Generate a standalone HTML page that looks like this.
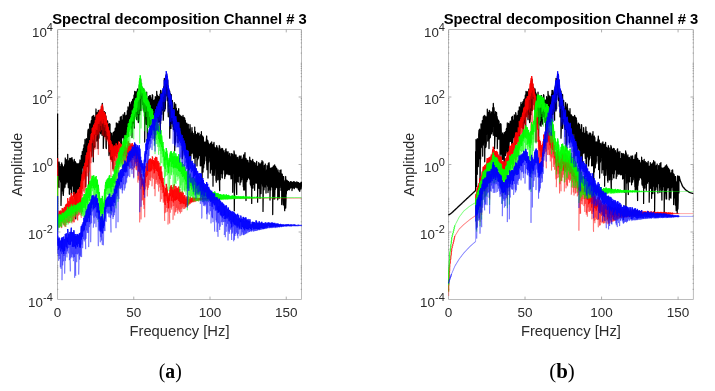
<!DOCTYPE html>
<html><head><meta charset="utf-8"><title>Spectral decomposition</title>
<style>
html,body{margin:0;padding:0;background:#fff;}
body{width:715px;height:391px;overflow:hidden;}
svg{display:block;will-change:transform;}
svg text{font-family:"Liberation Sans",sans-serif;}
svg text.cap{font-family:"Liberation Serif",serif;}
</style></head>
<body>
<svg width="715" height="391" viewBox="0 0 715 391">
<rect width="715" height="391" fill="#fff"/>
<g>
<clipPath id="cp0"><rect x="56.90" y="29.10" width="245.20" height="270.80"/></clipPath>
<path d="M57.50,29.50H301.50V299.50H57.50Z" fill="none" stroke="#bcbcbc" stroke-width="1.00"/>
<path d="M133.75,299.50v-2.90M133.75,29.50v2.90M210.00,299.50v-2.90M210.00,29.50v2.90M286.25,299.50v-2.90M286.25,29.50v2.90M57.00,289.34h1.30M302.00,289.34h-1.30M57.00,283.40h1.30M302.00,283.40h-1.30M57.00,279.18h1.30M302.00,279.18h-1.30M57.00,275.91h1.30M302.00,275.91h-1.30M57.00,273.24h1.30M302.00,273.24h-1.30M57.00,270.98h1.30M302.00,270.98h-1.30M57.00,269.02h1.30M302.00,269.02h-1.30M57.00,267.29h1.30M302.00,267.29h-1.30M57.00,265.75h1.30M302.00,265.75h-1.30M57.00,255.59h1.30M302.00,255.59h-1.30M57.00,249.65h1.30M302.00,249.65h-1.30M57.00,245.43h1.30M302.00,245.43h-1.30M57.00,242.16h1.30M302.00,242.16h-1.30M57.00,239.49h1.30M302.00,239.49h-1.30M57.00,237.23h1.30M302.00,237.23h-1.30M57.00,235.27h1.30M302.00,235.27h-1.30M57.00,233.54h1.30M302.00,233.54h-1.30M57.50,232.00h2.90M301.50,232.00h-2.90M57.00,221.84h1.30M302.00,221.84h-1.30M57.00,215.90h1.30M302.00,215.90h-1.30M57.00,211.68h1.30M302.00,211.68h-1.30M57.00,208.41h1.30M302.00,208.41h-1.30M57.00,205.74h1.30M302.00,205.74h-1.30M57.00,203.48h1.30M302.00,203.48h-1.30M57.00,201.52h1.30M302.00,201.52h-1.30M57.00,199.79h1.30M302.00,199.79h-1.30M57.00,198.25h1.30M302.00,198.25h-1.30M57.00,188.09h1.30M302.00,188.09h-1.30M57.00,182.15h1.30M302.00,182.15h-1.30M57.00,177.93h1.30M302.00,177.93h-1.30M57.00,174.66h1.30M302.00,174.66h-1.30M57.00,171.99h1.30M302.00,171.99h-1.30M57.00,169.73h1.30M302.00,169.73h-1.30M57.00,167.77h1.30M302.00,167.77h-1.30M57.00,166.04h1.30M302.00,166.04h-1.30M57.50,164.50h2.90M301.50,164.50h-2.90M57.00,154.34h1.30M302.00,154.34h-1.30M57.00,148.40h1.30M302.00,148.40h-1.30M57.00,144.18h1.30M302.00,144.18h-1.30M57.00,140.91h1.30M302.00,140.91h-1.30M57.00,138.24h1.30M302.00,138.24h-1.30M57.00,135.98h1.30M302.00,135.98h-1.30M57.00,134.02h1.30M302.00,134.02h-1.30M57.00,132.29h1.30M302.00,132.29h-1.30M57.00,130.75h1.30M302.00,130.75h-1.30M57.00,120.59h1.30M302.00,120.59h-1.30M57.00,114.65h1.30M302.00,114.65h-1.30M57.00,110.43h1.30M302.00,110.43h-1.30M57.00,107.16h1.30M302.00,107.16h-1.30M57.00,104.49h1.30M302.00,104.49h-1.30M57.00,102.23h1.30M302.00,102.23h-1.30M57.00,100.27h1.30M302.00,100.27h-1.30M57.00,98.54h1.30M302.00,98.54h-1.30M57.50,97.00h2.90M301.50,97.00h-2.90M57.00,86.84h1.30M302.00,86.84h-1.30M57.00,80.90h1.30M302.00,80.90h-1.30M57.00,76.68h1.30M302.00,76.68h-1.30M57.00,73.41h1.30M302.00,73.41h-1.30M57.00,70.74h1.30M302.00,70.74h-1.30M57.00,68.48h1.30M302.00,68.48h-1.30M57.00,66.52h1.30M302.00,66.52h-1.30M57.00,64.79h1.30M302.00,64.79h-1.30M57.00,63.25h1.30M302.00,63.25h-1.30M57.00,53.09h1.30M302.00,53.09h-1.30M57.00,47.15h1.30M302.00,47.15h-1.30M57.00,42.93h1.30M302.00,42.93h-1.30M57.00,39.66h1.30M302.00,39.66h-1.30M57.00,36.99h1.30M302.00,36.99h-1.30M57.00,34.73h1.30M302.00,34.73h-1.30M57.00,32.77h1.30M302.00,32.77h-1.30M57.00,31.04h1.30M302.00,31.04h-1.30" fill="none" stroke="#8c8c8c" stroke-width="0.7"/>
<g clip-path="url(#cp0)" fill="none" stroke-linejoin="round" stroke-linecap="butt">
<path d="M57.6,113.6 57.6,166.7 58.0,165.5 58.0,186.5 58.3,180.0 58.3,162.5 58.7,168.3 58.7,176.1 59.0,187.5 59.0,161.8 59.3,163.6 59.3,180.3 59.7,175.7 59.7,166.4 60.0,170.6 60.0,176.3 60.3,175.9 60.3,172.1 60.6,166.9 60.6,181.9 61.0,164.7 61.0,205.4 61.3,194.0 61.3,178.2 61.7,184.7 61.7,162.9 62.0,167.7 62.0,181.8 62.3,190.9 62.3,164.7 62.7,170.7 62.7,181.5 63.0,194.0 63.0,168.0 63.3,166.9 63.3,195.4 63.6,190.1 63.6,169.6 64.0,169.8 64.0,188.2 64.3,179.3 64.3,167.6 64.7,164.7 64.7,182.6 65.0,187.2 65.0,167.0 65.3,158.0 65.3,176.5 65.7,182.3 65.7,169.0 66.0,162.6 66.0,183.9 66.3,180.2 66.3,159.5 66.7,164.5 66.7,177.8 67.0,174.8 67.0,163.8 67.3,167.4 67.3,182.2 67.7,175.2 67.7,154.3 68.0,166.1 68.0,180.5 68.3,187.6 68.3,160.6 68.7,165.9 68.7,179.0 69.0,176.6 69.0,161.3 69.3,168.9 69.3,194.1 69.7,194.3 69.7,158.4 70.0,160.0 70.0,186.3 70.3,180.0 70.3,158.3 70.7,166.6 70.7,189.0 71.0,172.2 71.0,164.0 71.3,158.5 71.3,180.5 71.7,194.1 71.7,157.9 72.0,157.6 72.0,181.2 72.3,173.9 72.3,164.3 72.7,160.1 72.7,182.4 73.0,186.1 73.0,165.9 73.3,163.0 73.3,181.9 73.7,196.3 73.7,161.8 74.0,167.6 74.0,189.2 74.3,177.6 74.3,159.4 74.7,173.7 74.7,198.1 75.0,183.7 75.0,175.7 75.3,187.1 75.3,161.6 75.7,162.7 75.7,218.8 76.0,188.7 76.0,169.3 76.3,163.4 76.3,175.9 76.7,166.0 76.7,201.6 77.0,176.3 77.0,164.7 77.3,164.5 77.3,189.2 77.7,188.5 77.7,163.7 78.0,164.8 78.0,189.2 78.3,188.5 78.3,174.1 78.7,165.0 78.7,183.8 79.0,185.9 79.0,163.4 79.3,167.1 79.3,185.2 79.7,192.3 79.7,164.0 80.0,160.0 80.0,191.4 80.3,183.5 80.3,169.9 80.7,171.7 80.7,163.2 81.0,163.0 81.0,186.9 81.3,175.3 81.3,155.6 81.7,155.8 81.7,169.8 82.0,177.9 82.0,158.4 82.3,151.5 82.3,166.9 82.7,167.9 82.7,153.8 83.0,157.6 83.0,167.5 83.3,166.2 83.3,149.1 83.7,148.3 83.7,162.1 84.0,172.9 84.0,144.9 84.3,158.3 84.3,176.7 84.7,163.6 84.7,150.6 85.0,139.5 85.0,175.3 85.3,170.1 85.3,146.5 85.7,147.2 85.7,186.7 86.0,174.3 86.0,149.0 86.3,152.3 86.3,138.5 86.7,139.8 86.7,155.0 87.0,154.3 87.0,140.6 87.3,142.1 87.3,166.6 87.7,149.5 87.7,134.9 88.0,130.2 88.0,158.5 88.3,146.7 88.3,129.2 88.7,131.6 88.7,185.2 89.0,160.7 89.0,132.5 89.3,132.9 89.3,159.1 89.7,145.0 89.7,123.9 90.0,129.8 90.0,147.7 90.3,147.0 90.3,127.9 90.7,123.8 90.7,141.6 91.0,139.2 91.0,124.4 91.3,120.7 91.3,132.8 91.7,121.1 91.7,156.2 92.0,145.1 92.0,116.8 92.3,121.5 92.3,134.9 92.7,139.2 92.7,116.2 93.0,120.3 93.0,129.3 93.3,120.5 93.3,161.8 93.7,128.6 93.7,115.4 94.0,123.7 94.0,147.8 94.3,133.7 94.3,118.2 94.7,118.4 94.7,134.2 95.0,147.0 95.0,117.0 95.3,119.6 95.3,126.1 95.7,130.2 95.7,119.3 96.0,109.0 96.0,134.0 96.3,129.1 96.3,116.4 96.7,120.6 96.7,141.1 97.0,133.0 97.0,121.7 97.3,112.3 97.3,137.0 97.7,137.5 97.7,116.2 98.0,116.8 98.0,148.6 98.3,131.6 98.3,110.3 98.7,125.6 98.7,138.5 99.0,137.4 99.0,115.7 99.3,115.7 99.3,123.3 99.7,119.0 99.7,131.9 100.0,122.9 100.0,111.5 100.3,112.5 100.3,129.4 100.7,133.8 100.7,113.8 101.0,112.5 101.0,130.1 101.4,131.6 101.4,107.6 101.7,110.3 101.7,116.6 102.0,117.8 102.0,135.3 102.3,126.4 102.3,103.4 102.7,107.5 102.7,126.2 103.0,121.2 103.0,111.4 103.3,115.3 103.3,148.4 103.7,136.3 103.7,114.0 104.0,119.5 104.0,131.4 104.4,131.1 104.4,111.6 104.7,129.4 104.7,133.5 105.0,136.4 105.0,112.7 105.3,112.7 105.3,126.7 105.7,132.0 105.7,118.7 106.0,116.4 106.0,147.3 106.3,148.6 106.3,119.1 106.7,122.8 106.7,130.4 107.0,139.1 107.0,120.3 107.3,128.3 107.3,137.7 107.6,133.0 107.6,121.0 108.0,127.0 108.0,139.1 108.3,132.3 108.3,126.7 108.7,124.6 108.7,145.3 109.0,155.6 109.0,129.6 109.3,123.6 109.3,151.3 109.7,144.6 109.7,130.0 110.0,124.2 110.0,148.2 110.3,154.2 110.3,132.1 110.6,137.0 110.6,158.9 111.0,156.8 111.0,139.9 111.3,133.4 111.3,152.4 111.7,159.6 111.7,133.0 112.0,141.4 112.0,150.1 112.3,150.5 112.3,135.8 112.7,138.3 112.7,159.3 113.0,168.7 113.0,140.0 113.3,132.3 113.3,152.7 113.7,154.9 113.7,133.8 114.0,135.3 114.0,153.4 114.3,148.1 114.3,131.5 114.7,141.2 114.7,155.7 115.0,139.9 115.0,131.2 115.3,128.1 115.3,148.3 115.7,146.1 115.7,132.8 116.0,133.2 116.0,153.1 116.3,142.9 116.3,122.9 116.7,133.8 116.7,147.7 117.0,152.1 117.0,132.9 117.3,123.4 117.3,145.1 117.7,142.5 117.7,126.1 118.0,126.8 118.0,147.0 118.3,141.7 118.3,126.3 118.7,123.5 118.7,133.6 119.0,138.5 119.0,121.2 119.3,131.0 119.3,141.4 119.7,136.3 119.7,121.7 120.0,121.4 120.0,131.6 120.3,132.4 120.3,117.1 120.7,129.7 120.7,143.8 121.0,140.4 121.0,117.8 121.3,116.4 121.3,144.1 121.7,137.4 121.7,127.3 122.0,121.6 122.0,133.5 122.3,133.6 122.3,120.2 122.7,124.3 122.7,137.7 123.0,128.8 123.0,114.8 123.3,118.1 123.3,130.5 123.7,135.1 123.7,115.5 124.0,120.3 124.0,145.7 124.3,148.0 124.3,114.2 124.7,112.6 124.7,129.0 125.0,117.0 125.0,142.7 125.3,129.3 125.3,116.3 125.7,116.8 125.7,123.9 126.0,126.4 126.0,115.6 126.3,115.3 126.3,134.7 126.7,137.2 126.7,115.3 127.0,120.3 127.0,133.3 127.3,118.1 127.3,110.8 127.7,118.8 127.7,136.3 128.0,124.3 128.0,106.9 128.3,110.6 128.3,136.2 128.7,118.5 128.7,108.7 129.0,112.7 129.0,120.3 129.3,124.9 129.3,108.5 129.7,102.4 129.7,123.7 130.0,117.8 130.0,108.4 130.3,106.7 130.3,122.2 130.7,115.1 130.7,106.5 131.0,104.4 131.0,127.2 131.3,128.0 131.3,103.6 131.7,101.7 131.7,110.9 132.0,107.4 132.0,137.4 132.3,121.2 132.3,101.8 132.7,99.4 132.7,123.2 133.0,116.4 133.0,101.2 133.3,98.9 133.3,117.5 133.7,108.8 133.7,103.2 134.0,95.2 134.0,123.9 134.3,128.1 134.3,107.4 134.7,116.5 134.7,91.3 135.0,96.6 135.0,116.5 135.3,109.5 135.3,93.0 135.7,92.9 135.7,109.4 136.0,102.4 136.0,91.7 136.3,97.5 136.3,110.1 136.7,119.7 136.7,96.2 137.0,96.4 137.0,114.5 137.3,100.6 137.3,90.4 137.7,88.9 137.7,102.0 138.0,94.3 138.0,111.1 138.3,122.6 138.3,96.5 138.7,91.4 138.7,122.0 139.0,118.5 139.0,96.3 139.3,105.3 139.3,86.0 139.7,83.1 139.7,114.7 140.0,97.1 140.0,83.8 140.3,82.1 140.3,99.7 140.7,93.6 140.7,79.4 141.0,95.0 141.0,110.6 141.3,94.0 141.3,84.4 141.7,88.1 141.7,96.8 142.0,98.1 142.0,89.5 142.3,87.5 142.3,96.5 142.7,91.2 142.7,104.7 143.0,103.4 143.0,89.0 143.3,95.0 143.3,110.2 143.7,106.6 143.7,88.9 144.0,92.7 144.0,107.6 144.3,112.1 144.3,96.4 144.7,93.2 144.7,142.0 145.0,101.2 145.0,94.4 145.3,96.3 145.3,118.6 145.7,112.9 145.7,97.7 146.0,98.5 146.0,113.2 146.3,124.3 146.3,97.9 146.7,92.1 146.7,105.7 147.0,99.9 147.0,115.8 147.3,105.0 147.3,141.0 147.7,113.3 147.7,101.2 148.0,98.5 148.0,110.1 148.4,112.1 148.4,97.7 148.7,96.5 148.7,109.1 149.0,99.2 149.0,125.2 149.3,112.6 149.3,97.8 149.7,95.7 149.7,126.3 150.0,119.0 150.0,98.9 150.3,95.7 150.3,118.6 150.7,119.4 150.7,97.4 151.0,100.7 151.0,124.1 151.4,113.1 151.4,100.9 151.7,99.3 151.7,110.8 152.0,116.8 152.0,101.6 152.3,107.9 152.3,94.7 152.7,95.5 152.7,112.9 153.0,112.4 153.0,106.2 153.3,100.3 153.3,114.9 153.7,122.3 153.7,104.9 154.0,100.5 154.0,111.3 154.4,108.1 154.4,140.4 154.7,111.2 154.7,99.7 155.0,102.3 155.0,138.0 155.3,126.2 155.3,96.6 155.7,98.3 155.7,118.7 156.0,107.4 156.0,101.9 156.3,100.0 156.3,110.8 156.7,108.2 156.7,91.3 157.0,97.9 157.0,122.9 157.3,105.1 157.3,96.9 157.6,95.4 157.6,102.2 158.0,98.1 158.0,122.6 158.3,121.4 158.3,96.5 158.7,96.5 158.7,117.4 159.0,112.6 159.0,99.0 159.3,101.9 159.3,121.7 159.7,116.0 159.7,107.0 160.0,94.1 160.0,124.3 160.3,140.4 160.3,101.8 160.6,90.4 160.6,123.6 161.0,102.5 161.0,90.7 161.3,98.4 161.3,109.1 161.7,114.2 161.7,95.0 162.0,96.3 162.0,102.1 162.3,103.1 162.3,93.2 162.7,93.7 162.7,103.3 163.0,110.8 163.0,89.9 163.3,96.2 163.3,120.2 163.7,107.4 163.7,87.4 164.0,86.2 164.0,104.3 164.3,96.0 164.3,78.4 164.7,81.5 164.7,111.0 165.0,105.8 165.0,85.0 165.3,84.6 165.3,108.8 165.7,86.6 165.7,79.8 166.0,75.0 166.0,93.8 166.3,87.1 166.3,75.7 166.7,74.7 166.7,93.8 167.0,96.2 167.0,81.8 167.3,80.9 167.3,100.7 167.7,88.8 167.7,80.2 168.0,89.3 168.0,106.3 168.3,116.8 168.3,92.9 168.7,89.9 168.7,106.0 169.0,105.1 169.0,90.5 169.3,94.1 169.3,106.3 169.7,91.0 169.7,138.2 170.0,118.7 170.0,100.4 170.3,105.2 170.3,93.5 170.7,98.2 170.7,116.4 171.0,128.4 171.0,98.6 171.3,94.7 171.3,119.3 171.7,123.3 171.7,109.6 172.0,102.2 172.0,119.7 172.3,111.5 172.3,100.4 172.7,106.9 172.7,121.3 173.0,126.6 173.0,108.3 173.3,108.5 173.3,129.3 173.7,120.0 173.7,109.4 174.0,118.2 174.0,126.7 174.3,129.6 174.3,102.5 174.7,121.3 174.7,150.8 175.0,131.6 175.0,110.0 175.3,121.8 175.3,143.1 175.7,121.0 175.7,104.0 176.0,115.8 176.0,129.4 176.3,125.5 176.3,108.1 176.7,114.1 176.7,118.6 177.0,123.2 177.0,113.1 177.3,111.0 177.3,135.7 177.7,127.4 177.7,112.8 178.0,115.5 178.0,142.8 178.3,122.1 178.3,114.3 178.7,108.7 178.7,130.2 179.0,132.0 179.0,120.2 179.3,114.6 179.3,136.7 179.7,129.9 179.7,114.8 180.0,118.1 180.0,126.2 180.3,130.2 180.3,121.6 180.7,118.9 180.7,115.9 181.0,122.9 181.0,139.2 181.3,131.7 181.3,123.2 181.7,128.9 181.7,116.7 182.0,125.2 182.0,133.3 182.3,118.8 182.3,158.7 182.7,147.7 182.7,128.4 183.0,115.3 183.0,142.3 183.3,128.0 183.3,118.3 183.7,122.7 183.7,132.9 184.0,143.8 184.0,117.4 184.3,117.7 184.3,152.9 184.7,143.0 184.7,118.1 185.0,122.2 185.0,150.7 185.3,142.4 185.3,120.4 185.7,129.7 185.7,138.2 186.0,125.4 186.0,155.8 186.3,147.9 186.3,128.3 186.7,132.1 186.7,123.0 187.0,123.9 187.0,146.4 187.3,150.0 187.3,131.2 187.7,128.0 187.7,143.2 188.0,148.3 188.0,127.5 188.3,124.3 188.3,174.2 188.7,142.7 188.7,129.0 189.0,129.3 189.0,150.0 189.3,155.6 189.3,131.9 189.7,134.4 189.7,142.4 190.0,157.0 190.0,124.6 190.3,129.0 190.3,143.7 190.7,133.1 190.7,162.3 191.0,153.5 191.0,135.2 191.3,134.1 191.3,153.5 191.7,147.9 191.7,132.8 192.0,127.6 192.0,153.1 192.3,147.0 192.3,131.3 192.7,136.7 192.7,150.2 193.0,149.3 193.0,133.4 193.3,133.4 193.3,152.9 193.7,158.4 193.7,135.1 194.0,136.1 194.0,155.6 194.3,153.7 194.3,136.7 194.7,141.6 194.7,127.0 195.0,147.5 195.0,172.7 195.3,142.0 195.3,131.3 195.7,136.1 195.7,142.9 196.0,141.8 196.0,157.0 196.3,155.9 196.3,134.7 196.7,136.6 196.7,139.9 197.0,136.2 197.0,165.9 197.3,154.9 197.3,134.7 197.7,133.0 197.7,159.6 198.0,154.0 198.0,137.4 198.4,135.0 198.4,158.1 198.7,154.0 198.7,136.9 199.0,133.2 199.0,146.7 199.3,155.3 199.3,137.6 199.7,136.2 199.7,150.5 200.0,155.8 200.0,138.5 200.3,142.2 200.3,165.8 200.7,159.3 200.7,134.5 201.0,134.7 201.0,165.6 201.4,152.5 201.4,131.7 201.7,155.0 201.7,163.9 202.0,145.4 202.0,187.3 202.3,160.3 202.3,141.0 202.7,136.0 202.7,161.2 203.0,150.7 203.0,172.0 203.3,151.1 203.3,137.2 203.7,145.2 203.7,167.8 204.0,156.3 204.0,142.4 204.3,145.4 204.3,163.8 204.6,161.5 204.6,152.5 205.0,156.0 205.0,141.8 205.3,146.6 205.3,152.7 205.7,155.3 205.7,145.9 206.0,144.3 206.0,150.8 206.3,160.6 206.3,140.3 206.7,136.0 206.7,163.4 207.0,169.6 207.0,142.4 207.3,146.0 207.3,154.9 207.6,159.0 207.6,140.2 208.0,141.7 208.0,178.0 208.3,160.0 208.3,147.1 208.7,143.3 208.7,162.2 209.0,160.7 209.0,147.7 209.3,144.9 209.3,152.3 209.7,153.7 209.7,144.7 210.0,146.1 210.0,156.9 210.3,148.7 210.3,173.0 210.6,162.9 210.6,143.2 211.0,151.2 211.0,159.1 211.3,159.6 211.3,151.9 211.7,141.9 211.7,169.7 212.0,161.5 212.0,152.1 212.3,144.6 212.3,175.2 212.7,155.9 212.7,145.9 213.0,150.6 213.0,186.2 213.3,157.4 213.3,144.0 213.7,146.0 213.7,157.5 214.0,158.4 214.0,142.4 214.3,152.4 214.3,175.3 214.7,157.8 214.7,147.2 215.0,147.4 215.0,162.9 215.3,167.4 215.3,149.6 215.7,153.9 215.7,168.5 216.0,180.6 216.0,148.1 216.3,150.9 216.3,182.2 216.7,158.9 216.7,145.5 217.0,148.1 217.0,163.5 217.3,163.8 217.3,150.9 217.7,148.2 217.7,179.9 218.0,179.7 218.0,150.8 218.3,153.3 218.3,165.5 218.7,165.0 218.7,176.0 219.0,164.7 219.0,150.7 219.3,145.5 219.3,178.7 219.7,190.7 219.7,146.7 220.0,149.6 220.0,166.9 220.3,179.7 220.3,148.8 220.7,151.0 220.7,168.0 221.0,167.0 221.0,160.9 221.3,149.2 221.3,173.6 221.7,164.7 221.7,153.7 222.0,148.3 222.0,177.4 222.3,178.0 222.3,152.4 222.7,148.9 222.7,173.9 223.0,162.2 223.0,159.0 223.3,157.4 223.3,167.2 223.7,163.7 223.7,153.6 224.0,150.7 224.0,169.9 224.3,165.4 224.3,154.6 224.7,152.9 224.7,178.5 225.0,172.6 225.0,155.8 225.3,158.8 225.3,176.2 225.7,169.5 225.7,149.5 226.0,148.8 226.0,173.7 226.3,171.1 226.3,157.2 226.7,161.1 226.7,151.9 227.0,153.5 227.0,174.2 227.3,168.0 227.3,156.7 227.7,153.9 227.7,163.5 228.0,169.8 228.0,151.5 228.3,155.0 228.3,174.2 228.7,168.4 228.7,158.8 229.0,160.8 229.0,174.8 229.3,171.7 229.3,158.5 229.7,153.4 229.7,166.9 230.0,159.8 230.0,174.6 230.3,167.8 230.3,161.6 230.7,156.7 230.7,171.4 231.0,178.9 231.0,163.3 231.3,153.6 231.3,178.7 231.7,173.4 231.7,160.4 232.0,153.9 232.0,178.4 232.3,167.8 232.3,156.6 232.7,154.5 232.7,192.3 233.0,175.8 233.0,156.8 233.3,159.5 233.3,173.2 233.7,166.8 233.7,159.4 234.0,164.7 234.0,150.9 234.3,152.9 234.3,210.8 234.7,170.9 234.7,154.1 235.0,167.9 235.0,183.1 235.3,173.5 235.3,156.0 235.7,157.0 235.7,168.1 236.0,179.3 236.0,154.9 236.3,157.7 236.3,181.3 236.7,194.5 236.7,157.7 237.0,160.2 237.0,169.6 237.3,165.5 237.3,181.3 237.7,169.3 237.7,157.3 238.0,168.5 238.0,174.6 238.3,182.1 238.3,160.5 238.7,159.6 238.7,176.5 239.0,169.3 239.0,162.2 239.3,156.1 239.3,175.1 239.7,172.1 239.7,156.2 240.0,164.3 240.0,184.8 240.3,167.7 240.3,158.0 240.7,158.6 240.7,169.7 241.0,182.0 241.0,155.9 241.3,164.7 241.3,172.8 241.7,167.6 241.7,179.7 242.0,170.0 242.0,161.6 242.3,159.3 242.3,172.6 242.7,174.3 242.7,163.6 243.0,157.9 243.0,176.5 243.3,186.8 243.3,159.7 243.7,154.9 243.7,189.9 244.0,180.7 244.0,162.8 244.3,163.8 244.3,190.2 244.7,188.4 244.7,154.8 245.0,152.7 245.0,187.6 245.3,183.6 245.3,159.9 245.7,160.3 245.7,188.9 246.0,200.5 246.0,158.4 246.3,163.8 246.3,178.6 246.7,181.7 246.7,165.0 247.0,160.1 247.0,173.7 247.3,168.1 247.3,179.9 247.7,178.1 247.7,164.4 248.0,160.5 248.0,173.8 248.4,173.8 248.4,162.5 248.7,166.0 248.7,177.7 249.0,177.9 249.0,164.2 249.3,163.4 249.3,174.3 249.7,179.3 249.7,157.2 250.0,162.7 250.0,169.3 250.3,174.4 250.3,183.9 250.7,185.2 250.7,168.0 251.0,160.5 251.0,183.5 251.4,187.5 251.4,170.5 251.7,167.9 251.7,203.4 252.0,169.9 252.0,162.7 252.3,161.2 252.3,171.2 252.7,159.3 252.7,186.3 253.0,188.1 253.0,166.9 253.3,161.7 253.3,178.8 253.7,184.3 253.7,165.6 254.0,166.0 254.0,178.5 254.3,176.9 254.3,163.5 254.6,162.7 254.6,190.3 255.0,177.0 255.0,168.4 255.3,165.6 255.3,176.4 255.7,176.1 255.7,169.9 256.0,163.2 256.0,183.1 256.3,180.9 256.3,166.7 256.7,161.3 256.7,172.4 257.0,166.7 257.0,178.3 257.3,183.5 257.3,168.4 257.6,169.4 257.6,202.2 258.0,170.4 258.0,166.2 258.3,167.7 258.3,186.4 258.7,186.5 258.7,162.5 259.0,164.4 259.0,188.3 259.3,181.9 259.3,168.2 259.7,167.7 259.7,181.3 260.0,198.3 260.0,163.9 260.3,165.4 260.3,183.7 260.7,182.7 260.7,164.8 261.0,170.3 261.0,193.5 261.3,181.1 261.3,162.8 261.7,169.9 261.7,178.7 262.0,183.5 262.0,160.6 262.3,168.3 262.3,178.8 262.7,186.2 262.7,164.3 263.0,161.9 263.0,211.4 263.3,189.3 263.3,169.3 263.7,168.7 263.7,177.1 264.0,170.0 264.0,189.8 264.3,176.8 264.3,165.6 264.7,165.6 264.7,184.6 265.0,186.9 265.0,169.9 265.3,164.0 265.3,176.4 265.7,178.1 265.7,172.0 266.0,171.0 266.0,193.0 266.3,179.9 266.3,174.3 266.7,169.7 266.7,182.5 267.0,183.7 267.0,165.5 267.3,172.7 267.3,183.2 267.7,186.5 267.7,173.0 268.0,166.9 268.0,192.5 268.3,171.8 268.3,163.6 268.7,167.9 268.7,190.1 269.0,174.3 269.0,162.6 269.3,166.3 269.3,180.8 269.7,186.8 269.7,172.0 270.0,171.2 270.0,200.1 270.3,182.5 270.3,168.4 270.7,172.0 270.7,190.0 271.0,182.5 271.0,168.1 271.3,169.8 271.3,186.6 271.7,184.5 271.7,167.9 272.0,168.3 272.0,179.8 272.3,187.2 272.3,171.8 272.7,167.3 272.7,214.6 273.0,182.1 273.0,169.7 273.3,166.1 273.3,198.9 273.7,185.5 273.7,165.9 274.0,181.9 274.0,192.9 274.3,176.5 274.3,170.5 274.7,164.9 274.7,199.0 275.0,185.5 275.0,166.0 275.3,169.1 275.3,189.6 275.7,175.9 275.7,166.9 276.0,173.5 276.0,184.7 276.3,186.6 276.3,169.2 276.7,168.4 276.7,187.7 277.0,186.7 277.0,171.7 277.3,175.5 277.3,187.0 277.7,177.7 277.7,199.8 278.0,197.3 278.0,169.8 278.3,174.5 278.3,192.7 278.7,183.5 278.7,175.1 279.0,173.0 279.0,189.4 279.3,198.2 279.3,175.3 279.7,179.5 279.7,187.6 280.0,174.5 280.0,170.3 280.3,180.2 280.3,185.2 280.7,182.0 280.7,171.5 281.0,169.9 281.0,190.4 281.3,183.6 281.3,174.8 281.7,175.1 281.7,204.6 282.0,195.3 282.0,173.9 282.3,174.6 282.3,197.9 282.7,194.0 282.7,177.5 283.0,181.6 283.0,191.8 283.3,205.0 283.3,176.7 283.7,176.7 283.7,196.8 284.0,191.0 284.0,180.2 284.3,181.7 284.3,201.0 284.7,210.7 284.7,182.2 285.0,183.1 285.0,207.0 285.3,198.4 285.3,190.1 285.7,176.5 285.7,208.0 286.0,200.1 286.0,179.7 286.3,181.9 286.3,194.3 286.7,187.2 286.7,184.2 287.0,187.7 287.0,180.3 287.3,181.0 287.3,190.4 287.7,186.0 287.7,181.1 288.0,181.6 288.0,188.7 288.3,189.6 288.3,183.2 288.7,181.7 288.7,187.6 289.0,186.5 289.0,184.1 289.3,184.3 289.3,189.8 289.7,186.1 289.7,182.8 290.0,183.3 290.0,188.5 290.3,187.2 290.3,182.6 290.7,181.6 290.7,186.1 291.0,183.8 291.0,182.1 291.3,181.9 291.3,187.4 291.7,186.1 291.7,182.2 292.0,183.8 292.0,190.5 292.3,187.4 292.3,182.4 292.7,184.2 292.7,187.8 293.0,188.0 293.0,184.6 293.3,186.7 293.3,182.1 293.7,181.7 293.7,187.0 294.0,184.0 294.0,181.8 294.3,183.8 294.3,188.7 294.7,185.7 294.7,181.8 295.0,183.5 295.0,187.3 295.4,186.2 295.4,182.5 295.7,184.2 295.7,186.4 296.0,187.2 296.0,183.3 296.3,184.3 296.3,187.1 296.7,185.7 296.7,181.8 297.0,184.1 297.0,187.9 297.3,187.7 297.3,182.5 297.7,182.3 297.7,187.7 298.0,187.8 298.0,184.0 298.4,182.6 298.4,189.6 298.7,185.4 298.7,183.9 299.0,183.1 299.0,188.4 299.3,190.7 299.3,184.1 299.7,184.2 299.7,191.3 300.0,189.3 300.0,183.9 300.3,183.4 300.3,188.6 300.7,185.5 300.7,182.9 301.0,183.2 301.0,188.9 301.4,186.1 301.4,181.8" stroke="#000" stroke-width="1.25"/>
<path d="M57.7,158.0 57.7,223.1 58.2,223.2 58.2,214.3 58.7,214.1 58.7,221.8 59.2,220.5 59.2,210.8 59.7,211.7 59.7,221.1 60.2,220.3 60.2,211.4 60.7,210.5 60.7,218.8 61.2,219.9 61.2,211.3 61.7,212.5 61.7,220.3 62.2,218.1 62.2,208.1 62.7,210.2 62.7,217.7 63.2,218.5 63.2,208.6 63.7,209.9 63.7,219.6 64.2,219.2 64.2,207.5 64.7,207.0 64.7,215.4 65.2,214.1 65.2,206.5 65.7,204.6 65.7,215.4 66.2,214.8 66.2,205.9 66.7,203.8 66.7,217.4 67.2,211.5 67.2,203.8 67.7,208.0 67.7,198.1 68.2,202.6 68.2,213.7 68.7,209.8 68.7,201.2 69.2,202.0 69.2,209.4 69.8,209.9 69.8,197.5 70.3,197.1 70.3,211.7 70.8,208.3 70.8,197.7 71.3,193.0 71.3,209.0 71.8,207.3 71.8,196.0 72.3,197.5 72.3,212.1 72.8,207.5 72.8,195.6 73.3,201.3 73.3,211.5 73.8,208.9 73.8,192.0 74.3,197.2 74.3,206.6 74.8,207.8 74.8,196.0 75.3,194.3 75.3,204.6 75.8,206.3 75.8,194.3 76.3,193.3 76.3,206.0 76.8,205.9 76.8,192.9 77.3,192.7 77.3,205.8 77.8,202.1 77.8,189.9 78.3,193.0 78.3,201.8 78.8,205.2 78.8,190.6 79.3,188.8 79.3,204.4 79.8,199.6 79.8,187.0 80.3,188.4 80.3,203.8 80.8,194.5 80.8,183.5 81.3,180.8 81.3,193.8 81.7,186.5 81.7,178.6 82.2,174.2 82.2,188.9 82.7,188.0 82.7,175.4 83.2,171.4 83.2,180.7 83.7,179.7 83.7,167.1 84.2,166.2 84.2,179.3 84.7,174.6 84.7,163.4 85.2,162.7 85.2,169.5 85.7,171.3 85.7,160.4 86.2,155.0 86.2,166.4 86.7,164.4 86.7,152.7 87.2,152.3 87.2,165.2 87.7,159.8 87.7,149.7 88.2,145.5 88.2,158.6 88.7,157.7 88.7,143.5 89.2,145.1 89.2,160.0 89.7,150.5 89.7,140.2 90.2,141.5 90.2,151.5 90.7,147.2 90.7,137.3 91.2,133.9 91.2,143.3 91.7,141.0 91.7,133.0 92.2,137.0 92.2,128.1 92.7,127.6 92.7,134.9 93.2,139.5 93.2,127.9 93.7,124.8 93.7,133.7 94.3,134.4 94.3,124.7 94.8,122.9 94.8,134.2 95.3,129.1 95.3,120.1 95.8,120.3 95.8,128.9 96.3,125.9 96.3,115.2 96.8,117.7 96.8,130.0 97.3,125.0 97.3,114.2 97.8,114.5 97.8,123.7 98.3,122.7 98.3,112.5 98.8,115.3 98.8,124.0 99.3,120.6 99.3,111.6 99.8,110.0 99.8,121.4 100.3,119.0 100.3,109.3 100.8,110.8 100.8,120.4 101.3,119.0 101.3,105.8 101.8,109.1 101.8,117.7 102.3,123.3 102.3,104.3 102.8,107.6 102.8,115.5 103.3,119.1 103.3,111.9 103.8,112.3 103.8,119.0 104.3,123.0 104.3,111.9 104.8,113.4 104.8,125.0 105.3,123.9 105.3,114.0 105.8,115.2 105.8,122.8 106.2,124.7 106.2,118.1 106.7,122.6 106.7,129.1 107.2,132.1 107.2,122.9 107.7,125.4 107.7,136.1 108.2,134.5 108.2,126.9 108.7,130.9 108.7,141.3 109.2,142.0 109.2,130.5 109.7,133.5 109.7,144.1 110.2,140.0 110.2,149.2 110.7,150.0 110.7,141.1 111.2,143.9 111.2,156.7 111.7,154.0 111.7,143.9 112.2,144.7 112.2,154.3 112.7,156.2 112.7,147.3 113.2,146.5 113.2,158.7 113.7,156.4 113.7,148.8 114.2,145.4 114.2,154.8 114.7,160.7 114.7,147.6 115.2,146.3 115.2,156.3 115.7,155.3 115.7,146.2 116.2,143.4 116.2,154.6 116.7,157.5 116.7,146.6 117.2,144.8 117.2,151.8 117.7,154.1 117.7,145.8 118.2,146.7 118.2,155.7 118.8,153.2 118.8,141.5 119.3,148.8 119.3,156.0 119.8,153.2 119.8,143.7 120.3,143.2 120.3,152.1 120.8,155.3 120.8,144.8 121.3,144.2 121.3,156.6 121.8,155.5 121.8,147.9 122.3,146.2 122.3,154.6 122.8,153.8 122.8,144.0 123.3,144.2 123.3,153.2 123.8,156.4 123.8,146.1 124.3,144.8 124.3,153.5 124.8,151.7 124.8,142.5 125.3,144.4 125.3,154.3 125.8,156.5 125.8,147.9 126.3,148.2 126.3,153.7 126.8,158.1 126.8,148.6 127.3,144.9 127.3,152.9 127.8,153.7 127.8,144.4 128.3,141.3 128.3,155.0 128.8,151.3 128.8,143.7 129.3,143.4 129.3,152.7 129.8,153.2 129.8,143.2 130.3,145.6 130.3,152.9 130.7,152.8 130.7,144.7 131.2,144.7 131.2,154.3 131.7,152.4 131.7,144.8 132.2,143.0 132.2,154.2 132.7,155.3 132.7,144.8 133.2,145.1 133.2,151.3 133.7,155.2 133.7,146.9 134.2,144.8 134.2,154.8 134.7,156.4 134.7,143.3 135.2,146.5 135.2,153.0 135.7,155.8 135.7,147.1 136.2,151.2 136.2,162.8 136.7,161.6 136.7,152.1 137.2,150.6 137.2,161.0 137.7,161.9 137.7,152.8 138.2,155.8 138.2,164.7 138.7,167.4 138.7,157.5 139.2,154.3 139.2,168.9 139.7,173.4 139.7,159.2 140.2,165.2 140.2,171.4 140.7,168.8 140.7,178.6 141.2,180.2 141.2,173.9 141.7,174.4 141.7,182.9 142.2,185.0 142.2,178.7 142.7,179.0 142.7,184.8 143.3,183.6 143.3,192.2 143.8,194.8 143.8,181.4 144.3,178.9 144.3,191.5 144.8,182.7 144.8,173.7 145.3,172.5 145.3,182.7 145.8,177.9 145.8,166.1 146.3,166.0 146.3,177.0 146.8,170.5 146.8,163.2 147.3,166.7 147.3,175.5 147.8,173.8 147.8,162.7 148.3,160.7 148.3,171.4 148.8,168.3 148.8,160.0 149.3,159.3 149.3,168.0 149.8,171.8 149.8,159.0 150.3,158.5 150.3,167.3 150.8,171.2 150.8,159.4 151.3,159.5 151.3,169.9 151.8,168.6 151.8,160.4 152.3,164.0 152.3,156.5 152.8,157.9 152.8,168.0 153.3,169.6 153.3,160.0 153.8,161.6 153.8,166.3 154.3,160.9 154.3,173.1 154.8,169.5 154.8,158.3 155.2,158.1 155.2,167.7 155.7,168.9 155.7,156.8 156.2,161.6 156.2,170.9 156.7,168.8 156.7,157.2 157.2,161.8 157.2,169.2 157.7,171.7 157.7,161.3 158.2,161.2 158.2,173.3 158.7,175.8 158.7,164.1 159.2,162.8 159.2,175.4 159.7,179.0 159.7,169.1 160.2,166.5 160.2,179.7 160.7,180.4 160.7,167.1 161.2,166.5 161.2,180.4 161.7,183.1 161.7,171.6 162.2,176.5 162.2,184.6 162.7,187.0 162.7,179.0 163.2,178.1 163.2,189.6 163.7,192.5 163.7,184.9 164.2,186.5 164.2,196.4 164.7,192.7 164.7,201.1 165.2,205.0 165.2,191.3 165.7,187.9 165.7,196.1 166.2,193.9 166.2,183.9 166.7,186.5 166.7,196.7 167.2,201.2 167.2,189.6 167.8,193.7 167.8,203.0 168.3,197.6 168.3,208.4 168.8,200.8 168.8,195.6 169.3,193.1 169.3,200.7 169.8,200.9 169.8,189.9 170.3,186.9 170.3,196.2 170.8,193.8 170.8,186.2 171.3,185.2 171.3,195.8 171.8,200.9 171.8,187.1 172.3,187.4 172.3,193.9 172.8,197.6 172.8,190.2 173.3,190.7 173.3,202.5 173.8,197.7 173.8,185.3 174.3,184.3 174.3,198.8 174.8,200.6 174.8,189.3 175.3,190.9 175.3,200.5 175.8,196.8 175.8,186.1 176.3,187.8 176.3,200.0 176.8,195.2 176.8,189.9 177.3,187.8 177.3,196.9 177.8,199.3 177.8,188.9 178.3,191.1 178.3,199.4 178.8,200.9 178.8,186.6 179.3,191.5 179.3,199.6 179.7,201.9 179.7,189.0 180.2,193.9 180.2,204.1 180.7,200.2 180.7,192.0 181.2,193.9 181.2,202.1 181.7,203.5 181.7,193.3 182.2,191.4 182.2,202.8 182.7,203.2 182.7,196.5 183.2,192.7 183.2,201.7 183.7,203.9 183.7,196.8 184.2,196.6 184.2,204.2 184.7,203.4 184.7,195.1 185.2,197.3 185.2,203.0 185.7,206.5 185.7,198.9 186.2,198.8 186.2,205.1 186.7,204.4 186.7,196.7 187.2,197.6 187.2,204.7 187.7,203.6 187.7,198.0 188.2,196.4 188.2,203.8 188.7,204.1 188.7,199.8 189.2,199.2 189.2,202.9 189.7,203.1 189.7,199.2 190.2,196.9 190.2,202.3 190.7,201.4 190.7,198.6 191.2,197.8 191.2,201.9 191.8,201.9 191.8,198.8 192.3,198.1 192.3,201.5 192.8,201.3 192.8,197.5 193.3,198.1 193.3,201.2 193.8,200.8 193.8,197.7 194.3,197.8 194.3,200.7 194.8,200.3 194.8,198.2 195.3,197.9 195.3,199.7 195.8,200.6 195.8,198.3 196.3,198.2 196.3,200.6 196.8,200.1 196.8,198.3 197.3,198.6 197.3,200.2 197.8,200.3 197.8,198.0 198.3,198.3 198.3,199.9 198.8,199.6 198.8,198.2 199.3,198.2 199.3,199.3 199.8,199.5 199.8,198.5 200.3,198.0 200.3,199.5 200.8,199.5 200.8,197.7 201.3,198.2 201.3,199.5 M202.3,199.4 202.3,198.2 202.8,197.8 202.8,199.1 203.3,198.7 203.3,198.1 203.8,198.2 203.8,199.0 M204.7,198.9 204.7,198.1 205.2,198.2 205.2,199.0 205.7,198.9 205.7,198.2 M206.7,198.2 206.7,199.0" stroke="#ff0000" stroke-width="0.80"/>
<path d="M57.7,158.0 57.7,230.1 58.0,229.2 58.0,212.7 58.3,214.3 58.3,225.8 58.7,227.2 58.7,214.1 59.0,210.8 59.0,221.9 59.3,227.3 59.3,212.9 59.7,211.7 59.7,227.1 60.0,225.5 60.0,212.3 60.3,211.4 60.3,226.2 60.7,222.0 60.7,212.0 61.0,210.5 61.0,224.7 61.3,227.7 61.3,211.3 61.7,212.9 61.7,228.1 62.0,223.7 62.0,209.4 62.3,208.1 62.3,222.7 62.7,221.5 62.7,210.2 63.0,208.6 63.0,221.9 63.3,224.4 63.3,210.3 63.7,209.9 63.7,224.9 64.0,225.0 64.0,210.0 64.3,207.5 64.3,225.8 64.7,224.2 64.7,207.6 65.0,207.0 65.0,227.1 65.3,222.5 65.3,206.5 65.7,206.6 65.7,226.1 66.0,226.8 66.0,204.6 66.3,206.3 66.3,221.3 66.7,222.7 66.7,204.8 67.0,203.8 67.0,218.2 67.3,222.5 67.3,203.8 67.7,198.1 67.7,222.6 68.0,220.5 68.0,202.6 68.3,202.6 68.3,220.8 68.7,223.6 68.7,201.2 69.0,201.5 69.0,222.3 69.3,216.2 69.3,202.0 69.7,199.3 69.7,223.0 70.0,218.0 70.0,197.5 70.3,197.1 70.3,218.1 70.7,214.8 70.7,197.7 71.0,199.4 71.0,217.0 71.3,221.8 71.3,193.0 71.7,196.0 71.7,221.1 72.0,223.4 72.0,198.9 72.3,197.5 72.3,218.2 72.7,221.6 72.7,195.6 73.0,199.3 73.0,221.2 73.3,221.3 73.3,201.9 73.7,198.7 73.7,222.4 74.0,216.5 74.0,192.0 74.3,197.2 74.3,222.3 74.7,220.6 74.7,196.9 75.0,196.0 75.0,218.2 75.3,213.3 75.3,194.3 75.7,194.3 75.7,217.4 76.0,209.7 76.0,195.6 76.3,193.3 76.3,214.8 76.7,209.9 76.7,192.9 77.0,195.2 77.0,216.0 77.3,219.9 77.3,192.7 77.7,193.9 77.7,220.6 78.0,208.0 78.0,189.9 78.3,193.1 78.3,215.7 78.7,213.0 78.7,191.0 79.0,188.8 79.0,214.5 79.3,213.5 79.3,189.2 79.7,187.0 79.7,211.4 80.0,215.1 80.0,187.4 80.3,191.0 80.3,211.7 80.7,207.1 80.7,186.2 81.0,183.5 81.0,216.4 81.3,217.8 81.3,180.8 81.7,178.6 81.7,214.3 82.0,193.1 82.0,179.9 82.3,174.2 82.3,196.2 82.7,192.6 82.7,176.9 83.0,172.4 83.0,191.5 83.3,184.9 83.3,171.4 83.7,171.0 83.7,191.2 84.0,191.2 84.0,166.2 84.3,168.3 84.3,193.3 84.7,179.6 84.7,167.7 85.0,162.7 85.0,187.6 85.3,185.3 85.3,163.3 85.7,160.4 85.7,190.3 86.0,184.3 86.0,163.9 86.3,155.0 86.3,176.2 86.7,175.1 86.7,156.3 87.0,152.7 87.0,167.5 87.3,176.4 87.3,152.3 87.7,152.6 87.7,167.8 88.0,173.1 88.0,148.8 88.3,145.5 88.3,174.6 88.7,184.5 88.7,143.5 89.0,147.0 89.0,171.6 89.3,165.3 89.3,145.1 89.7,140.2 89.7,163.3 90.0,160.5 90.0,141.8 90.3,141.5 90.3,160.8 90.7,178.9 90.7,137.3 91.0,137.4 91.0,163.2 91.3,149.0 91.3,133.9 91.7,133.0 91.7,157.6 92.0,148.5 92.0,129.1 92.3,128.1 92.3,140.7 92.7,143.1 92.7,127.6 93.0,127.9 93.0,140.7 93.3,128.5 93.3,157.6 93.7,151.9 93.7,124.8 94.0,127.0 94.0,145.6 94.3,138.6 94.3,124.7 94.7,124.5 94.7,149.7 95.0,143.5 95.0,122.2 95.3,120.1 95.3,133.2 95.7,138.7 95.7,120.6 96.0,115.2 96.0,149.2 96.3,131.0 96.3,118.1 96.7,121.9 96.7,136.3 97.0,130.3 97.0,114.2 97.3,115.6 97.3,134.7 97.7,132.9 97.7,117.1 98.0,114.5 98.0,139.4 98.3,154.9 98.3,112.5 98.7,115.3 98.7,131.3 99.0,134.3 99.0,115.1 99.3,111.6 99.3,131.7 99.7,126.4 99.7,116.3 100.0,109.3 100.0,125.4 100.3,131.7 100.3,111.5 100.7,110.8 100.7,126.0 101.0,125.7 101.0,109.5 101.3,105.8 101.3,123.8 101.7,130.2 101.7,109.1 102.0,111.1 102.0,125.9 102.3,134.9 102.3,104.3 102.7,107.6 102.7,123.7 103.0,124.2 103.0,108.4 103.3,111.9 103.3,136.0 103.7,127.9 103.7,112.3 104.0,113.9 104.0,124.7 104.3,127.3 104.3,111.9 104.7,114.1 104.7,127.9 105.0,138.3 105.0,113.4 105.3,114.0 105.3,130.9 105.7,128.5 105.7,115.2 106.0,117.0 106.0,139.0 106.3,140.5 106.3,118.1 106.7,122.6 106.7,134.1 107.0,135.6 107.0,122.6 107.3,127.4 107.3,139.9 107.7,141.5 107.7,125.4 108.0,126.9 108.0,139.8 108.3,144.6 108.3,130.0 108.7,130.9 108.7,148.4 109.0,152.4 109.0,130.5 109.3,132.1 109.3,150.5 109.7,152.2 109.7,134.1 110.0,133.5 110.0,153.5 110.3,159.9 110.3,140.0 110.7,142.2 110.7,163.6 111.0,177.0 111.0,141.1 111.3,143.9 111.3,159.3 111.7,162.1 111.7,143.9 112.0,145.0 112.0,161.2 112.3,159.8 112.3,144.7 112.7,147.3 112.7,164.3 113.0,171.5 113.0,147.6 113.3,146.5 113.3,170.5 113.7,164.2 113.7,148.8 114.0,150.1 114.0,162.3 114.3,171.7 114.3,145.4 114.7,147.6 114.7,170.1 115.0,164.4 115.0,148.0 115.3,146.3 115.3,164.9 115.7,162.7 115.7,146.2 116.0,147.2 116.0,190.0 116.3,157.2 116.3,143.4 116.7,146.6 116.7,160.7 117.0,164.1 117.0,146.3 117.3,144.8 117.3,161.5 117.7,159.0 117.7,145.8 118.0,147.6 118.0,189.6 118.3,161.0 118.3,146.7 118.7,141.5 118.7,165.7 119.0,169.1 119.0,144.2 119.3,149.7 119.3,159.3 119.7,158.4 119.7,143.7 120.0,144.0 120.0,155.5 120.3,161.3 120.3,143.2 120.7,148.2 120.7,162.2 121.0,163.6 121.0,144.8 121.3,144.2 121.3,163.4 121.7,163.0 121.7,147.9 122.0,148.2 122.0,158.3 122.3,146.2 122.3,170.7 122.7,168.2 122.7,144.0 123.0,144.8 123.0,156.2 123.3,161.4 123.3,144.2 123.7,146.1 123.7,164.4 124.0,166.9 124.0,144.8 124.3,145.7 124.3,171.9 124.7,158.0 124.7,142.5 125.0,147.4 125.0,171.0 125.3,170.0 125.3,144.4 125.7,148.9 125.7,168.1 126.0,158.3 126.0,147.9 126.3,148.2 126.3,161.6 126.7,168.5 126.7,148.6 127.0,147.2 127.0,164.8 127.3,162.3 127.3,144.9 127.7,148.1 127.7,164.2 128.0,156.6 128.0,141.3 128.3,147.3 128.3,165.1 128.7,153.7 128.7,145.0 129.0,143.7 129.0,156.5 129.3,158.0 129.3,143.4 129.7,143.2 129.7,168.9 130.0,154.8 130.0,143.4 130.3,146.3 130.3,161.7 130.7,160.1 130.7,146.9 131.0,144.7 131.0,162.4 131.3,162.5 131.3,144.7 131.7,144.8 131.7,161.7 132.0,169.9 132.0,148.6 132.3,143.0 132.3,165.9 132.7,163.9 132.7,144.8 133.0,146.4 133.0,157.0 133.3,158.2 133.3,145.1 133.7,146.9 133.7,177.2 134.0,164.1 134.0,144.8 134.3,147.8 134.3,167.8 134.7,160.9 134.7,143.3 135.0,148.1 135.0,161.3 135.3,163.9 135.3,146.5 135.7,147.5 135.7,162.5 136.0,169.7 136.0,147.1 136.3,151.2 136.3,165.5 136.7,170.3 136.7,152.1 137.0,153.8 137.0,167.4 137.3,165.2 137.3,150.6 137.7,152.8 137.7,181.7 138.0,182.7 138.0,154.0 138.3,155.8 138.3,178.2 138.7,179.6 138.7,157.5 139.0,156.9 139.0,180.3 139.3,180.9 139.3,154.3 139.7,161.1 139.7,222.4 140.0,175.9 140.0,159.2 140.3,165.2 140.3,184.0 140.7,189.3 140.7,168.8 141.0,172.1 141.0,219.4 141.3,187.3 141.3,173.9 141.7,174.4 141.7,187.2 142.0,178.5 142.0,200.6 142.3,191.7 142.3,178.7 142.7,179.0 142.7,199.7 143.0,199.9 143.0,180.4 143.3,183.6 143.3,198.8 143.7,204.9 143.7,181.4 144.0,181.8 144.0,208.9 144.3,196.9 144.3,178.9 144.7,173.7 144.7,217.3 145.0,189.3 145.0,176.3 145.3,172.5 145.3,189.4 145.7,187.3 145.7,166.1 146.0,167.7 146.0,180.2 146.3,186.5 146.3,166.0 146.7,163.2 146.7,173.3 147.0,166.7 147.0,185.3 147.3,196.4 147.3,170.3 147.7,162.7 147.7,189.9 148.0,178.1 148.0,163.9 148.3,160.7 148.3,187.8 148.7,176.8 148.7,160.0 149.0,160.7 149.0,185.1 149.3,171.0 149.3,159.3 149.7,159.0 149.7,180.0 150.0,174.7 150.0,160.9 150.3,158.5 150.3,174.2 150.7,181.1 150.7,159.4 151.0,159.9 151.0,177.6 151.3,177.2 151.3,159.5 151.7,160.4 151.7,171.2 152.0,161.9 152.0,186.3 152.3,178.6 152.3,156.5 152.7,157.9 152.7,177.8 153.0,176.6 153.0,160.7 153.3,160.0 153.3,179.1 153.7,177.0 153.7,162.3 154.0,160.9 154.0,173.6 154.3,162.7 154.3,189.1 154.7,171.6 154.7,158.3 155.0,158.4 155.0,196.2 155.3,179.9 155.3,158.1 155.7,156.8 155.7,174.8 156.0,184.0 156.0,162.7 156.3,161.6 156.3,179.9 156.7,175.1 156.7,157.2 157.0,161.9 157.0,182.5 157.3,173.1 157.3,161.8 157.7,161.3 157.7,184.7 158.0,180.1 158.0,162.8 158.3,161.2 158.3,184.5 158.7,191.5 158.7,164.1 159.0,162.8 159.0,177.8 159.3,183.8 159.3,168.4 159.7,172.1 159.7,187.4 160.0,187.1 160.0,166.5 160.3,167.0 160.3,201.8 160.7,189.1 160.7,167.1 161.0,166.5 161.0,190.1 161.3,184.8 161.3,172.1 161.7,171.6 161.7,199.2 162.0,192.0 162.0,177.7 162.3,176.5 162.3,193.1 162.7,190.1 162.7,179.0 163.0,178.1 163.0,198.7 163.3,202.7 163.3,182.1 163.7,184.9 163.7,196.3 164.0,201.5 164.0,186.5 164.3,187.8 164.3,207.8 164.7,220.9 164.7,192.7 165.0,194.5 165.0,213.2 165.3,210.9 165.3,191.3 165.7,187.9 165.7,207.7 166.0,212.3 166.0,186.6 166.3,183.9 166.3,196.7 166.7,186.5 166.7,207.9 167.0,203.9 167.0,187.2 167.3,189.6 167.3,211.8 167.7,209.0 167.7,193.7 168.0,195.8 168.0,224.5 168.3,216.2 168.3,197.6 168.7,195.6 168.7,207.9 169.0,207.3 169.0,193.1 169.3,194.4 169.3,208.9 169.7,223.5 169.7,189.9 170.0,191.2 170.0,208.1 170.3,212.7 170.3,186.9 170.7,186.2 170.7,203.0 171.0,207.9 171.0,185.2 171.3,185.5 171.3,205.0 171.7,209.6 171.7,187.1 172.0,188.3 172.0,206.6 172.3,198.3 172.3,187.4 172.7,191.1 172.7,201.4 173.0,190.2 173.0,219.8 173.3,212.8 173.3,190.7 173.7,185.3 173.7,206.0 174.0,203.1 174.0,187.6 174.3,184.3 174.3,210.9 174.7,215.5 174.7,191.3 175.0,189.3 175.0,203.2 175.3,212.4 175.3,190.9 175.7,186.1 175.7,205.8 176.0,211.8 176.0,193.0 176.3,187.8 176.3,203.3 176.7,207.9 176.7,189.9 177.0,190.5 177.0,210.3 177.3,208.6 177.3,187.8 177.7,188.9 177.7,213.6 178.0,208.5 178.0,191.1 178.3,191.1 178.3,209.6 178.7,204.5 178.7,186.6 179.0,196.4 179.0,210.7 179.3,209.8 179.3,191.5 179.7,189.0 179.7,212.0 180.0,204.5 180.0,193.9 180.3,195.3 180.3,213.5 180.7,210.4 180.7,192.0 181.0,193.9 181.0,209.2 181.3,207.8 181.3,197.1 181.7,193.3 181.7,212.1 182.0,209.4 182.0,191.4 182.3,194.4 182.3,207.0 182.7,207.6 182.7,196.5 183.0,192.7 183.0,206.5 183.3,209.1 183.3,195.4 183.7,196.8 183.7,206.7 184.0,206.4 184.0,196.6 184.3,197.8 184.3,208.9 184.7,204.7 184.7,195.1 185.0,197.4 185.0,208.5 185.3,207.9 185.3,197.3 185.7,198.9 185.7,207.4 186.0,207.4 186.0,199.4 186.3,198.8 186.3,207.0 186.7,205.4 186.7,196.7 187.0,197.6 187.0,206.7 187.3,206.0 187.3,199.8 187.7,198.0 187.7,206.2 188.0,205.0 188.0,199.0 188.3,196.4 188.3,205.2 188.7,205.3 188.7,199.8 189.0,199.3 189.0,204.6 189.3,204.4 189.3,199.2 189.7,199.2 189.7,203.9 190.0,204.1 190.0,199.3 190.3,196.9 190.3,203.8 190.7,203.6 190.7,199.2 191.0,198.1 191.0,202.7 191.3,203.0 191.3,197.8 191.7,198.8 191.7,202.3 192.0,202.4 192.0,198.3 192.3,198.1 192.3,202.3 192.7,201.8 192.7,197.5 193.0,198.5 193.0,202.2 193.3,202.1 193.3,198.1 193.7,198.0 193.7,202.1 194.0,201.3 194.0,197.7 194.3,198.4 194.3,201.7 194.7,202.0 194.7,198.2 195.0,198.6 195.0,201.7 195.3,201.7 195.3,197.9 195.7,198.3 195.7,201.4 196.0,201.2 196.0,198.7 196.3,198.2 196.3,200.9 196.7,200.8 196.7,198.3 197.0,198.4 197.0,201.0 197.3,200.8 197.3,198.6 197.7,198.0 197.7,200.4 198.0,200.8 198.0,198.6 198.3,198.3 198.3,200.6 198.7,200.6 198.7,198.5 199.0,198.2 199.0,200.6 199.3,200.2 199.3,198.3 199.7,198.5 199.7,200.4 200.0,200.3 200.0,198.5 200.3,198.0 200.3,200.0 200.7,200.1 200.7,197.7 201.0,198.3 201.0,200.3 201.3,200.1 201.3,198.2 201.7,198.6 201.7,199.4 202.0,199.6 202.0,198.3 202.3,198.2 202.3,199.5 202.7,199.3 202.7,198.0 203.0,197.8 203.0,199.2 203.3,199.5 203.3,198.2 203.7,198.2 203.7,199.4 204.0,199.5 204.0,198.3 204.3,198.3 204.3,199.5 204.7,199.4 204.7,198.4 205.0,198.1 205.0,199.1 205.3,199.4 205.3,198.2 205.7,198.4 205.7,199.5 206.0,199.2 206.0,198.2 206.3,198.3 206.3,199.3 206.7,199.5 206.7,198.2 207.0,198.4 207.0,199.2 207.3,199.3 207.3,198.3 207.7,198.2 207.7,199.2 208.0,199.3 208.0,198.3 208.3,198.3 208.3,199.2 208.7,199.2 208.7,198.3 209.0,198.4 209.0,199.2 209.3,199.2 209.3,198.5 209.7,198.2 209.7,199.0 210.0,199.2 210.0,198.4 210.3,198.5 210.3,199.0 210.7,199.2 210.7,198.4 211.0,198.5 211.0,199.0 211.3,199.0 211.3,198.4 211.7,198.4 211.7,199.2 212.0,199.0 212.0,198.3 212.3,198.3 212.3,199.0 212.7,198.9 212.7,198.3 213.0,198.4 213.0,198.9 213.3,198.9 213.3,198.4 213.7,198.3 213.7,198.9 214.0,199.0 214.0,198.3 214.3,198.4 214.3,199.0 214.7,198.8 214.7,198.2 215.0,198.3 215.0,198.9 215.3,198.9 215.3,198.3 215.7,198.4 215.7,198.9 216.0,198.9 216.0,198.3 216.3,198.3 216.3,198.8 216.7,198.8 216.7,198.3 217.0,198.3 217.0,198.8 217.3,198.7 217.3,198.3 217.7,198.3 217.7,198.8 218.0,198.7 218.0,198.2 218.3,198.3 218.3,198.8 218.7,198.6 218.7,198.4 219.0,198.3 219.0,198.8 219.3,198.8 219.3,198.3 219.7,198.3 219.7,198.7 220.0,198.7 220.0,198.3 220.3,198.3 220.3,198.7 220.7,198.7 220.7,198.3 221.0,198.3 221.0,198.7 221.3,198.7 221.3,198.4 221.7,198.3 221.7,198.7 222.0,198.7 222.0,198.3 222.3,198.4 222.3,198.7 222.7,198.7 222.7,198.3 223.0,198.3 223.0,198.6 223.3,198.7 223.3,198.3 223.7,198.2 223.7,198.6 224.0,198.6 224.0,198.2 224.3,198.3 224.3,198.6 224.7,198.6 224.7,198.2 225.0,198.2 225.0,198.5 225.3,198.6 225.3,198.3 225.7,198.2 225.7,198.6 226.0,198.5 226.0,198.2 226.3,198.2 226.3,198.5 226.7,198.6 226.7,198.2 227.0,198.2 227.0,198.5 227.3,198.6 227.3,198.2 227.7,198.2 227.7,198.6 228.0,198.5 228.0,198.2 228.3,198.2 228.3,198.6 228.7,198.5 228.7,198.2 229.0,198.2 229.0,198.5 229.3,198.5 229.3,198.3 229.7,198.3 229.7,198.5 230.0,198.5 230.0,198.3 230.3,198.3 230.3,198.5 230.7,198.5 230.7,198.3 231.0,198.3 231.0,198.6 231.3,198.5 231.3,198.3 231.7,198.3 231.7,198.5 232.0,198.5 232.0,198.2 232.3,198.3 232.3,198.5 232.7,198.5 232.7,198.3 233.0,198.3 233.0,198.5 233.3,198.5 233.3,198.3 233.7,198.3 233.7,198.5 234.0,198.5 234.0,198.3 234.3,198.3 234.3,198.5 234.7,198.5 234.7,198.3 235.0,198.2 235.0,198.5 235.3,198.5 235.3,198.3 235.7,198.3 235.7,198.5 236.0,198.5 236.0,198.3 236.3,198.3 236.3,198.4 236.7,198.5 236.7,198.3 237.0,198.3 237.0,198.5 237.3,198.5 237.3,198.3 237.7,198.3 237.7,198.5 238.0,198.4 238.3,198.3 238.3,198.5 238.7,198.5 238.7,198.3 239.0,198.3 239.0,198.5 239.3,198.5 239.3,198.3 239.7,198.3 239.7,198.5 240.0,198.4 240.3,198.3 240.3,198.5 240.7,198.5 240.7,198.3 241.0,198.3 241.0,198.5 241.3,198.5 241.3,198.3 241.7,198.4 242.0,198.4 242.0,198.3 242.3,198.3 242.3,198.5 242.7,198.5 242.7,198.3 243.0,198.3 243.0,198.5 243.3,198.4 243.3,198.3 243.7,198.3 243.7,198.5 244.0,198.5 244.0,198.3 244.3,198.4 244.7,198.3 244.7,198.5 245.0,198.5 245.0,198.3 245.3,198.3 245.7,198.4 246.0,198.5 246.0,198.3 246.3,198.4 246.7,198.4 247.0,198.4 247.3,198.4 247.7,198.4 248.0,198.3 248.0,198.5 248.3,198.4 248.7,198.4 249.0,198.4 249.3,198.4 249.7,198.4 250.0,198.4 250.0,198.3 250.3,198.4 250.7,198.4 251.0,198.4 251.3,198.4 251.7,198.4 252.0,198.4 252.3,198.4 252.7,198.4 253.0,198.4 253.3,198.4 253.7,198.4 254.0,198.4 254.3,198.4 254.7,198.4 255.0,198.4 255.3,198.4 255.7,198.4 256.0,198.4 256.3,198.4 256.7,198.3 257.0,198.4 257.3,198.3 257.7,198.4 258.0,198.4 258.3,198.4 258.7,198.4 259.0,198.4 259.3,198.3 259.7,198.4 260.0,198.3 260.3,198.4 260.7,198.3 261.0,198.3 261.3,198.3 261.7,198.4 262.0,198.3 262.3,198.4 262.7,198.4 263.0,198.4 263.3,198.3 263.7,198.3 264.0,198.3 264.3,198.4 264.7,198.4 265.0,198.4 265.3,198.3 265.7,198.3 266.0,198.3 266.3,198.3 266.7,198.4 267.0,198.3 267.3,198.3 267.7,198.3 268.0,198.3 268.3,198.3 268.7,198.3 269.0,198.3 269.3,198.3 269.7,198.3 270.0,198.3 270.3,198.3 270.7,198.3 271.0,198.3 271.3,198.3 271.7,198.3 272.0,198.3 272.3,198.3 272.7,198.3 273.0,198.3 273.3,198.3 273.7,198.3 274.0,198.3 274.3,198.3 274.7,198.3 275.0,198.3 275.3,198.3 275.7,198.3 276.0,198.3 276.3,198.3 276.7,198.3 277.0,198.3 277.3,198.3 277.7,198.3 278.0,198.3 278.3,198.3 278.7,198.3 279.0,198.3 279.3,198.3 279.7,198.3 280.0,198.3 280.3,198.3 280.7,198.3 281.0,198.3 281.3,198.3 281.7,198.3 282.0,198.3 282.3,198.3 282.7,198.3 283.0,198.3 283.3,198.3 283.7,198.3 284.0,198.3 284.3,198.3 284.7,198.3 285.0,198.3 285.3,198.3 285.7,198.3 286.0,198.3 286.3,198.3 286.7,198.3 287.0,198.3 287.3,198.3 287.7,198.3 288.0,198.3 288.3,198.3 288.7,198.3 289.0,198.3 289.3,198.3 289.7,198.3 290.0,198.3 290.3,198.3 290.7,198.3 291.0,198.3 291.3,198.3 291.7,198.3 292.0,198.3 292.3,198.3 292.7,198.3 293.0,198.3 293.3,198.3 293.7,198.3 294.0,198.3 294.3,198.3 294.7,198.3 295.0,198.3 295.3,198.3 295.7,198.3 296.0,198.3 296.3,198.3 296.7,198.3 297.0,198.3 297.3,198.3 297.7,198.3 298.0,198.3 298.3,198.3 298.7,198.3 299.0,198.3 299.3,198.3 299.7,198.3 300.0,198.3 300.3,198.3 300.7,198.3 301.0,198.3 301.3,198.3" stroke="#ff0000" stroke-width="0.38"/>
<path d="M57.7,176.0 57.7,225.5 58.2,225.1 58.2,217.3 58.7,217.2 58.7,223.6 59.2,222.8 59.2,214.3 59.7,215.2 59.7,222.8 60.2,222.1 60.2,215.1 60.7,214.4 60.7,220.9 61.2,221.3 61.2,215.0 61.7,215.9 61.7,221.9 62.2,220.3 62.2,212.8 62.7,214.3 62.7,219.3 63.2,219.3 63.2,213.2 63.7,214.1 63.7,219.8 64.2,219.3 64.2,212.5 64.7,212.2 64.7,217.1 65.2,217.2 65.2,211.8 65.7,210.8 65.7,217.5 66.2,216.9 66.2,211.5 66.7,210.3 66.7,217.9 67.2,214.6 67.2,210.3 67.7,206.9 67.7,213.9 68.2,215.9 68.2,209.6 68.7,209.0 68.7,215.6 69.2,212.7 69.2,209.5 69.8,206.8 69.8,215.7 70.3,214.3 70.3,206.7 70.8,207.1 70.8,213.2 71.3,215.5 71.3,204.6 71.8,206.4 71.8,212.1 72.3,213.5 72.3,207.0 72.8,206.0 72.8,212.8 73.3,213.5 73.3,209.2 73.8,211.9 73.8,204.5 74.3,206.6 74.3,212.2 74.8,211.1 74.8,206.4 75.3,205.4 75.3,211.8 75.8,209.8 75.8,205.5 76.3,204.8 76.3,211.1 76.8,210.3 76.8,205.0 77.3,204.4 77.3,210.6 77.8,209.7 77.8,203.4 78.3,204.4 78.3,210.1 78.8,208.9 78.8,203.5 79.3,202.9 79.3,209.4 79.8,208.0 79.8,202.3 80.3,203.0 80.3,208.7 80.8,209.5 80.8,202.1 81.3,202.3 81.3,209.4 81.7,207.7 81.7,200.1 82.2,197.9 82.2,209.5 82.7,212.2 82.7,199.5 83.2,197.2 83.2,207.8 83.7,206.1 83.7,196.6 84.2,194.0 84.2,207.7 84.7,207.4 84.7,194.3 85.2,195.2 85.2,203.1 85.7,209.7 85.7,193.1 86.2,188.3 86.2,202.7 86.7,202.3 86.7,188.0 87.2,191.1 87.2,204.7 87.7,196.2 87.7,187.4 88.2,184.5 88.2,196.2 88.7,198.0 88.7,185.7 89.2,185.5 89.2,200.8 89.7,192.6 89.7,181.0 90.2,183.2 90.2,195.9 90.7,190.6 90.7,180.9 91.2,179.1 91.2,188.3 91.7,187.2 91.7,178.2 92.2,175.8 92.2,186.0 92.7,184.1 92.7,176.2 93.2,178.6 93.2,188.2 93.7,185.7 93.7,175.2 94.3,178.4 94.3,188.4 94.8,189.9 94.8,179.0 95.3,177.0 95.3,186.0 95.8,188.2 95.8,177.9 96.3,176.0 96.3,186.7 96.8,181.6 96.8,192.7 97.3,191.4 97.3,179.6 97.8,184.6 97.8,193.7 98.3,193.8 98.3,184.9 98.8,189.7 98.8,200.6 99.3,199.9 99.3,192.1 99.8,198.1 99.8,208.5 100.3,211.4 100.3,198.6 100.8,203.1 100.8,213.3 101.3,212.2 101.3,198.1 101.8,201.0 101.8,209.6 102.3,215.0 102.3,195.9 102.8,199.1 102.8,206.5 103.3,209.7 103.3,202.9 103.8,203.0 103.8,208.2 104.3,206.6 104.3,192.9 104.8,189.1 104.8,203.0 105.3,194.2 105.3,185.1 105.8,182.0 105.8,190.9 106.2,188.5 106.2,180.6 106.7,180.7 106.7,188.4 107.2,188.7 107.2,179.3 107.7,178.8 107.7,188.0 108.2,184.4 108.2,177.9 108.7,178.0 108.7,188.2 109.2,186.8 109.2,175.6 109.7,175.3 109.7,185.5 110.2,188.4 110.2,180.0 110.7,178.4 110.7,187.9 111.2,192.1 111.2,178.9 111.7,178.0 111.7,187.1 112.2,185.8 112.2,176.2 112.7,176.8 112.7,185.6 113.2,187.2 113.2,174.4 113.7,175.0 113.7,183.1 114.2,179.0 114.2,169.5 114.7,170.0 114.7,183.5 115.2,177.0 115.2,166.7 115.7,165.8 115.7,174.2 116.2,172.8 116.2,161.3 116.7,162.5 116.7,173.1 117.2,166.6 117.2,158.8 117.7,159.3 117.7,167.5 118.2,167.0 118.2,157.9 118.8,163.4 118.8,152.2 119.3,158.0 119.3,164.6 119.8,159.8 119.8,150.7 120.3,148.3 120.3,158.0 120.8,159.6 120.8,148.3 121.3,146.8 121.3,159.8 121.8,156.8 121.8,149.0 122.3,145.9 122.3,154.4 122.8,152.6 122.8,142.3 123.3,140.5 123.3,150.0 123.8,151.5 123.8,141.5 124.3,139.0 124.3,147.0 124.8,144.4 124.8,135.4 125.3,135.1 125.3,145.2 125.8,146.0 125.8,136.8 126.3,136.0 126.3,141.6 126.8,144.4 126.8,135.0 127.3,137.7 127.3,130.0 127.8,127.1 127.8,137.1 128.3,136.8 128.3,123.7 128.8,123.0 128.8,131.9 129.3,131.4 129.3,121.3 129.8,119.4 129.8,129.9 130.3,128.3 130.3,121.1 130.7,117.5 130.7,126.4 131.2,126.1 131.2,115.3 131.7,114.1 131.7,121.5 132.2,121.5 132.2,110.5 132.7,111.0 132.7,121.0 133.2,114.9 133.2,109.1 133.7,108.4 133.7,116.6 134.2,114.2 134.2,104.6 134.7,100.7 134.7,113.8 135.2,108.4 135.2,100.3 135.7,98.2 135.7,106.9 136.2,112.0 136.2,100.0 136.7,97.8 136.7,107.9 137.2,103.9 137.2,94.0 137.7,91.9 137.7,101.7 138.2,99.9 138.2,90.5 138.7,90.3 138.7,100.0 139.2,96.9 139.2,81.7 139.7,78.1 139.7,94.6 140.2,88.1 140.2,75.4 140.7,78.1 140.7,87.8 141.2,89.1 141.2,82.8 141.7,83.0 141.7,91.4 142.2,93.3 142.2,86.8 142.7,87.0 142.7,92.5 143.3,91.0 143.3,99.6 143.8,101.8 143.8,88.6 144.3,90.1 144.3,103.2 144.8,99.0 144.8,90.4 145.3,96.1 145.3,104.5 145.8,102.1 145.8,92.2 146.3,95.7 146.3,106.3 146.8,103.1 146.8,95.6 147.3,100.6 147.3,110.4 147.8,110.8 147.8,99.6 148.3,101.3 148.3,111.5 148.8,110.2 148.8,101.6 149.3,103.4 149.3,111.7 149.8,116.8 149.8,104.8 150.3,105.7 150.3,115.2 150.8,119.9 150.8,108.0 151.3,109.3 151.3,119.5 151.8,120.1 151.8,111.7 152.3,109.3 152.3,116.2 152.8,111.1 152.8,122.1 153.3,124.2 153.3,115.3 153.8,117.6 153.8,122.0 154.3,117.3 154.3,130.0 154.8,127.1 154.8,116.1 155.2,116.8 155.2,126.4 155.7,128.2 155.7,116.3 156.2,121.8 156.2,130.9 156.7,130.0 156.7,118.1 157.2,123.7 157.2,130.9 157.7,134.2 157.7,123.7 158.2,124.3 158.2,136.3 158.7,139.0 158.7,127.3 159.2,126.1 159.2,138.8 159.7,142.5 159.7,132.8 160.2,130.2 160.2,143.4 160.7,144.2 160.7,130.9 161.2,130.4 161.2,144.3 161.7,147.1 161.7,135.6 162.2,140.5 162.2,148.6 162.7,151.1 162.7,143.1 163.2,142.2 163.2,153.7 163.7,156.7 163.7,149.0 164.2,150.6 164.2,160.5 164.7,156.8 164.7,165.4 165.2,168.9 165.2,155.4 165.7,151.9 165.7,160.1 166.2,157.9 166.2,148.0 166.7,150.4 166.7,160.4 167.2,165.1 167.2,153.6 167.8,157.6 167.8,167.4 168.3,162.4 168.3,173.2 168.8,166.0 168.8,159.9 169.3,158.1 169.3,165.6 169.8,166.4 169.8,154.8 170.3,152.5 170.3,161.9 170.8,159.2 170.8,151.6 171.3,151.1 171.3,161.9 171.8,166.9 171.8,152.8 172.3,153.5 172.3,160.5 172.8,164.2 172.8,156.4 173.3,156.9 173.3,168.3 173.8,164.9 173.8,151.8 174.3,151.3 174.3,165.5 174.8,167.7 174.8,156.1 175.3,158.6 175.3,167.7 175.8,164.5 175.8,153.4 176.3,156.1 176.3,168.3 176.8,163.0 176.8,157.1 177.3,156.4 177.3,165.7 177.8,168.8 177.8,156.9 178.3,159.8 178.3,167.9 178.8,171.0 178.8,154.2 179.3,160.4 179.3,168.6 179.7,171.6 179.7,158.0 180.2,162.0 180.2,171.4 180.7,171.7 180.7,162.5 181.2,164.5 181.2,174.1 181.7,172.0 181.7,164.0 182.2,162.2 182.2,176.1 182.7,176.8 182.7,167.0 183.2,164.2 183.2,173.4 183.7,176.3 183.7,169.3 184.2,165.5 184.2,179.4 184.7,178.4 184.7,167.0 185.2,169.1 185.2,178.9 185.7,181.4 185.7,172.3 186.2,172.4 186.2,184.5 186.7,179.2 186.7,171.2 187.2,172.0 187.2,188.4 187.7,181.0 187.7,172.9 188.2,170.6 188.2,188.0 188.7,182.9 188.7,176.3 189.2,179.3 189.2,188.5 189.7,186.5 189.7,177.2 190.2,173.7 190.2,184.2 190.7,186.0 190.7,178.9 191.2,177.9 191.2,187.5 191.8,189.7 191.8,180.8 192.3,177.4 192.3,186.5 192.8,186.0 192.8,177.8 193.3,180.9 193.3,194.4 193.8,190.0 193.8,179.3 194.3,179.7 194.3,189.7 194.8,187.8 194.8,178.3 195.3,180.5 195.3,186.7 195.8,182.9 195.8,194.2 196.3,193.2 196.3,182.1 196.8,183.4 196.8,194.3 197.3,194.2 197.3,183.6 197.8,181.8 197.8,193.6 198.3,193.6 198.3,183.3 198.8,184.8 198.8,193.2 199.3,193.2 199.3,182.5 199.8,186.1 199.8,192.5 200.3,195.6 200.3,184.6 200.8,182.0 200.8,192.7 201.3,193.0 201.3,183.9 201.8,189.7 201.8,196.8 202.3,196.5 202.3,187.6 202.8,183.9 202.8,197.3 203.3,193.5 203.3,186.3 203.8,189.2 203.8,196.1 204.2,196.8 204.2,189.8 204.7,188.1 204.7,196.2 205.2,195.5 205.2,189.7 205.7,187.9 205.7,195.9 206.2,195.3 206.2,189.4 206.7,187.5 206.7,195.7 207.2,198.1 207.2,190.5 207.7,187.8 207.7,197.9 208.2,198.3 208.2,190.9 208.7,189.6 208.7,197.7 209.2,198.4 209.2,193.2 209.7,196.3 209.7,189.9 210.2,191.9 210.2,198.6 210.7,199.2 210.7,192.8 211.2,193.8 211.2,199.1 211.7,197.7 211.7,191.8 212.2,192.1 212.2,198.7 212.7,198.3 212.7,192.5 213.2,193.2 213.2,199.0 213.7,197.7 213.7,192.2 214.2,193.4 214.2,197.9 214.7,197.6 214.7,191.4 215.2,193.4 215.2,198.7 215.7,198.8 215.7,193.1 216.3,193.6 216.3,199.3 216.8,198.8 216.8,193.3 217.3,193.2 217.3,197.6 217.8,197.8 217.8,193.7 218.3,193.3 218.3,197.8 218.8,197.9 218.8,194.0 219.3,194.4 219.3,199.1 219.8,199.2 219.8,194.7 220.3,194.0 220.3,199.0 220.8,198.2 220.8,194.3 221.3,196.1 221.3,199.2 221.8,198.3 221.8,194.9 222.3,196.1 222.3,199.2 222.8,198.6 222.8,194.8 223.3,195.2 223.3,198.5 223.8,198.0 223.8,194.3 224.3,195.3 224.3,198.4 224.8,198.6 224.8,195.6 225.3,195.5 225.3,199.0 225.8,198.2 225.8,195.4 226.3,194.4 226.3,198.4 226.8,198.2 226.8,194.9 227.3,195.4 227.3,198.1 227.8,198.7 227.8,195.4 228.3,195.0 228.3,198.5 228.7,198.0 228.7,195.6 229.2,196.2 229.2,198.6 229.7,198.7 229.7,195.7 230.2,196.4 230.2,198.3 230.7,198.4 230.7,196.3 231.2,196.1 231.2,198.4 231.7,198.3 231.7,196.1 232.2,195.5 232.2,198.5 232.7,198.3 232.7,195.8 233.2,195.9 233.2,198.0 233.7,198.4 233.7,196.1 234.2,196.1 234.2,198.4 234.7,197.9 234.7,196.0 235.2,195.8 235.2,198.0 235.7,198.4 235.7,196.1 236.2,196.3 236.2,197.9 236.7,198.4 236.7,196.6 237.2,196.4 237.2,198.1 237.7,198.0 237.7,196.5 238.2,196.7 238.2,197.6 238.7,198.0 238.7,196.3 239.2,196.5 239.2,198.3 239.7,198.2 239.7,196.7 240.2,196.6 240.2,198.2 240.8,198.4 240.8,196.4 241.3,196.9 241.3,198.4 241.8,197.9 241.8,196.5 242.3,196.7 242.3,198.3 242.8,197.9 242.8,196.6 243.3,196.3 243.3,198.2 243.8,198.0 243.8,196.5 244.3,196.8 244.3,198.1 244.8,198.1 244.8,197.0 245.3,196.6 245.3,198.1 245.8,198.0 245.8,196.7 246.3,196.6 246.3,197.7 246.8,198.0 246.8,196.9 247.3,196.9 247.3,198.0 247.8,197.8 247.8,196.8 248.3,196.8 248.3,198.1 248.8,198.1 248.8,196.9 249.3,197.0 249.3,198.1 249.8,198.1 249.8,196.6 250.3,197.1 250.3,197.9 M251.8,197.9 251.8,197.2 252.3,197.0 252.3,198.1 252.8,197.9 252.8,197.0 253.2,197.0 253.2,197.9 M254.2,197.9 254.2,197.0 254.7,197.2 254.7,197.9 M256.2,197.8 256.2,196.8 256.7,196.9 256.7,197.9 M259.2,197.9 259.2,196.9" stroke="#00ff00" stroke-width="0.80"/>
<path d="M57.7,176.0 57.7,231.9 58.0,230.4 58.0,215.8 58.3,217.3 58.3,227.7 58.7,228.1 58.7,217.2 59.0,214.3 59.0,223.6 59.3,227.8 59.3,216.2 59.7,215.2 59.7,227.4 60.0,225.9 60.0,215.8 60.3,215.1 60.3,225.9 60.7,222.7 60.7,215.6 61.0,214.4 61.0,225.3 61.3,226.9 61.3,215.0 61.7,216.2 61.7,227.1 62.0,223.2 62.0,213.7 62.3,212.8 62.3,222.4 62.7,221.7 62.7,214.3 63.0,213.2 63.0,222.2 63.3,224.0 63.3,214.5 63.7,214.1 63.7,222.9 64.0,225.4 64.0,214.1 64.3,212.5 64.3,222.8 64.7,222.0 64.7,212.5 65.0,212.2 65.0,223.1 65.3,226.6 65.3,211.8 65.7,212.2 65.7,221.7 66.0,222.8 66.0,210.8 66.3,211.9 66.3,224.9 66.7,220.2 66.7,211.3 67.0,210.3 67.0,219.5 67.3,218.6 67.3,210.3 67.7,206.9 67.7,221.3 68.0,224.7 68.0,209.6 68.3,210.1 68.3,221.4 68.7,222.2 68.7,209.0 69.0,209.3 69.0,221.6 69.3,215.1 69.3,209.5 69.7,207.8 69.7,219.2 70.0,221.2 70.0,206.8 70.3,206.7 70.3,221.3 70.7,217.9 70.7,207.1 71.0,208.6 71.0,223.1 71.3,220.4 71.3,204.6 71.7,206.4 71.7,218.6 72.0,221.4 72.0,207.7 72.3,207.0 72.3,216.8 72.7,215.1 72.7,206.0 73.0,208.3 73.0,220.2 73.3,216.0 73.3,209.2 73.7,207.6 73.7,215.1 74.0,216.1 74.0,204.5 74.3,206.6 74.3,215.3 74.7,214.2 74.7,206.4 75.0,206.6 75.0,212.3 75.3,217.0 75.3,205.4 75.7,205.5 75.7,214.5 76.0,214.5 76.0,206.9 76.3,204.8 76.3,213.0 76.7,213.9 76.7,205.0 77.0,205.4 77.0,213.0 77.3,212.5 77.3,204.4 77.7,205.0 77.7,214.8 78.0,211.8 78.0,203.4 78.3,204.4 78.3,211.7 78.7,210.7 78.7,203.6 79.0,202.9 79.0,211.3 79.3,212.1 79.3,203.8 79.7,202.3 79.7,213.1 80.0,212.2 80.0,202.5 80.3,203.8 80.3,209.9 80.7,212.6 80.7,203.3 81.0,202.1 81.0,213.3 81.3,215.9 81.3,202.5 81.7,200.1 81.7,214.2 82.0,212.0 82.0,200.7 82.3,197.9 82.3,214.3 82.7,216.3 82.7,199.5 83.0,197.2 83.0,214.7 83.3,214.8 83.3,198.4 83.7,196.6 83.7,216.8 84.0,216.7 84.0,194.0 84.3,195.7 84.3,217.3 84.7,217.4 84.7,195.4 85.0,194.3 85.0,217.5 85.3,215.2 85.3,195.2 85.7,193.1 85.7,215.3 86.0,216.7 86.0,194.5 86.3,188.3 86.3,214.8 86.7,212.9 86.7,192.1 87.0,188.0 87.0,214.5 87.3,215.2 87.3,191.1 87.7,187.4 87.7,212.5 88.0,214.0 88.0,187.7 88.3,184.5 88.3,214.2 88.7,216.1 88.7,186.2 89.0,185.5 89.0,217.7 89.3,212.7 89.3,185.5 89.7,181.0 89.7,201.2 90.0,200.0 90.0,183.8 90.3,183.2 90.3,215.2 90.7,215.3 90.7,180.9 91.0,182.1 91.0,212.0 91.3,191.2 91.3,179.1 91.7,178.2 91.7,207.6 92.0,194.9 92.0,175.8 92.3,177.0 92.3,191.2 92.7,189.2 92.7,176.2 93.0,178.6 93.0,188.2 93.3,179.1 93.3,207.9 93.7,205.2 93.7,175.2 94.0,178.8 94.0,195.3 94.3,193.8 94.3,178.4 94.7,179.0 94.7,201.4 95.0,198.7 95.0,178.1 95.3,177.0 95.3,191.3 95.7,197.8 95.7,177.9 96.0,176.0 96.0,206.3 96.3,192.9 96.3,178.6 96.7,185.0 96.7,200.8 97.0,193.1 97.0,179.6 97.3,181.2 97.3,201.6 97.7,201.4 97.7,184.6 98.0,184.6 98.0,207.1 98.3,222.0 98.3,184.9 98.7,189.7 98.7,206.6 99.0,210.4 99.0,192.1 99.3,192.1 99.3,214.7 99.7,212.9 99.7,200.3 100.0,198.1 100.0,213.8 100.3,203.7 100.3,226.3 100.7,217.5 100.7,203.1 101.0,201.9 101.0,219.9 101.3,214.9 101.3,198.1 101.7,201.0 101.7,222.4 102.0,218.6 102.0,202.7 102.3,195.9 102.3,227.1 102.7,215.1 102.7,199.1 103.0,199.8 103.0,215.4 103.3,202.9 103.3,228.2 103.7,218.9 103.7,203.1 104.0,200.9 104.0,212.7 104.3,208.6 104.3,192.9 104.7,191.2 104.7,207.5 105.0,213.2 105.0,189.1 105.3,185.1 105.3,200.4 105.7,196.4 105.7,182.5 106.0,182.0 106.0,203.7 106.3,203.4 106.3,180.6 106.7,181.8 106.7,193.4 107.0,194.1 107.0,179.3 107.3,181.9 107.3,195.3 107.7,194.2 107.7,178.8 108.0,177.9 108.0,191.1 108.3,194.8 108.3,179.9 108.7,178.0 108.7,195.2 109.0,198.8 109.0,176.0 109.3,175.6 109.3,195.0 109.7,194.1 109.7,176.4 110.0,175.3 110.0,194.8 110.3,199.2 110.3,180.0 110.7,179.9 110.7,202.3 111.0,213.8 111.0,178.4 111.3,178.9 111.3,194.2 111.7,196.5 111.7,178.0 112.0,178.2 112.0,193.5 112.3,190.7 112.3,176.2 112.7,177.8 112.7,194.2 113.0,200.0 113.0,176.8 113.3,174.4 113.3,197.8 113.7,190.7 113.7,175.0 114.0,175.2 114.0,188.0 114.3,195.9 114.3,169.5 114.7,170.2 114.7,193.1 115.0,185.6 115.0,170.0 115.3,166.7 115.3,186.0 115.7,182.6 115.7,166.3 116.0,165.8 116.0,208.4 116.3,174.6 116.3,161.3 116.7,162.5 116.7,177.2 117.0,179.2 117.0,161.2 117.3,158.8 117.3,176.3 117.7,171.9 117.7,159.3 118.0,159.7 118.0,201.9 118.3,172.3 118.3,157.9 118.7,152.2 118.7,176.0 119.0,178.1 119.0,153.7 119.3,158.2 119.3,167.5 119.7,166.0 119.7,150.7 120.0,149.9 120.0,162.1 120.3,166.8 120.3,148.3 120.7,152.6 120.7,166.9 121.0,167.4 121.0,148.3 121.3,146.8 121.3,165.4 121.7,164.9 121.7,149.1 122.0,148.2 122.0,159.1 122.3,170.2 122.3,145.9 122.7,142.3 122.7,166.8 123.0,154.1 123.0,142.4 123.3,140.5 123.3,158.4 123.7,160.0 123.7,141.5 124.0,139.0 124.0,161.8 124.3,165.6 124.3,139.6 124.7,135.4 124.7,150.3 125.0,138.7 125.0,162.8 125.3,160.5 125.3,135.1 125.7,138.6 125.7,158.2 126.0,147.0 126.0,136.8 126.3,136.0 126.3,149.8 126.7,155.2 126.7,135.0 127.0,132.6 127.0,150.4 127.3,146.5 127.3,130.0 127.7,131.2 127.7,148.1 128.0,138.6 128.0,123.7 128.3,128.8 128.3,146.3 128.7,134.1 128.7,125.1 129.0,123.0 129.0,136.2 129.3,136.7 129.3,121.3 129.7,119.7 129.7,145.8 130.0,130.7 130.0,119.4 130.3,121.1 130.3,136.0 130.7,134.2 130.7,120.6 131.0,117.5 131.0,134.4 131.3,133.8 131.3,115.3 131.7,114.1 131.7,131.2 132.0,138.4 132.0,116.9 132.3,110.5 132.3,132.8 132.7,129.7 132.7,111.0 133.0,111.5 133.0,121.8 133.3,121.8 133.3,109.1 133.7,108.4 133.7,139.3 134.0,124.6 134.0,104.6 134.3,106.1 134.3,126.6 134.7,117.6 134.7,100.7 135.0,103.4 135.0,117.3 135.3,118.7 135.3,100.3 135.7,99.4 135.7,115.7 136.0,119.8 136.0,98.2 136.3,100.0 136.3,114.0 136.7,117.0 136.7,97.8 137.0,98.9 137.0,111.3 137.3,107.2 137.3,94.0 137.7,91.9 137.7,121.2 138.0,120.6 138.0,92.2 138.3,90.5 138.3,114.0 138.7,112.9 138.7,90.4 139.0,84.4 139.0,109.6 139.3,107.5 139.3,81.7 139.7,83.3 139.7,143.5 140.0,94.2 140.0,78.1 140.3,75.4 140.3,97.8 140.7,98.7 140.7,78.1 141.0,81.3 141.0,128.5 141.3,96.0 141.3,82.8 141.7,83.0 141.7,95.7 142.0,86.9 142.0,109.0 142.3,99.8 142.3,86.8 142.7,87.0 142.7,107.7 143.0,107.6 143.0,88.1 143.3,91.0 143.3,106.1 143.7,112.0 143.7,88.6 144.0,90.1 144.0,116.4 144.3,106.2 144.3,91.3 144.7,90.4 144.7,131.2 145.0,108.5 145.0,93.8 145.3,96.1 145.3,111.0 145.7,111.9 145.7,92.2 146.0,95.4 146.0,108.8 146.3,117.0 146.3,95.8 146.7,95.6 146.7,105.3 147.0,100.0 147.0,119.6 147.3,132.4 147.3,105.4 147.7,99.6 147.7,127.9 148.0,117.1 148.0,102.6 148.3,101.3 148.3,128.0 148.7,118.2 148.7,101.6 149.0,103.8 149.0,127.9 149.3,115.8 149.3,103.4 149.7,104.8 149.7,125.5 150.0,121.0 150.0,107.3 150.3,105.7 150.3,121.4 150.7,130.0 150.7,108.0 151.0,109.3 151.0,127.2 151.3,127.4 151.3,109.5 151.7,111.7 151.7,122.3 152.0,113.8 152.0,138.0 152.3,131.7 152.3,109.3 152.7,111.1 152.7,131.2 153.0,130.7 153.0,114.6 153.3,115.3 153.3,134.3 153.7,132.9 153.7,118.1 154.0,117.3 154.0,130.1 154.3,119.6 154.3,146.3 154.7,128.9 154.7,116.1 155.0,116.4 155.0,154.2 155.3,138.7 155.3,116.8 155.7,116.3 155.7,133.9 156.0,144.1 156.0,122.8 156.3,121.8 156.3,140.1 156.7,136.0 156.7,118.1 157.0,123.1 157.0,144.1 157.3,135.0 157.3,123.7 157.7,123.7 157.7,146.9 158.0,142.7 158.0,125.4 158.3,124.3 158.3,147.5 158.7,154.8 158.7,127.3 159.0,126.1 159.0,141.1 159.3,147.3 159.3,131.8 159.7,135.5 159.7,151.0 160.0,150.7 160.0,130.2 160.3,130.7 160.3,165.6 160.7,152.9 160.7,130.9 161.0,130.4 161.0,153.9 161.3,148.7 161.3,136.0 161.7,135.6 161.7,163.2 162.0,156.1 162.0,141.7 162.3,140.5 162.3,157.2 162.7,154.1 162.7,143.1 163.0,142.2 163.0,162.9 163.3,166.7 163.3,146.2 163.7,149.0 163.7,160.5 164.0,165.8 164.0,150.6 164.3,151.9 164.3,171.7 164.7,184.8 164.7,156.8 165.0,158.4 165.0,176.9 165.3,175.0 165.3,155.4 165.7,151.9 165.7,172.1 166.0,175.9 166.0,150.5 166.3,148.0 166.3,160.5 166.7,150.4 166.7,172.1 167.0,167.5 167.0,151.0 167.3,153.6 167.3,175.2 167.7,173.5 167.7,157.6 168.0,160.1 168.0,191.2 168.3,182.0 168.3,162.4 168.7,159.9 168.7,173.1 169.0,172.4 169.0,158.1 169.3,159.5 169.3,174.3 169.7,189.2 169.7,154.8 170.0,156.7 170.0,174.3 170.3,178.9 170.3,152.5 170.7,151.6 170.7,168.0 171.0,174.8 171.0,151.1 171.3,151.4 171.3,170.1 171.7,175.4 171.7,152.8 172.0,154.8 172.0,172.4 172.3,164.9 172.3,153.5 172.7,157.1 172.7,167.2 173.0,156.4 173.0,189.2 173.3,179.9 173.3,156.9 173.7,151.8 173.7,174.5 174.0,169.7 174.0,154.3 174.3,151.3 174.3,180.8 174.7,185.9 174.7,158.3 175.0,156.1 175.0,172.3 175.3,182.9 175.3,158.6 175.7,153.4 175.7,173.3 176.0,184.0 176.0,161.4 176.3,156.1 176.3,171.4 176.7,175.3 176.7,157.1 177.0,159.1 177.0,176.9 177.3,175.3 177.3,156.4 177.7,156.9 177.7,180.7 178.0,180.1 178.0,160.1 178.3,159.8 178.3,176.3 178.7,174.3 178.7,154.2 179.0,164.2 179.0,178.6 179.3,177.5 179.3,160.4 179.7,158.0 179.7,192.3 180.0,174.7 180.0,162.0 180.3,164.9 180.3,188.2 180.7,180.7 180.7,162.5 181.0,164.5 181.0,185.4 181.3,177.5 181.3,166.2 181.7,164.0 181.7,188.5 182.0,190.6 182.0,162.2 182.3,164.9 182.3,192.7 182.7,185.8 182.7,167.0 183.0,164.2 183.0,182.4 183.3,181.1 183.3,166.5 183.7,169.3 183.7,185.1 184.0,190.3 184.0,165.5 184.3,166.8 184.3,191.7 184.7,185.5 184.7,167.0 185.0,170.3 185.0,190.4 185.3,185.4 185.3,169.1 185.7,173.3 185.7,186.9 186.0,194.8 186.0,172.3 186.3,172.4 186.3,191.4 186.7,181.5 186.7,171.2 187.0,171.5 187.0,188.7 187.3,176.0 187.3,210.3 187.7,186.7 187.7,172.9 188.0,175.8 188.0,200.6 188.3,205.5 188.3,170.6 188.7,176.3 188.7,196.7 189.0,202.6 189.0,176.7 189.3,179.3 189.3,195.4 189.7,193.6 189.7,177.2 190.0,174.8 190.0,198.5 190.3,198.8 190.3,173.7 190.7,178.9 190.7,197.2 191.0,196.2 191.0,178.6 191.3,177.9 191.3,196.0 191.7,194.6 191.7,180.8 192.0,177.4 192.0,196.1 192.3,196.9 192.3,180.5 192.7,177.8 192.7,196.0 193.0,198.4 193.0,178.2 193.3,180.9 193.3,201.5 193.7,197.6 193.7,180.0 194.0,179.3 194.0,198.1 194.3,198.2 194.3,180.4 194.7,178.3 194.7,191.7 195.0,182.5 195.0,201.2 195.3,192.7 195.3,180.5 195.7,182.9 195.7,197.3 196.0,200.9 196.0,185.8 196.3,182.1 196.3,201.3 196.7,197.5 196.7,183.4 197.0,183.8 197.0,200.9 197.3,200.3 197.3,183.6 197.7,181.8 197.7,200.9 198.0,200.6 198.0,186.3 198.3,183.3 198.3,201.0 198.7,201.6 198.7,185.2 199.0,182.5 199.0,196.0 199.3,195.7 199.3,185.8 199.7,186.8 199.7,198.1 200.0,200.8 200.0,186.1 200.3,184.6 200.3,200.5 200.7,197.2 200.7,182.0 201.0,185.6 201.0,200.8 201.3,200.2 201.3,183.9 201.7,192.3 201.7,201.2 202.0,200.8 202.0,189.7 202.3,187.6 202.3,199.1 202.7,198.9 202.7,186.3 203.0,183.9 203.0,201.6 203.3,200.8 203.3,186.3 203.7,189.2 203.7,201.7 204.0,195.9 204.0,190.4 204.3,189.8 204.3,201.2 204.7,198.4 204.7,191.1 205.0,188.1 205.0,197.8 205.3,200.4 205.3,189.7 205.7,190.0 205.7,200.9 206.0,201.2 206.0,187.9 206.3,190.0 206.3,201.2 206.7,201.3 206.7,187.5 207.0,190.5 207.0,201.0 207.3,199.0 207.3,190.7 207.7,187.8 207.7,201.1 208.0,201.2 208.0,191.1 208.3,190.9 208.3,199.1 208.7,199.7 208.7,191.0 209.0,189.6 209.0,200.9 209.3,199.3 209.3,193.2 209.7,189.9 209.7,199.8 210.0,198.0 210.0,191.9 210.3,193.7 210.3,200.2 210.7,200.3 210.7,192.8 211.0,194.4 211.0,199.8 211.3,200.8 211.3,193.8 211.7,194.1 211.7,200.8 212.0,200.2 212.0,191.8 212.3,192.1 212.3,200.1 212.7,200.5 212.7,192.5 213.0,194.1 213.0,200.6 213.3,200.5 213.3,193.2 213.7,192.3 213.7,200.3 214.0,200.3 214.0,192.2 214.3,193.4 214.3,199.7 214.7,199.8 214.7,191.4 215.0,193.1 215.0,199.7 215.3,200.2 215.3,193.4 215.7,194.4 215.7,200.1 216.0,200.0 216.0,193.1 216.3,193.6 216.3,200.1 216.7,199.5 216.7,193.3 217.0,193.2 217.0,200.0 217.3,199.6 217.3,194.0 217.7,193.7 217.7,199.6 218.0,199.4 218.0,193.3 218.3,194.1 218.3,199.5 218.7,198.9 218.7,195.6 219.0,194.0 219.0,199.8 219.3,200.0 219.3,194.5 219.7,194.7 219.7,199.8 220.0,200.0 220.0,194.8 220.3,194.0 220.3,199.6 220.7,199.6 220.7,194.3 221.0,194.4 221.0,199.8 221.3,199.8 221.3,196.3 221.7,194.9 221.7,199.6 222.0,199.6 222.0,195.2 222.3,196.5 222.3,199.5 222.7,199.5 222.7,194.8 223.0,195.2 223.0,199.6 223.3,199.8 223.3,195.2 223.7,194.3 223.7,199.7 224.0,199.3 224.0,194.5 224.3,195.3 224.3,199.5 224.7,199.2 224.7,195.6 225.0,195.5 225.0,199.4 225.3,199.6 225.3,196.7 225.7,195.8 225.7,199.6 226.0,199.2 226.0,194.4 226.3,194.8 226.3,199.0 226.7,199.6 226.7,194.9 227.0,195.5 227.0,199.4 227.3,199.5 227.3,195.4 227.7,195.4 227.7,199.3 228.0,199.4 228.0,195.2 228.3,195.0 228.3,199.5 228.7,198.9 228.7,195.7 229.0,195.6 229.0,198.8 229.3,199.2 229.3,196.2 229.7,195.7 229.7,199.2 230.0,199.1 230.0,196.4 230.3,196.5 230.3,199.1 230.7,199.1 230.7,196.3 231.0,196.6 231.0,199.4 231.3,199.1 231.3,196.1 231.7,196.1 231.7,199.1 232.0,199.2 232.0,195.5 232.3,196.6 232.3,198.8 232.7,199.1 232.7,195.8 233.0,195.9 233.0,198.9 233.3,199.1 233.3,196.0 233.7,196.1 233.7,198.8 234.0,198.8 234.0,196.3 234.3,196.1 234.3,199.1 234.7,198.8 234.7,196.0 235.0,195.8 235.0,198.5 235.3,199.1 235.3,196.8 235.7,196.1 235.7,198.9 236.0,199.0 236.0,196.5 236.3,196.3 236.3,198.3 236.7,198.8 236.7,196.6 237.0,196.8 237.0,198.8 237.3,198.6 237.3,196.4 237.7,196.5 237.7,199.0 238.0,198.4 238.0,196.9 238.3,196.7 238.3,198.8 238.7,198.6 238.7,196.3 239.0,196.5 239.0,198.7 239.3,198.7 239.3,196.8 239.7,196.7 239.7,198.6 240.0,198.4 240.0,196.9 240.3,196.6 240.3,198.8 240.7,198.8 240.7,196.5 241.0,196.4 241.0,198.6 241.3,198.8 241.3,197.0 241.7,196.7 241.7,198.2 242.0,198.4 242.0,196.5 242.3,196.8 242.3,198.8 242.7,198.6 242.7,196.6 243.0,196.6 243.0,198.6 243.3,198.4 243.3,196.3 243.7,196.5 243.7,198.8 244.0,198.6 244.0,196.8 244.3,196.8 244.3,198.5 244.7,198.9 244.7,197.0 245.0,196.7 245.0,199.0 245.3,198.2 245.3,196.6 245.7,196.7 245.7,198.4 246.0,198.6 246.0,196.6 246.3,196.8 246.3,198.5 246.7,198.3 246.7,197.0 247.0,196.9 247.0,198.5 247.3,198.3 247.3,196.9 247.7,196.8 247.7,198.5 248.0,198.6 248.0,196.8 248.3,197.0 248.3,198.4 248.7,198.5 248.7,197.1 249.0,196.9 249.0,198.4 249.3,198.5 249.3,197.1 249.7,197.2 249.7,198.5 250.0,198.5 250.0,196.6 250.3,197.1 250.3,198.4 250.7,198.3 250.7,197.2 251.0,197.2 251.0,198.4 251.3,198.2 251.3,197.3 251.7,197.3 251.7,198.2 252.0,198.4 252.0,197.0 252.3,197.0 252.3,198.5 252.7,198.5 252.7,197.0 253.0,197.1 253.0,198.5 253.3,198.5 253.3,197.0 253.7,197.2 253.7,198.2 254.0,198.3 254.0,197.0 254.3,197.0 254.3,198.4 254.7,198.4 254.7,197.2 255.0,197.3 255.0,198.2 255.3,198.3 255.3,197.2 255.7,197.4 255.7,198.2 256.0,198.4 256.0,196.8 256.3,197.1 256.3,198.1 256.7,198.2 256.7,196.9 257.0,197.1 257.0,198.3 257.3,198.0 257.3,197.1 257.7,197.2 257.7,198.2 258.0,198.3 258.0,197.1 258.3,197.2 258.3,198.1 258.7,198.1 258.7,197.3 259.0,197.1 259.0,198.3 259.3,198.1 259.3,196.9 259.7,197.2 259.7,198.2 260.0,198.1 260.0,197.2 260.3,197.2 260.3,198.4 260.7,197.9 260.7,197.3 261.0,197.3 261.0,198.0 261.3,198.2 261.3,197.1 261.7,197.2 261.7,198.1 262.0,198.0 262.0,197.0 262.3,197.3 262.3,198.1 262.7,198.1 262.7,197.3 263.0,197.2 263.0,198.3 263.3,198.1 263.3,197.2 263.7,197.4 263.7,198.0 264.0,198.1 264.0,197.2 264.3,197.4 264.3,198.2 264.7,198.2 264.7,197.4 265.0,197.3 265.0,198.1 265.3,198.0 265.3,197.1 265.7,197.2 265.7,198.1 266.0,198.0 266.0,197.3 266.3,197.3 266.3,198.1 266.7,198.1 266.7,197.4 267.0,197.2 267.0,198.1 267.3,198.0 267.3,197.3 267.7,197.4 267.7,198.0 268.0,198.0 268.0,197.3 268.3,197.1 268.3,198.1 268.7,197.9 268.7,197.3 269.0,197.3 269.0,198.1 269.3,198.1 269.3,197.2 269.7,197.2 269.7,198.0 270.0,198.0 270.0,197.3 270.3,197.3 270.3,198.2 270.7,197.9 270.7,197.3 271.0,197.4 271.0,198.1 271.3,198.1 271.3,197.2 271.7,197.3 271.7,198.1 272.0,198.0 272.0,197.1 272.3,197.3 272.3,198.0 272.7,198.1 272.7,197.2 273.0,197.3 273.0,198.0 273.3,198.1 273.3,197.3 273.7,197.2 273.7,198.0 274.0,197.9 274.0,197.4 274.3,197.3 274.3,198.0 274.7,198.0 274.7,197.5 275.0,197.2 275.0,198.1 275.3,198.0 275.3,197.5 275.7,197.4 275.7,198.0 276.0,197.9 276.0,197.4 276.3,197.3 276.3,198.0 276.7,198.0 276.7,197.4 277.0,197.3 277.0,197.9 277.3,198.0 277.3,197.5 277.7,197.5 277.7,197.9 278.0,198.0 278.0,197.3 278.3,197.3 278.3,197.9 278.7,197.9 278.7,197.5 279.0,197.4 279.0,197.9 279.3,197.9 279.3,197.4 279.7,197.6 279.7,197.9 280.0,197.9 280.0,197.4 280.3,197.4 280.3,197.8 280.7,197.9 280.7,197.4 281.0,197.4 281.0,197.8 281.3,197.9 281.3,197.5 281.7,197.5 281.7,197.9 282.0,197.8 282.0,197.5 282.3,197.5 282.3,197.8 282.7,197.8 282.7,197.5 283.0,197.6 283.0,197.8 283.3,197.8 283.3,197.5 283.7,197.5 283.7,197.8 284.0,197.8 284.0,197.5 284.3,197.5 284.3,197.8 284.7,197.8 284.7,197.5 285.0,197.5 285.0,197.8 285.3,197.8 285.3,197.5 285.7,197.5 285.7,197.7 286.0,197.8 286.0,197.5 286.3,197.5 286.3,197.8 286.7,197.8 286.7,197.5 287.0,197.5 287.0,197.8 287.3,197.7 287.3,197.5 287.7,197.5 287.7,197.8 288.0,197.7 288.0,197.5 288.3,197.5 288.3,197.7 288.7,197.7 288.7,197.4 289.0,197.5 289.0,197.7 289.3,197.8 289.3,197.5 289.7,197.5 289.7,197.7 290.0,197.7 290.0,197.5 290.3,197.6 290.3,197.8 290.7,197.8 290.7,197.5 291.0,197.5 291.0,197.7 291.3,197.7 291.3,197.5 291.7,197.5 291.7,197.8 292.0,197.7 292.0,197.5 292.3,197.5 292.3,197.7 292.7,197.7 292.7,197.5 293.0,197.5 293.0,197.7 293.3,197.8 293.3,197.5 293.7,197.5 293.7,197.7 294.0,197.7 294.0,197.5 294.3,197.6 294.7,197.7 294.7,197.5 295.0,197.5 295.0,197.7 295.3,197.7 295.3,197.5 295.7,197.5 295.7,197.7 296.0,197.8 296.0,197.6 296.3,197.5 296.3,197.7 296.7,197.7 296.7,197.5 297.0,197.5 297.0,197.7 297.3,197.7 297.3,197.5 297.7,197.5 297.7,197.7 298.0,197.7 298.0,197.5 298.3,197.5 298.3,197.7 298.7,197.7 298.7,197.5 299.0,197.5 299.0,197.7 299.3,197.7 299.3,197.5 299.7,197.5 299.7,197.7 300.0,197.7 300.0,197.6 300.3,197.5 300.3,197.7 300.7,197.7 300.7,197.5 301.0,197.5 301.0,197.7 301.3,197.7 301.3,197.5" stroke="#00ff00" stroke-width="0.38"/>
<path d="M57.7,196.0 57.7,244.0 58.2,245.8 58.2,238.4 58.7,241.8 58.7,249.6 59.2,245.3 59.2,237.6 59.7,240.8 59.7,247.8 60.2,247.2 60.2,241.5 60.7,240.7 60.7,251.4 61.2,248.4 61.2,238.3 61.7,238.1 61.7,248.7 62.2,249.3 62.2,237.2 62.7,243.2 62.7,251.6 63.2,250.0 63.2,239.6 63.7,236.6 63.7,254.0 64.2,247.9 64.2,239.7 64.7,238.9 64.7,250.9 65.2,244.1 65.2,234.1 65.7,236.7 65.7,244.4 66.2,246.9 66.2,233.3 66.7,236.1 66.7,245.5 67.2,248.5 67.2,237.9 67.7,242.4 67.7,229.0 68.2,234.4 68.2,244.4 68.7,242.7 68.7,233.7 69.2,234.6 69.2,244.9 69.8,243.2 69.8,232.0 70.3,232.0 70.3,244.8 70.8,240.6 70.8,233.2 71.3,227.7 71.3,241.5 71.8,240.8 71.8,232.0 72.3,232.8 72.3,246.8 72.8,244.0 72.8,233.6 73.3,232.0 73.3,246.8 73.8,245.2 73.8,230.3 74.3,233.9 74.3,244.4 74.8,246.7 74.8,236.4 75.3,234.0 75.3,244.7 75.8,248.5 75.8,236.1 76.3,236.2 76.3,241.8 76.8,245.4 76.8,234.3 77.3,234.3 77.3,246.8 77.8,245.5 77.8,234.6 78.3,235.3 78.3,243.7 78.8,243.5 78.8,235.6 79.3,233.5 79.3,242.6 79.8,247.4 79.8,233.5 80.3,232.8 80.3,247.6 80.8,241.8 80.8,231.5 81.3,226.1 81.3,239.6 81.7,235.4 81.7,227.9 82.2,224.5 82.2,236.8 82.7,236.3 82.7,224.8 83.2,222.2 83.2,230.2 83.7,231.3 83.7,217.8 84.2,218.7 84.2,230.3 84.7,227.2 84.7,216.8 85.2,215.5 85.2,223.9 85.7,225.6 85.7,214.5 86.2,210.7 86.2,222.3 86.7,220.5 86.7,209.4 87.2,209.5 87.2,222.0 87.7,217.7 87.7,208.1 88.2,205.2 88.2,218.1 88.7,217.8 88.7,204.0 89.2,207.0 89.2,222.1 89.7,212.7 89.7,202.7 90.2,205.0 90.2,215.0 90.7,211.7 90.7,201.7 91.2,199.2 91.2,208.3 91.7,207.3 91.7,199.2 92.2,195.5 92.2,204.6 92.7,203.5 92.7,195.7 93.2,197.3 93.2,209.4 93.7,204.5 93.7,195.3 94.3,197.9 94.3,206.4 94.8,208.3 94.8,197.8 95.3,196.6 95.3,205.3 95.8,207.1 95.8,197.4 96.3,194.5 96.3,205.0 96.8,200.1 96.8,212.4 97.3,210.6 97.3,198.2 97.8,203.0 97.8,212.0 98.3,212.8 98.3,203.3 98.8,207.9 98.8,218.5 99.3,218.8 99.3,210.6 99.8,216.3 99.8,227.1 100.3,230.4 100.3,217.5 100.8,222.0 100.8,231.6 101.3,229.7 101.3,216.3 101.8,219.5 101.8,227.9 102.3,233.4 102.3,214.1 102.8,217.0 102.8,224.8 103.3,228.2 103.3,220.8 103.8,221.1 103.8,226.2 104.3,224.9 104.3,211.0 104.8,207.2 104.8,221.1 105.3,212.4 105.3,203.3 105.8,200.2 105.8,209.1 106.2,206.7 106.2,198.8 106.7,198.9 106.7,206.7 107.2,207.0 107.2,197.6 107.7,197.1 107.7,206.3 108.2,202.8 108.2,196.3 108.7,196.5 108.7,206.6 109.2,205.3 109.2,194.1 109.7,193.8 109.7,204.1 110.2,207.0 110.2,198.6 110.7,197.1 110.7,206.6 111.2,210.9 111.2,197.7 111.7,196.8 111.7,206.0 112.2,204.6 112.2,195.1 112.7,195.8 112.7,204.6 113.2,206.3 113.2,193.5 113.7,194.2 113.7,202.2 114.2,198.3 114.2,188.8 114.7,189.4 114.7,202.9 115.2,196.5 115.2,186.3 115.7,185.5 115.7,193.9 116.2,192.6 116.2,181.0 116.7,182.5 116.7,193.1 117.2,186.7 117.2,179.0 117.7,179.5 117.7,187.7 118.2,187.4 118.2,178.4 118.8,184.0 118.8,172.7 119.3,178.8 119.3,185.5 119.8,181.2 119.8,172.0 120.3,170.1 120.3,179.6 120.8,181.7 120.8,170.4 121.3,169.2 121.3,182.1 121.8,179.6 121.8,171.8 122.3,169.1 122.3,177.6 122.8,176.0 122.8,165.8 123.3,164.6 123.3,174.0 123.8,176.0 123.8,165.9 124.3,163.8 124.3,172.0 124.8,169.6 124.8,160.6 125.3,161.0 125.3,170.9 125.8,172.5 125.8,163.3 126.3,162.9 126.3,168.5 126.8,171.7 126.8,162.5 127.3,165.8 127.3,157.9 127.8,156.0 127.8,165.6 128.3,166.1 128.3,152.7 128.8,153.3 128.8,161.7 129.3,162.1 129.3,152.2 129.8,151.2 129.8,161.1 130.3,160.3 130.3,153.2 130.7,150.8 130.7,159.3 131.2,159.8 131.2,149.7 131.7,149.2 131.7,156.7 132.2,157.6 132.2,146.5 132.7,147.7 132.7,158.0 133.2,153.0 133.2,147.0 133.7,147.7 133.7,155.9 134.2,154.8 134.2,144.9 134.7,142.5 134.7,155.6 135.2,151.4 135.2,144.3 135.7,144.0 135.7,152.7 136.2,147.4 136.2,159.1 136.7,157.0 136.7,147.3 137.2,145.1 137.2,155.4 137.7,155.2 137.7,146.3 138.2,148.2 138.2,157.1 138.7,159.2 138.7,149.5 139.2,145.2 139.2,159.8 139.7,163.1 139.7,148.7 140.2,153.6 140.2,160.7 140.7,156.8 140.7,166.4 141.2,167.3 141.2,160.8 141.7,160.5 141.7,168.8 142.2,170.4 142.2,163.4 142.7,163.4 142.7,168.7 143.3,166.6 143.3,175.0 143.8,176.6 143.8,163.8 144.3,159.6 144.3,172.3 144.8,163.0 144.8,153.7 145.3,151.0 145.3,161.7 145.8,156.2 145.8,144.0 146.3,142.8 146.3,154.2 146.8,146.4 146.8,139.1 147.3,142.0 147.3,150.0 147.8,147.9 147.8,136.7 148.3,132.9 148.3,144.3 148.8,139.8 148.8,131.4 149.3,129.4 149.3,138.7 149.8,141.3 149.8,127.9 150.3,126.0 150.3,134.9 150.8,137.8 150.8,126.0 151.3,124.9 151.3,134.9 151.8,132.7 151.8,124.6 152.3,127.4 152.3,119.1 152.8,120.0 152.8,129.5 153.3,130.1 153.3,119.4 153.8,120.0 153.8,124.6 154.3,130.3 154.3,118.8 154.8,113.4 154.8,125.6 155.2,121.6 155.2,112.0 155.7,109.2 155.7,121.7 156.2,121.9 156.2,112.5 156.7,117.8 156.7,106.4 157.2,108.7 157.2,116.8 157.7,116.6 157.7,106.7 158.2,103.5 158.2,117.1 158.7,115.9 158.7,105.2 159.2,101.4 159.2,112.9 159.7,114.8 159.7,102.9 160.2,99.3 160.2,111.4 160.7,110.2 160.7,96.3 161.2,93.6 161.2,106.1 161.7,106.6 161.7,93.9 162.2,93.9 162.2,101.5 162.7,100.3 162.7,91.3 163.2,88.2 163.2,96.6 163.7,95.6 163.7,87.9 164.2,91.1 164.2,80.3 164.7,82.0 164.7,90.4 165.2,93.7 165.2,79.9 165.7,76.1 165.7,83.8 166.2,81.2 166.2,71.2 166.7,73.4 166.7,83.2 167.2,87.1 167.2,75.8 167.8,79.3 167.8,89.0 168.3,85.6 168.3,95.8 168.8,97.6 168.8,88.3 169.3,90.7 169.3,101.0 169.8,105.2 169.8,92.5 170.3,95.8 170.3,103.8 170.8,104.3 170.8,95.2 171.3,98.4 171.3,110.0 171.8,118.0 171.8,101.8 172.3,105.5 172.3,113.2 172.8,110.7 172.8,117.7 173.3,112.8 173.3,124.2 173.8,122.2 173.8,109.1 174.3,110.1 174.3,124.7 174.8,128.4 174.8,116.6 175.3,120.3 175.3,129.4 175.8,127.4 175.8,116.2 176.3,119.9 176.3,132.3 176.8,127.8 176.8,121.9 177.3,122.2 177.3,131.2 177.8,135.4 177.8,123.7 178.3,127.4 178.3,135.4 178.8,139.1 178.8,122.3 179.3,129.3 179.3,137.7 179.7,141.3 179.7,127.9 180.2,132.2 180.2,141.9 180.7,142.9 180.7,133.7 181.2,136.1 181.2,145.8 181.7,144.4 181.7,136.1 182.2,135.1 182.2,148.9 182.7,150.3 182.7,140.5 183.2,138.3 183.2,147.8 183.7,151.0 183.7,144.4 184.2,140.6 184.2,155.1 184.7,155.1 184.7,143.1 185.2,145.6 185.2,155.3 185.7,158.2 185.7,149.6 186.2,150.0 186.2,162.6 186.7,157.8 186.7,150.0 187.2,151.0 187.2,167.3 187.7,160.8 187.7,152.0 188.2,150.9 188.2,168.6 188.7,163.4 188.7,156.8 189.2,160.0 189.2,170.3 189.7,167.8 189.7,158.5 190.2,156.1 190.2,166.4 190.7,168.6 190.7,161.7 191.2,161.4 191.2,170.9 191.8,172.3 191.8,163.8 192.3,160.9 192.3,170.0 192.8,170.8 192.8,162.9 193.3,166.7 193.3,178.3 193.8,176.6 193.8,165.6 194.3,165.1 194.3,176.2 194.8,174.2 194.8,163.8 195.3,167.8 195.3,175.0 195.8,171.4 195.8,182.2 196.3,181.9 196.3,168.3 196.8,172.7 196.8,181.3 197.3,186.0 197.3,171.0 197.8,171.4 197.8,182.0 198.3,185.1 198.3,173.6 198.8,175.2 198.8,183.7 199.3,183.4 199.3,173.1 199.8,175.8 199.8,185.0 200.3,190.7 200.3,177.3 200.8,173.1 200.8,184.5 201.3,187.5 201.3,174.4 201.8,184.8 201.8,194.7 202.3,190.4 202.3,181.3 202.8,178.0 202.8,191.1 203.3,189.5 203.3,180.0 203.8,184.2 203.8,192.8 204.2,195.9 204.2,183.3 204.7,184.7 204.7,192.1 205.2,192.2 205.2,185.7 205.7,184.1 205.7,192.3 206.2,191.5 206.2,185.2 206.7,182.0 206.7,196.5 207.2,196.3 207.2,188.1 207.7,183.8 207.7,199.0 208.2,198.2 208.2,188.9 208.7,186.9 208.7,197.6 209.2,197.1 209.2,188.5 209.7,189.5 209.7,198.1 210.2,201.0 210.2,190.5 210.7,190.8 210.7,202.0 211.2,200.7 211.2,195.9 211.7,190.8 211.7,202.8 212.2,206.8 212.2,192.5 212.7,194.3 212.7,203.4 213.2,203.0 213.2,193.6 213.7,194.1 213.7,203.0 214.2,204.7 214.2,193.2 214.7,193.8 214.7,205.3 215.2,203.7 215.2,197.6 215.7,197.5 215.7,209.4 216.3,210.3 216.3,198.5 216.8,197.0 216.8,206.1 217.3,209.9 217.3,197.8 217.8,199.0 217.8,212.8 218.3,212.5 218.3,199.5 218.8,201.8 218.8,212.3 219.3,210.4 219.3,198.7 219.8,200.1 219.8,209.8 220.3,214.7 220.3,200.9 220.8,201.6 220.8,210.1 221.3,215.6 221.3,202.9 221.8,202.6 221.8,213.8 222.3,217.5 222.3,202.6 222.8,203.4 222.8,212.0 223.3,216.0 223.3,204.1 223.8,204.0 223.8,211.3 224.3,215.2 224.3,205.6 224.8,207.3 224.8,219.0 225.3,217.4 225.3,207.9 225.8,205.7 225.8,218.7 226.3,218.0 226.3,205.3 226.8,207.1 226.8,214.9 227.3,218.5 227.3,209.3 227.8,209.1 227.8,216.5 228.3,216.8 228.3,207.5 228.7,210.5 228.7,218.9 229.2,221.4 229.2,211.5 229.7,209.9 229.7,218.7 230.2,219.9 230.2,213.6 230.7,210.9 230.7,222.5 231.2,223.8 231.2,211.9 231.7,212.6 231.7,227.3 232.2,221.3 232.2,211.3 232.7,212.4 232.7,221.4 233.2,222.3 233.2,211.8 233.7,212.1 233.7,222.9 234.2,224.4 234.2,212.7 234.7,213.1 234.7,224.9 235.2,224.5 235.2,213.9 235.7,214.9 235.7,225.4 236.2,225.5 236.2,214.5 236.7,217.9 236.7,223.5 237.2,227.6 237.2,217.4 237.7,213.8 237.7,225.5 238.2,225.9 238.2,219.0 238.7,215.2 238.7,225.4 239.2,227.5 239.2,218.2 239.7,217.9 239.7,228.5 240.2,226.4 240.2,219.2 240.8,222.2 240.8,215.6 241.3,218.8 241.3,229.1 241.8,227.5 241.8,218.8 242.3,219.2 242.3,225.2 242.8,227.1 242.8,219.8 243.3,216.9 243.3,226.4 243.8,228.8 243.8,217.3 244.3,221.1 244.3,228.4 244.8,230.3 244.8,218.1 245.3,219.3 245.3,227.9 245.8,228.6 245.8,217.3 246.3,218.9 246.3,227.8 246.8,229.1 246.8,220.2 247.3,221.7 247.3,229.4 247.8,227.6 247.8,219.5 248.3,219.2 248.3,227.1 248.8,229.6 248.8,220.8 249.3,221.6 249.3,227.9 249.8,228.0 249.8,219.3 250.3,223.2 250.3,227.9 250.8,229.0 250.8,224.5 251.3,224.4 251.3,230.3 251.8,229.0 251.8,222.9 252.3,221.8 252.3,227.6 252.8,226.5 252.8,222.3 253.2,221.9 253.2,227.8 253.7,229.4 253.7,222.7 254.2,222.0 254.2,228.8 254.7,228.4 254.7,222.7 255.2,223.4 255.2,229.2 255.7,228.7 255.7,224.0 256.2,220.4 256.2,228.4 256.7,228.9 256.7,221.6 257.2,222.9 257.2,228.9 257.7,229.3 257.7,223.7 258.2,223.1 258.2,227.7 258.7,229.1 258.7,223.3 259.2,221.3 259.2,228.7 259.7,229.2 259.7,223.6 260.2,222.9 260.2,228.3 260.7,226.7 260.7,224.0 261.2,222.4 261.2,228.2 261.7,226.9 261.7,221.8 262.2,224.1 262.2,226.9 262.7,228.4 262.7,224.0 263.2,223.1 263.2,228.6 263.7,228.4 263.7,223.3 264.2,223.5 264.2,227.1 264.7,228.4 264.7,223.8 265.3,222.3 265.3,227.1 265.8,227.8 265.8,223.2 266.3,224.0 266.3,227.3 266.8,227.3 266.8,222.7 267.3,223.1 267.3,227.6 267.8,226.5 267.8,223.1 268.3,222.4 268.3,226.0 268.8,225.7 268.8,223.0 269.3,222.9 269.3,227.2 269.8,227.0 269.8,222.8 270.3,223.1 270.3,227.0 270.8,227.0 270.8,223.6 271.3,222.7 271.3,226.7 271.8,227.0 271.8,223.3 272.3,222.5 272.3,226.8 272.8,226.3 272.8,223.1 273.3,223.7 273.3,226.8 273.8,226.1 273.8,222.9 274.3,223.9 274.3,225.9 274.8,226.5 274.8,222.9 275.3,224.7 275.3,226.9 275.8,226.9 275.8,224.1 276.3,223.8 276.3,226.2 276.8,226.4 276.8,223.7 277.3,223.7 277.3,226.4 277.7,226.3 277.7,223.8 278.2,223.8 278.2,226.5 278.7,226.5 278.7,224.1 279.2,224.3 279.2,226.7 279.7,226.7 279.7,224.8 280.2,225.5 280.2,224.1 280.7,224.1 280.7,226.2 281.2,226.5 281.2,224.5 281.7,224.7 281.7,226.3 282.2,226.3 282.2,224.8 282.7,224.6 282.7,226.0 283.2,226.3 283.2,224.6 283.7,224.7 283.7,226.1 284.2,226.0 284.2,224.8 284.7,225.0 284.7,225.8 285.2,226.0 285.2,224.7 285.7,224.7 285.7,225.9 286.2,226.0 286.2,224.7 286.7,224.6 286.7,226.1 287.2,225.7 287.2,224.7 287.7,224.5 287.7,225.6 288.2,225.9 288.2,224.7 288.7,224.4 288.7,225.5 289.2,225.8 289.2,225.0 289.8,224.9 289.8,225.7 290.3,225.8 290.3,224.8 290.8,224.6 290.8,225.7 291.3,225.9 291.3,224.6 291.8,224.8 291.8,225.7 M292.8,225.7 292.8,224.7 293.3,224.6 293.3,225.7 M294.3,225.8 294.3,224.7 294.8,224.6 294.8,225.9 295.3,225.8 295.3,224.8 M296.3,225.0 296.3,225.9 M297.8,225.7 297.8,224.8 M298.8,224.7 298.8,225.8 M301.3,225.7 301.3,224.8" stroke="#0000ff" stroke-width="0.80"/>
<path d="M57.7,196.0 57.7,252.5 58.0,254.1 58.0,235.9 58.3,238.4 58.3,252.8 58.7,260.8 58.7,241.8 59.0,237.6 59.0,256.0 59.3,253.9 59.3,239.0 59.7,240.8 59.7,259.2 60.0,256.7 60.0,241.2 60.3,241.5 60.3,267.3 60.7,253.3 60.7,241.3 61.0,240.1 61.0,268.9 61.3,260.8 61.3,238.3 61.7,238.1 61.7,253.9 62.0,239.4 62.0,280.2 62.3,258.6 62.3,237.2 62.7,243.2 62.7,265.4 63.0,260.2 63.0,239.6 63.3,239.6 63.3,261.3 63.7,259.7 63.7,238.7 64.0,236.6 64.0,256.0 64.3,253.3 64.3,239.7 64.7,238.9 64.7,273.7 65.0,254.5 65.0,239.4 65.3,234.1 65.3,260.9 65.7,250.1 65.7,237.2 66.0,236.7 66.0,254.0 66.3,249.1 66.3,233.3 66.7,236.1 66.7,251.6 67.0,257.4 67.0,237.0 67.3,237.9 67.3,251.4 67.7,247.0 67.7,229.0 68.0,232.2 68.0,248.1 68.3,253.4 68.3,234.4 68.7,235.2 68.7,247.9 69.0,245.5 69.0,233.7 69.3,237.4 69.3,260.2 69.7,257.8 69.7,232.7 70.0,232.0 70.0,260.1 70.3,271.4 70.3,232.0 70.7,233.2 70.7,253.7 71.0,258.3 71.0,230.6 71.3,227.7 71.3,247.8 71.7,257.0 71.7,232.0 72.0,232.0 72.0,249.3 72.3,254.4 72.3,232.8 72.7,233.6 72.7,249.4 73.0,257.7 73.0,232.0 73.3,236.1 73.3,261.2 73.7,259.8 73.7,235.3 74.0,230.3 74.0,254.0 74.3,257.1 74.3,233.9 74.7,239.0 74.7,277.8 75.0,251.2 75.0,236.4 75.3,234.0 75.3,256.0 75.7,275.8 75.7,236.1 76.0,236.2 76.0,254.0 76.3,250.6 76.3,236.3 76.7,234.3 76.7,262.2 77.0,248.3 77.0,235.8 77.3,234.3 77.3,254.4 77.7,254.1 77.7,234.6 78.0,234.6 78.0,253.6 78.3,253.0 78.3,235.3 78.7,237.3 78.7,274.6 79.0,264.9 79.0,235.5 79.3,233.5 79.3,256.2 79.7,259.7 79.7,233.5 80.0,232.8 80.0,255.7 80.3,252.5 80.3,240.3 80.7,232.8 80.7,256.7 81.0,252.2 81.0,231.5 81.3,226.1 81.3,257.0 81.7,257.0 81.7,227.9 82.0,229.5 82.0,244.6 82.3,240.9 82.3,224.5 82.7,225.6 82.7,248.2 83.0,238.9 83.0,223.8 83.3,222.2 83.3,238.0 83.7,239.2 83.7,222.6 84.0,217.8 84.0,239.9 84.3,241.4 84.3,221.6 84.7,220.5 84.7,232.3 85.0,240.1 85.0,215.5 85.3,216.7 85.3,236.5 85.7,249.2 85.7,214.5 86.0,219.3 86.0,238.8 86.3,230.4 86.3,210.7 86.7,212.4 86.7,230.5 87.0,224.6 87.0,209.4 87.3,209.5 87.3,233.0 87.7,226.5 87.7,211.1 88.0,207.7 88.0,231.1 88.3,232.9 88.3,205.2 88.7,204.0 88.7,247.1 89.0,232.1 89.0,208.1 89.3,207.0 89.3,227.1 89.7,225.5 89.7,202.7 90.0,204.6 90.0,223.7 90.3,224.2 90.3,205.0 90.7,201.7 90.7,242.2 91.0,227.6 91.0,202.0 91.3,199.2 91.3,214.3 91.7,223.3 91.7,199.2 92.0,196.2 92.0,215.6 92.3,208.6 92.3,195.5 92.7,195.7 92.7,211.4 93.0,210.0 93.0,197.3 93.3,198.8 93.3,227.7 93.7,222.9 93.7,195.3 94.0,198.6 94.0,217.7 94.3,211.5 94.3,197.9 94.7,198.2 94.7,223.6 95.0,218.1 95.0,197.2 95.3,196.6 95.3,209.6 95.7,216.5 95.7,197.4 96.0,194.5 96.0,227.2 96.3,211.8 96.3,197.5 96.7,203.2 96.7,217.9 97.0,212.9 97.0,198.2 97.3,199.8 97.3,219.5 97.7,219.4 97.7,203.8 98.0,203.0 98.0,227.2 98.3,246.2 98.3,203.3 98.7,207.9 98.7,224.8 99.0,230.5 99.0,211.0 99.3,210.6 99.3,231.4 99.7,231.1 99.7,219.1 100.0,216.3 100.0,232.9 100.3,242.3 100.3,222.7 100.7,222.0 100.7,237.1 101.0,236.8 101.0,220.3 101.3,216.3 101.3,234.2 101.7,240.6 101.7,219.5 102.0,221.2 102.0,236.0 102.3,244.9 102.3,214.1 102.7,217.0 102.7,233.2 103.0,233.4 103.0,217.8 103.3,220.8 103.3,245.3 103.7,236.7 103.7,221.2 104.0,219.1 104.0,231.1 104.3,226.9 104.3,211.0 104.7,209.3 104.7,225.5 105.0,231.1 105.0,207.2 105.3,203.3 105.3,218.6 105.7,214.6 105.7,200.7 106.0,200.2 106.0,221.9 106.3,221.6 106.3,198.8 106.7,200.1 106.7,211.7 107.0,212.4 107.0,197.6 107.3,200.2 107.3,213.6 107.7,212.6 107.7,197.1 108.0,196.3 108.0,209.5 108.3,213.2 108.3,198.3 108.7,196.5 108.7,213.7 109.0,217.2 109.0,194.4 109.3,194.1 109.3,213.5 109.7,212.7 109.7,195.0 110.0,193.8 110.0,213.4 110.3,217.8 110.3,198.6 110.7,198.5 110.7,220.9 111.0,232.5 111.0,197.1 111.3,197.7 111.3,213.0 111.7,215.3 111.7,196.8 112.0,197.0 112.0,212.4 112.3,209.6 112.3,195.1 112.7,196.8 112.7,213.2 113.0,219.1 113.0,195.8 113.3,193.5 113.3,217.0 113.7,209.9 113.7,194.2 114.0,194.5 114.0,207.2 114.3,215.2 114.3,188.8 114.7,189.6 114.7,212.5 115.0,205.1 115.0,189.4 115.3,186.3 115.3,205.5 115.7,202.2 115.7,185.9 116.0,185.5 116.0,228.2 116.3,194.4 116.3,181.0 116.7,182.5 116.7,197.1 117.0,199.3 117.0,181.3 117.3,179.0 117.3,196.3 117.7,192.1 117.7,179.5 118.0,180.0 118.0,222.2 118.3,192.8 118.3,178.4 118.7,172.7 118.7,196.6 119.0,198.9 119.0,174.5 119.3,179.2 119.3,188.6 119.7,187.2 119.7,172.0 120.0,171.5 120.0,183.6 120.3,188.5 120.3,170.1 120.7,174.7 120.7,188.8 121.0,189.5 121.0,170.4 121.3,169.2 121.3,187.9 121.7,187.4 121.7,171.8 122.0,171.3 122.0,182.0 122.3,193.4 122.3,169.1 122.7,165.8 122.7,190.3 123.0,177.8 123.0,166.2 123.3,164.6 123.3,182.3 123.7,184.4 123.7,165.9 124.0,163.8 124.0,186.3 124.3,190.5 124.3,164.5 124.7,160.6 124.7,175.7 125.0,164.5 125.0,188.4 125.3,186.5 125.3,161.0 125.7,164.8 125.7,184.3 126.0,173.6 126.0,163.3 126.3,162.9 126.3,176.6 126.7,182.6 126.7,162.5 127.0,160.4 127.0,178.2 127.3,174.8 127.3,157.9 127.7,159.9 127.7,176.5 128.0,167.8 128.0,152.7 128.3,158.2 128.3,175.8 128.7,163.9 128.7,155.1 129.0,153.3 129.0,166.3 129.3,167.2 129.3,152.2 129.7,151.3 129.7,177.1 130.0,162.5 130.0,151.2 130.3,153.4 130.3,168.6 130.7,166.8 130.7,153.6 131.0,150.8 131.0,168.1 131.3,167.8 131.3,149.7 131.7,149.2 131.7,166.2 132.0,173.9 132.0,152.5 132.3,146.5 132.3,169.1 132.7,166.6 132.7,147.7 133.0,148.8 133.0,159.2 133.3,159.9 133.3,147.0 133.7,147.7 133.7,178.3 134.0,164.5 134.0,144.9 134.3,147.3 134.3,167.5 134.7,159.8 134.7,142.5 135.0,146.5 135.0,160.0 135.3,162.1 135.3,144.3 135.7,144.7 135.7,160.1 136.0,166.3 136.0,144.0 136.3,147.4 136.3,161.4 136.7,165.8 136.7,147.3 137.0,149.0 137.0,162.0 137.3,159.4 137.3,145.1 137.7,146.3 137.7,175.2 138.0,175.8 138.0,147.2 138.3,148.2 138.3,170.8 138.7,171.7 138.7,149.5 139.0,147.8 139.0,171.5 139.3,171.6 139.3,145.2 139.7,151.1 139.7,212.2 140.0,165.3 140.0,148.7 140.3,153.6 140.3,172.8 140.7,177.4 140.7,156.8 141.0,159.8 141.0,206.8 141.3,173.8 141.3,160.8 141.7,160.5 141.7,173.1 142.0,164.1 142.0,186.3 142.3,176.7 142.3,163.4 142.7,163.4 142.7,184.2 143.0,183.7 143.0,164.2 143.3,166.6 143.3,181.5 143.7,187.1 143.7,163.8 144.0,163.2 144.0,190.3 144.3,178.1 144.3,159.6 144.7,153.7 144.7,197.8 145.0,169.0 145.0,155.6 145.3,151.0 145.3,168.4 145.7,165.6 145.7,144.0 146.0,145.1 146.0,157.4 146.3,163.0 146.3,142.8 146.7,139.1 146.7,149.3 147.0,142.0 147.0,160.4 147.3,170.9 147.3,144.9 147.7,136.7 147.7,163.4 148.0,151.2 148.0,137.0 148.3,132.9 148.3,160.2 148.7,148.6 148.7,131.4 149.0,131.3 149.0,156.0 149.3,140.7 149.3,129.4 149.7,127.9 149.7,149.1 150.0,143.3 150.0,129.1 150.3,126.0 150.3,142.1 150.7,147.6 150.7,126.0 151.0,125.8 151.0,143.8 151.3,142.4 151.3,124.9 151.7,124.6 151.7,135.7 152.0,125.1 152.0,150.1 152.3,140.8 152.3,119.1 152.7,120.0 152.7,139.5 153.0,137.5 153.0,121.2 153.3,119.4 153.3,138.7 153.7,135.5 153.7,121.0 154.0,118.8 154.0,131.3 154.3,119.8 154.3,145.5 154.7,127.9 154.7,113.8 155.0,113.4 155.0,151.5 155.3,133.6 155.3,112.0 155.7,109.2 155.7,128.1 156.0,135.2 156.0,114.0 156.3,112.5 156.3,130.9 156.7,124.2 156.7,106.4 157.0,110.4 157.0,130.1 157.3,120.1 157.3,108.7 157.7,106.7 157.7,130.7 158.0,125.0 158.0,107.5 158.3,103.5 158.3,128.1 158.7,132.0 158.7,105.2 159.0,101.4 159.0,117.2 159.3,120.6 159.3,106.1 159.7,108.7 159.7,122.7 160.0,121.3 160.0,99.5 160.3,99.3 160.3,133.9 160.7,119.3 160.7,96.3 161.0,93.6 161.0,118.1 161.3,109.8 161.3,98.1 161.7,93.9 161.7,120.8 162.0,113.1 162.0,97.1 162.3,93.9 162.3,109.3 162.7,103.5 162.7,94.5 163.0,88.2 163.0,108.7 163.3,111.4 163.3,89.9 163.7,87.9 163.7,102.0 164.0,99.1 164.0,85.3 164.3,80.3 164.3,103.2 164.7,110.0 164.7,82.0 165.0,83.4 165.0,101.7 165.3,99.7 165.3,79.9 165.7,76.1 165.7,96.3 166.0,99.7 166.0,74.1 166.3,71.2 166.3,83.6 166.7,73.4 166.7,95.1 167.0,89.8 167.0,73.7 167.3,75.8 167.3,97.3 167.7,95.2 167.7,79.3 168.0,81.6 168.0,112.5 168.3,107.1 168.3,85.6 168.7,88.3 168.7,100.0 169.0,103.0 169.0,90.7 169.3,93.2 169.3,108.7 169.7,92.5 169.7,126.3 170.0,115.0 170.0,97.8 170.3,95.8 170.3,122.0 170.7,112.2 170.7,95.2 171.0,98.4 171.0,121.5 171.3,117.6 171.3,98.8 171.7,101.8 171.7,124.7 172.0,123.5 172.0,106.3 172.3,105.5 172.3,117.8 172.7,121.2 172.7,110.7 173.0,111.1 173.0,143.8 173.3,136.4 173.3,112.8 173.7,109.1 173.7,131.5 174.0,128.0 174.0,112.1 174.3,110.1 174.3,140.3 174.7,146.0 174.7,118.5 175.0,116.6 175.0,133.7 175.3,144.9 175.3,120.3 175.7,116.2 175.7,135.8 176.0,124.4 176.0,147.5 176.3,135.4 176.3,119.9 176.7,121.9 176.7,140.0 177.0,142.6 177.0,124.5 177.3,122.2 177.3,141.1 177.7,147.1 177.7,123.7 178.0,127.4 178.0,147.4 178.3,143.4 178.3,127.6 178.7,122.3 178.7,142.7 179.0,147.2 179.0,132.9 179.3,129.3 179.3,146.5 179.7,162.5 179.7,127.9 180.0,132.2 180.0,144.9 180.3,135.5 180.3,158.4 180.7,151.3 180.7,133.7 181.0,136.1 181.0,157.3 181.3,149.1 181.3,138.1 181.7,136.1 181.7,160.4 182.0,163.1 182.0,135.1 182.3,137.7 182.3,166.7 182.7,159.9 182.7,140.5 183.0,138.3 183.0,156.6 183.3,154.8 183.3,140.9 183.7,144.4 183.7,160.3 184.0,166.4 184.0,140.6 184.3,142.2 184.3,166.5 184.7,162.2 184.7,143.1 185.0,146.5 185.0,165.8 185.3,163.1 185.3,145.6 185.7,150.4 185.7,165.2 186.0,171.1 186.0,149.6 186.3,150.0 186.3,168.8 186.7,159.5 186.7,150.0 187.0,150.4 187.0,169.0 187.3,155.2 187.3,207.5 187.7,165.1 187.7,152.0 188.0,155.0 188.0,180.0 188.3,190.7 188.3,150.9 188.7,156.8 188.7,176.9 189.0,191.0 189.0,157.6 189.3,160.0 189.3,178.2 189.7,174.8 189.7,158.5 190.0,156.1 190.0,182.0 190.3,179.2 190.3,156.1 190.7,161.7 190.7,182.8 191.0,177.2 191.0,162.3 191.3,161.4 191.3,183.2 191.7,177.2 191.7,163.8 192.0,160.9 192.0,178.0 192.3,185.6 192.3,163.6 192.7,163.0 192.7,179.7 193.0,188.5 193.0,162.9 193.3,166.7 193.3,191.9 193.7,184.2 193.7,166.3 194.0,165.6 194.0,182.5 194.3,184.8 194.3,165.1 194.7,163.8 194.7,181.5 195.0,169.8 195.0,195.4 195.3,181.7 195.3,167.8 195.7,171.4 195.7,189.1 196.0,198.5 196.0,174.8 196.3,168.3 196.3,188.5 196.7,184.5 196.7,172.7 197.0,173.0 197.0,193.2 197.3,189.9 197.3,171.0 197.7,171.4 197.7,189.8 198.0,194.8 198.0,174.8 198.3,173.6 198.3,189.4 198.7,192.3 198.7,175.2 199.0,173.1 199.0,194.5 199.3,189.6 199.3,176.0 199.7,175.8 199.7,188.0 200.0,191.8 200.0,177.6 200.3,177.3 200.3,203.9 200.7,195.4 200.7,173.1 201.0,175.9 201.0,197.3 201.3,195.7 201.3,174.4 201.7,189.7 201.7,218.5 202.0,216.7 202.0,184.1 202.3,181.3 202.3,202.0 202.7,195.8 202.7,178.8 203.0,178.0 203.0,203.5 203.3,199.9 203.3,180.0 203.7,185.9 203.7,205.9 204.0,193.9 204.0,184.2 204.3,183.3 204.3,205.3 204.7,198.1 204.7,187.2 205.0,184.7 205.0,206.3 205.3,197.2 205.3,185.7 205.7,185.0 205.7,204.6 206.0,199.3 206.0,184.1 206.3,185.2 206.3,203.8 206.7,214.2 206.7,182.0 207.0,187.1 207.0,219.3 207.3,205.6 207.3,188.8 207.7,183.8 207.7,210.7 208.0,212.6 208.0,187.4 208.3,188.9 208.3,200.3 208.7,202.3 208.7,189.3 209.0,186.9 209.0,212.0 209.3,214.5 209.3,188.8 209.7,189.5 209.7,199.1 210.0,206.0 210.0,190.5 210.3,194.2 210.3,211.2 210.7,204.6 210.7,190.8 211.0,194.2 211.0,223.4 211.3,212.2 211.3,195.9 211.7,190.8 211.7,210.0 212.0,217.4 212.0,192.5 212.3,193.4 212.3,214.3 212.7,218.3 212.7,194.3 213.0,198.0 213.0,222.2 213.3,212.3 213.3,193.6 213.7,194.4 213.7,209.3 214.0,206.7 214.0,193.2 214.3,195.1 214.3,221.4 214.7,231.6 214.7,193.8 215.0,197.1 215.0,207.6 215.3,210.9 215.3,197.9 215.7,200.2 215.7,212.7 216.0,220.4 216.0,197.5 216.3,199.5 216.3,222.4 216.7,217.8 216.7,197.0 217.0,197.8 217.0,231.9 217.3,218.1 217.3,199.8 217.7,199.0 217.7,222.3 218.0,236.8 218.0,199.5 218.3,200.6 218.3,220.6 218.7,223.4 218.7,206.0 219.0,211.8 219.0,198.7 219.3,198.9 219.3,222.1 219.7,230.0 219.7,200.1 220.0,202.1 220.0,216.1 220.3,226.6 220.3,200.9 220.7,201.6 220.7,214.9 221.0,216.2 221.0,204.1 221.3,202.9 221.3,222.2 221.7,219.9 221.7,205.9 222.0,202.6 222.0,223.4 222.3,225.0 222.3,202.6 222.7,203.4 222.7,220.1 223.0,222.1 223.0,204.3 223.3,204.1 223.3,221.5 223.7,222.1 223.7,204.0 224.0,205.0 224.0,219.0 224.3,205.6 224.3,235.0 224.7,230.3 224.7,207.3 225.0,207.9 225.0,221.8 225.3,210.4 225.3,237.2 225.7,223.1 225.7,205.7 226.0,205.3 226.0,223.5 226.3,226.5 226.3,206.7 226.7,207.1 226.7,231.7 227.0,229.8 227.0,208.7 227.3,210.0 227.3,220.1 227.7,223.9 227.7,209.1 228.0,207.5 228.0,240.5 228.3,225.0 228.3,208.3 228.7,210.6 228.7,227.0 229.0,231.7 229.0,210.5 229.3,214.9 229.3,233.8 229.7,221.1 229.7,209.9 230.0,213.6 230.0,225.9 230.3,228.5 230.3,215.8 230.7,210.9 230.7,229.8 231.0,227.1 231.0,212.1 231.3,211.9 231.3,231.9 231.7,240.0 231.7,212.6 232.0,211.3 232.0,233.9 232.3,224.7 232.3,214.7 232.7,212.4 232.7,232.7 233.0,227.8 233.0,212.3 233.3,211.8 233.3,226.4 233.7,215.7 233.7,241.3 234.0,230.0 234.0,212.1 234.3,212.7 234.3,239.9 234.7,227.0 234.7,213.1 235.0,213.9 235.0,236.0 235.3,225.7 235.3,215.2 235.7,214.9 235.7,234.0 236.0,232.8 236.0,214.5 236.3,216.5 236.3,230.9 236.7,232.7 236.7,217.9 237.0,218.2 237.0,228.5 237.3,235.7 237.3,217.4 237.7,213.8 237.7,235.0 238.0,238.4 238.0,222.1 238.3,219.0 238.3,234.1 238.7,230.8 238.7,215.2 239.0,218.9 239.0,228.9 239.3,229.7 239.3,218.2 239.7,217.9 239.7,230.3 240.0,236.2 240.0,221.9 240.3,219.2 240.3,228.7 240.7,229.3 240.7,215.6 241.0,217.1 241.0,235.5 241.3,234.8 241.3,218.8 241.7,219.9 241.7,229.5 242.0,234.6 242.0,218.8 242.3,219.2 242.3,231.4 242.7,232.4 242.7,219.8 243.0,217.2 243.0,227.0 243.3,234.9 243.3,216.9 243.7,217.3 243.7,235.2 244.0,231.0 244.0,221.3 244.3,221.1 244.3,234.2 244.7,234.7 244.7,218.1 245.0,219.7 245.0,233.5 245.3,233.9 245.3,219.3 245.7,217.3 245.7,234.1 246.0,233.4 246.0,218.9 246.3,219.7 246.3,232.9 246.7,232.8 246.7,220.7 247.0,220.2 247.0,233.3 247.3,231.9 247.3,221.7 247.7,219.5 247.7,231.2 248.0,229.9 248.0,219.2 248.3,222.8 248.3,232.5 248.7,231.5 248.7,222.5 249.0,220.8 249.0,232.0 249.3,230.2 249.3,221.6 249.7,222.5 249.7,232.0 250.0,229.7 250.0,219.3 250.3,223.2 250.3,231.0 250.7,230.5 250.7,224.5 251.0,224.5 251.0,231.6 251.3,231.0 251.3,224.4 251.7,224.6 251.7,231.5 252.0,231.4 252.0,221.8 252.3,221.9 252.3,230.5 252.7,229.0 252.7,222.3 253.0,223.0 253.0,229.3 253.3,231.4 253.3,221.9 253.7,223.1 253.7,231.3 254.0,231.3 254.0,222.7 254.3,222.0 254.3,231.2 254.7,230.3 254.7,222.7 255.0,223.5 255.0,230.0 255.3,231.0 255.3,223.4 255.7,224.7 255.7,230.8 256.0,230.8 256.0,220.4 256.3,222.9 256.3,230.6 256.7,230.5 256.7,221.6 257.0,222.9 257.0,230.7 257.3,230.1 257.3,223.0 257.7,223.7 257.7,230.3 258.0,230.2 258.0,223.1 258.3,223.7 258.3,229.7 258.7,230.0 258.7,223.3 259.0,222.4 259.0,230.2 259.3,230.0 259.3,221.3 259.7,223.6 259.7,230.0 260.0,229.9 260.0,222.9 260.3,223.0 260.3,229.8 260.7,229.1 260.7,224.0 261.0,224.0 261.0,229.4 261.3,229.5 261.3,222.4 261.7,223.7 261.7,229.4 262.0,229.4 262.0,221.8 262.3,224.3 262.3,229.0 262.7,229.3 262.7,224.0 263.0,223.1 263.0,229.2 263.3,229.2 263.3,223.6 263.7,224.5 263.7,229.0 264.0,229.1 264.0,223.3 264.3,224.2 264.3,228.9 264.7,228.9 264.7,223.8 265.0,223.7 265.0,228.3 265.3,228.6 265.3,222.3 265.7,223.2 265.7,228.7 266.0,228.5 266.0,224.2 266.3,224.0 266.3,228.5 266.7,228.6 266.7,224.0 267.0,222.7 267.0,228.4 267.3,228.1 267.3,224.0 267.7,223.8 267.7,228.1 268.0,228.1 268.0,223.1 268.3,222.4 268.3,228.2 268.7,227.4 268.7,223.0 269.0,223.2 269.0,227.9 269.3,228.2 269.3,222.9 269.7,222.8 269.7,228.1 270.0,227.7 270.0,223.1 270.3,223.2 270.3,228.0 270.7,227.8 270.7,223.6 271.0,224.1 271.0,228.0 271.3,228.0 271.3,222.7 271.7,223.4 271.7,227.8 272.0,227.7 272.0,222.5 272.3,223.5 272.3,227.9 272.7,227.9 272.7,223.1 273.0,223.5 273.0,227.7 273.3,228.0 273.3,223.7 273.7,222.9 273.7,227.4 274.0,227.2 274.0,224.6 274.3,223.9 274.3,227.7 274.7,227.6 274.7,225.0 275.0,222.9 275.0,227.8 275.3,227.8 275.3,224.7 275.7,224.1 275.7,227.5 276.0,227.3 276.0,224.6 276.3,223.8 276.3,227.6 276.7,227.5 276.7,224.3 277.0,223.7 277.0,227.3 277.3,227.5 277.3,224.8 277.7,224.9 277.7,227.2 278.0,227.4 278.0,223.8 278.3,223.8 278.3,227.1 278.7,227.0 278.7,224.7 279.0,224.1 279.0,227.3 279.3,227.1 279.3,224.6 279.7,225.2 279.7,227.2 280.0,227.1 280.0,224.1 280.3,224.3 280.3,226.7 280.7,227.0 280.7,224.1 281.0,224.3 281.0,226.7 281.3,226.9 281.3,224.5 281.7,225.0 281.7,226.9 282.0,226.7 282.0,224.7 282.3,224.9 282.3,226.6 282.7,226.4 282.7,224.6 283.0,225.2 283.0,226.5 283.3,226.4 283.3,224.6 283.7,224.8 283.7,226.3 284.0,226.3 284.0,224.7 284.3,224.8 284.3,226.4 284.7,226.2 284.7,225.0 285.0,224.8 285.0,226.3 285.3,226.4 285.3,224.7 285.7,224.7 285.7,226.2 286.0,226.2 286.0,224.9 286.3,224.7 286.3,226.2 286.7,226.3 286.7,224.6 287.0,224.8 287.0,226.2 287.3,226.1 287.3,224.7 287.7,224.5 287.7,226.4 288.0,226.0 288.0,224.5 288.3,224.7 288.3,226.1 288.7,226.1 288.7,224.4 289.0,224.6 289.0,226.1 289.3,226.3 289.3,225.0 289.7,224.9 289.7,226.1 290.0,226.2 290.0,224.8 290.3,225.1 290.3,226.4 290.7,226.3 290.7,224.6 291.0,224.6 291.0,226.0 291.3,226.2 291.3,224.8 291.7,224.8 291.7,226.4 292.0,226.0 292.0,225.0 292.3,225.0 292.3,226.2 292.7,226.0 292.7,224.8 293.0,224.7 293.0,225.8 293.3,226.2 293.3,224.6 293.7,225.0 293.7,226.0 294.0,226.2 294.0,224.7 294.3,225.1 294.3,225.9 294.7,226.1 294.7,224.6 295.0,224.9 295.0,226.0 295.3,226.1 295.3,224.8 295.7,224.8 295.7,225.8 296.0,226.3 296.0,225.1 296.3,225.0 296.3,225.9 296.7,226.1 296.7,225.1 297.0,225.2 297.0,226.0 297.3,226.1 297.3,224.9 297.7,224.8 297.7,226.2 298.0,226.0 298.0,225.0 298.3,225.2 298.3,226.1 298.7,226.1 298.7,224.7 299.0,224.9 299.0,226.1 299.3,226.0 299.3,225.0 299.7,225.0 299.7,225.8 300.0,226.0 300.0,225.2 300.3,225.0 300.3,226.0 300.7,225.9 300.7,225.0 301.0,225.1 301.0,226.1 301.3,226.2 301.3,224.8" stroke="#0000ff" stroke-width="0.38"/>
</g>
<text x="57.50" y="316.8" text-anchor="middle" font-size="13.5" fill="#2b2b2b">0</text>
<text x="133.75" y="316.8" text-anchor="middle" font-size="13.5" fill="#2b2b2b">50</text>
<text x="210.00" y="316.8" text-anchor="middle" font-size="13.5" fill="#2b2b2b">100</text>
<text x="286.25" y="316.8" text-anchor="middle" font-size="13.5" fill="#2b2b2b">150</text>
<text x="52.90" y="300.80" text-anchor="end" font-size="11.0" fill="#2b2b2b">-4</text>
<text x="42.90" y="306.50" text-anchor="end" font-size="13.3" fill="#2b2b2b">10</text>
<text x="52.90" y="233.30" text-anchor="end" font-size="11.0" fill="#2b2b2b">-2</text>
<text x="42.90" y="239.00" text-anchor="end" font-size="13.3" fill="#2b2b2b">10</text>
<text x="52.90" y="165.80" text-anchor="end" font-size="11.0" fill="#2b2b2b">0</text>
<text x="46.80" y="171.50" text-anchor="end" font-size="13.3" fill="#2b2b2b">10</text>
<text x="52.90" y="98.30" text-anchor="end" font-size="11.0" fill="#2b2b2b">2</text>
<text x="46.80" y="104.00" text-anchor="end" font-size="13.3" fill="#2b2b2b">10</text>
<text x="52.90" y="30.80" text-anchor="end" font-size="11.0" fill="#2b2b2b">4</text>
<text x="46.80" y="36.50" text-anchor="end" font-size="13.3" fill="#2b2b2b">10</text>
<text x="179.50" y="335.5" text-anchor="middle" font-size="14.7" fill="#2b2b2b" textLength="100" lengthAdjust="spacingAndGlyphs">Frequency [Hz]</text>
<text transform="translate(22.10,164.50) rotate(-90)" text-anchor="middle" font-size="14.7" fill="#2b2b2b" textLength="63.5" lengthAdjust="spacingAndGlyphs">Amplitude</text>
<text x="179.50" y="23.6" text-anchor="middle" font-size="13.9" font-weight="bold" fill="#000" textLength="254.6" lengthAdjust="spacingAndGlyphs">Spectral decomposition Channel # 3</text>
</g>
<g>
<clipPath id="cp1"><rect x="447.90" y="29.10" width="246.10" height="270.80"/></clipPath>
<path d="M448.50,29.50H693.40V299.50H448.50Z" fill="none" stroke="#bcbcbc" stroke-width="1.00"/>
<path d="M525.03,299.50v-2.90M525.03,29.50v2.90M601.56,299.50v-2.90M601.56,29.50v2.90M678.09,299.50v-2.90M678.09,29.50v2.90M448.00,289.34h1.30M693.90,289.34h-1.30M448.00,283.40h1.30M693.90,283.40h-1.30M448.00,279.18h1.30M693.90,279.18h-1.30M448.00,275.91h1.30M693.90,275.91h-1.30M448.00,273.24h1.30M693.90,273.24h-1.30M448.00,270.98h1.30M693.90,270.98h-1.30M448.00,269.02h1.30M693.90,269.02h-1.30M448.00,267.29h1.30M693.90,267.29h-1.30M448.00,265.75h1.30M693.90,265.75h-1.30M448.00,255.59h1.30M693.90,255.59h-1.30M448.00,249.65h1.30M693.90,249.65h-1.30M448.00,245.43h1.30M693.90,245.43h-1.30M448.00,242.16h1.30M693.90,242.16h-1.30M448.00,239.49h1.30M693.90,239.49h-1.30M448.00,237.23h1.30M693.90,237.23h-1.30M448.00,235.27h1.30M693.90,235.27h-1.30M448.00,233.54h1.30M693.90,233.54h-1.30M448.50,232.00h2.90M693.40,232.00h-2.90M448.00,221.84h1.30M693.90,221.84h-1.30M448.00,215.90h1.30M693.90,215.90h-1.30M448.00,211.68h1.30M693.90,211.68h-1.30M448.00,208.41h1.30M693.90,208.41h-1.30M448.00,205.74h1.30M693.90,205.74h-1.30M448.00,203.48h1.30M693.90,203.48h-1.30M448.00,201.52h1.30M693.90,201.52h-1.30M448.00,199.79h1.30M693.90,199.79h-1.30M448.00,198.25h1.30M693.90,198.25h-1.30M448.00,188.09h1.30M693.90,188.09h-1.30M448.00,182.15h1.30M693.90,182.15h-1.30M448.00,177.93h1.30M693.90,177.93h-1.30M448.00,174.66h1.30M693.90,174.66h-1.30M448.00,171.99h1.30M693.90,171.99h-1.30M448.00,169.73h1.30M693.90,169.73h-1.30M448.00,167.77h1.30M693.90,167.77h-1.30M448.00,166.04h1.30M693.90,166.04h-1.30M448.50,164.50h2.90M693.40,164.50h-2.90M448.00,154.34h1.30M693.90,154.34h-1.30M448.00,148.40h1.30M693.90,148.40h-1.30M448.00,144.18h1.30M693.90,144.18h-1.30M448.00,140.91h1.30M693.90,140.91h-1.30M448.00,138.24h1.30M693.90,138.24h-1.30M448.00,135.98h1.30M693.90,135.98h-1.30M448.00,134.02h1.30M693.90,134.02h-1.30M448.00,132.29h1.30M693.90,132.29h-1.30M448.00,130.75h1.30M693.90,130.75h-1.30M448.00,120.59h1.30M693.90,120.59h-1.30M448.00,114.65h1.30M693.90,114.65h-1.30M448.00,110.43h1.30M693.90,110.43h-1.30M448.00,107.16h1.30M693.90,107.16h-1.30M448.00,104.49h1.30M693.90,104.49h-1.30M448.00,102.23h1.30M693.90,102.23h-1.30M448.00,100.27h1.30M693.90,100.27h-1.30M448.00,98.54h1.30M693.90,98.54h-1.30M448.50,97.00h2.90M693.40,97.00h-2.90M448.00,86.84h1.30M693.90,86.84h-1.30M448.00,80.90h1.30M693.90,80.90h-1.30M448.00,76.68h1.30M693.90,76.68h-1.30M448.00,73.41h1.30M693.90,73.41h-1.30M448.00,70.74h1.30M693.90,70.74h-1.30M448.00,68.48h1.30M693.90,68.48h-1.30M448.00,66.52h1.30M693.90,66.52h-1.30M448.00,64.79h1.30M693.90,64.79h-1.30M448.00,63.25h1.30M693.90,63.25h-1.30M448.00,53.09h1.30M693.90,53.09h-1.30M448.00,47.15h1.30M693.90,47.15h-1.30M448.00,42.93h1.30M693.90,42.93h-1.30M448.00,39.66h1.30M693.90,39.66h-1.30M448.00,36.99h1.30M693.90,36.99h-1.30M448.00,34.73h1.30M693.90,34.73h-1.30M448.00,32.77h1.30M693.90,32.77h-1.30M448.00,31.04h1.30M693.90,31.04h-1.30" fill="none" stroke="#8c8c8c" stroke-width="0.7"/>
<g clip-path="url(#cp1)" fill="none" stroke-linejoin="round" stroke-linecap="butt">
<path d="M448.6,215.0 448.6,214.8 449.0,214.8 449.0,214.6 449.3,214.5 449.7,214.4 449.7,214.2 450.0,214.2 450.0,214.0 450.3,214.0 450.3,213.8 450.7,213.7 450.7,213.5 451.0,213.5 451.0,213.3 451.3,213.2 451.3,213.1 451.7,213.0 451.7,212.8 452.0,212.7 452.0,212.5 452.3,212.4 452.3,212.1 452.7,212.1 452.7,211.9 453.0,211.8 453.0,211.5 453.3,211.5 453.3,211.2 453.7,211.1 453.7,210.9 454.0,210.8 454.0,210.6 454.3,210.5 454.3,210.3 454.7,210.2 454.7,209.9 455.0,209.9 455.0,209.7 455.3,209.6 455.3,209.3 455.7,209.3 455.7,209.0 456.0,209.0 456.0,208.7 456.3,208.6 456.3,208.4 456.7,208.4 456.7,208.1 457.0,208.0 457.0,207.8 457.3,207.7 457.3,207.5 457.6,207.4 457.6,207.2 458.0,207.1 458.0,206.8 458.3,206.8 458.3,206.5 458.7,206.4 458.7,206.2 459.0,206.1 459.0,205.9 459.3,205.8 459.3,205.6 459.7,205.5 459.7,205.2 460.0,205.2 460.0,205.0 460.3,204.9 460.3,204.6 460.7,204.6 460.7,204.4 461.0,204.3 461.0,204.0 461.3,203.9 461.3,203.7 461.7,203.7 461.7,203.4 462.0,203.3 462.0,203.1 462.3,203.0 462.3,202.8 462.6,202.7 462.6,202.5 463.0,202.4 463.0,202.1 463.3,202.1 463.3,201.8 463.7,201.7 463.7,201.5 464.0,201.5 464.0,201.2 464.3,201.1 464.3,200.9 464.7,200.8 464.7,200.6 465.0,200.5 465.0,200.3 465.3,200.2 465.3,199.9 465.7,199.9 465.7,199.7 466.0,199.6 466.0,199.3 466.3,199.3 466.3,199.1 466.6,199.0 466.6,198.7 467.0,198.6 467.0,198.4 467.3,198.4 467.3,198.1 467.7,198.0 467.7,197.7 468.0,197.7 468.0,197.5 468.3,197.4 468.3,197.1 468.7,197.1 468.7,196.9 469.0,196.8 469.0,196.5 469.3,196.4 469.3,196.2 469.7,196.2 469.7,195.9 470.0,195.8 470.0,195.6 470.3,195.6 470.3,195.3 470.7,195.2 470.7,195.0 471.0,194.9 471.0,194.7 471.3,194.6 471.3,194.4 471.6,194.3 471.6,194.0 472.0,194.0 472.0,193.8 472.3,193.7 472.3,193.4 472.7,193.4 472.7,193.1 473.0,193.0 473.0,192.8 473.3,192.7 473.3,192.5 473.7,192.4 473.7,192.2 474.0,192.1 474.0,191.9 474.3,191.8 474.3,191.6 474.7,191.5 474.7,191.2 475.0,191.2 475.0,191.0 475.3,190.9 475.3,190.6 475.6,190.5 475.6,151.6 476.0,156.6 476.0,139.5 476.3,146.5 476.3,175.3 476.6,186.7 476.6,146.5 477.0,148.1 477.0,157.1 477.3,174.3 477.3,138.5 477.7,140.9 477.7,155.0 478.0,151.8 478.0,139.8 478.3,140.6 478.3,166.6 478.7,146.0 478.7,134.9 479.0,130.2 479.0,158.5 479.3,146.7 479.3,140.6 479.7,129.2 479.7,154.0 480.0,131.6 480.0,185.2 480.3,160.7 480.3,132.9 480.6,130.5 480.6,159.1 481.0,135.3 481.0,123.9 481.3,127.9 481.3,147.7 481.6,141.6 481.6,129.8 482.0,123.8 482.0,139.2 482.3,133.7 482.3,120.7 482.7,121.1 482.7,156.2 483.0,131.9 483.0,127.1 483.3,116.8 483.3,145.1 483.7,139.2 483.7,116.2 484.0,120.3 484.0,130.4 484.3,124.7 484.3,137.3 484.7,115.4 484.7,161.8 485.0,128.3 485.0,116.4 485.3,122.3 485.3,147.8 485.6,126.5 485.6,118.2 486.0,117.0 486.0,147.0 486.3,142.9 486.3,123.6 486.6,119.6 486.6,130.2 487.0,134.0 487.0,116.2 487.3,120.2 487.3,109.0 487.7,123.3 487.7,141.1 488.0,133.0 488.0,120.6 488.3,112.3 488.3,131.0 488.7,137.0 488.7,116.2 489.0,117.9 489.0,148.6 489.3,130.8 489.3,110.3 489.6,114.9 489.6,138.5 490.0,129.1 490.0,119.9 490.3,115.7 490.3,137.4 490.6,131.9 490.6,115.9 491.0,111.5 491.0,125.3 491.3,122.6 491.3,113.7 491.6,112.5 491.6,133.8 492.0,124.1 492.0,113.8 492.3,112.5 492.3,130.1 492.7,131.6 492.7,107.6 493.0,110.5 493.0,127.5 493.3,135.3 493.3,103.4 493.7,112.2 493.7,126.4 494.0,126.2 494.0,107.5 494.3,114.4 494.3,121.2 494.6,114.0 494.6,148.4 495.0,136.3 495.0,117.6 495.3,115.9 495.3,129.6 495.6,131.1 495.6,111.6 496.0,112.7 496.0,133.5 496.3,136.4 496.3,116.2 496.6,112.7 496.6,126.7 497.0,132.0 497.0,116.4 497.3,118.5 497.3,148.6 497.7,130.4 497.7,119.1 498.0,120.4 498.0,139.1 498.3,134.0 498.3,120.3 498.6,124.4 498.6,137.7 499.0,139.1 499.0,121.0 499.3,127.0 499.3,132.5 499.6,135.9 499.6,126.7 500.0,124.6 500.0,155.6 500.3,151.3 500.3,129.6 500.6,123.6 500.6,144.8 501.0,144.6 501.0,124.2 501.3,132.1 501.3,154.2 501.7,151.2 501.7,136.0 502.0,138.3 502.0,158.9 502.3,156.8 502.3,135.8 502.7,133.0 502.7,159.6 503.0,150.5 503.0,134.3 503.3,135.8 503.3,145.3 503.6,150.5 503.6,138.3 504.0,142.8 504.0,159.3 504.3,168.7 504.3,132.3 504.6,133.4 504.6,154.9 505.0,153.4 505.0,133.8 505.3,135.3 505.3,152.6 505.6,155.7 505.6,131.5 506.0,139.9 506.0,150.2 506.3,148.3 506.3,129.3 506.7,128.1 506.7,144.4 507.0,153.1 507.0,133.5 507.3,122.9 507.3,148.1 507.6,142.9 507.6,124.4 508.0,137.4 508.0,149.5 508.3,152.1 508.3,132.9 508.6,136.0 508.6,123.4 509.0,126.1 509.0,147.0 509.3,137.3 509.3,126.8 509.6,126.3 509.6,141.7 510.0,137.3 510.0,123.5 510.3,121.2 510.3,138.5 510.6,141.4 510.6,131.0 511.0,136.3 511.0,121.7 511.3,121.4 511.3,132.4 511.7,143.8 511.7,117.1 512.0,129.7 512.0,139.0 512.3,140.4 512.3,117.8 512.6,116.4 512.6,144.1 513.0,137.4 513.0,128.2 513.3,130.8 513.3,121.6 513.6,120.2 513.6,133.6 514.0,137.7 514.0,124.1 514.3,128.8 514.3,114.8 514.6,118.1 514.6,135.1 515.0,122.3 515.0,115.5 515.3,120.3 515.3,148.0 515.7,132.1 515.7,112.6 516.0,114.7 516.0,129.0 516.3,117.9 516.3,142.7 516.7,129.3 516.7,116.3 517.0,116.8 517.0,123.9 517.3,115.6 517.3,134.7 517.6,137.2 517.6,115.3 518.0,115.3 518.0,120.2 518.3,110.8 518.3,133.3 518.6,118.1 518.6,114.6 519.0,118.8 519.0,136.3 519.3,124.3 519.3,106.9 519.6,108.7 519.6,136.2 520.0,118.5 520.0,112.2 520.3,112.7 520.3,124.9 520.7,109.7 520.7,107.1 521.0,102.4 521.0,123.7 521.3,117.8 521.3,106.7 521.6,110.3 521.6,122.2 522.0,115.1 522.0,104.4 522.3,106.2 522.3,127.2 522.6,128.0 522.6,103.6 523.0,101.7 523.0,110.9 523.3,107.4 523.3,137.4 523.6,121.2 523.6,101.8 524.0,99.4 524.0,123.2 524.3,116.4 524.3,101.2 524.6,98.9 524.6,117.5 525.0,108.8 525.0,103.2 525.3,95.2 525.3,123.9 525.7,128.1 525.7,107.4 526.0,116.5 526.0,91.3 526.3,96.6 526.3,116.5 526.6,109.5 526.6,93.0 527.0,92.9 527.0,109.4 527.3,102.4 527.3,91.7 527.6,97.5 527.6,110.1 528.0,119.7 528.0,96.2 528.3,96.4 528.3,114.5 528.6,100.6 528.6,90.4 529.0,88.9 529.0,102.0 529.3,94.3 529.3,111.1 529.6,122.6 529.6,96.5 529.9,91.4 529.9,122.0 530.3,118.5 530.3,96.3 530.6,105.3 530.6,86.0 531.0,83.1 531.0,114.7 531.3,97.1 531.3,83.8 531.6,82.1 531.6,99.7 532.0,93.6 532.0,79.4 532.3,95.0 532.3,110.6 532.6,94.0 532.6,84.4 533.0,88.1 533.0,96.8 533.3,98.1 533.3,89.5 533.6,87.5 533.6,96.5 534.0,91.2 534.0,104.7 534.3,103.4 534.3,89.0 534.6,93.8 534.6,110.2 535.0,106.6 535.0,88.9 535.3,92.7 535.3,107.6 535.6,112.1 535.6,96.4 536.0,93.2 536.0,142.0 536.3,101.2 536.3,94.4 536.6,97.3 536.6,118.6 537.0,112.9 537.0,96.3 537.3,98.5 537.3,103.5 537.6,97.9 537.6,124.3 538.0,105.7 538.0,92.1 538.3,98.8 538.3,115.8 538.6,105.0 538.6,141.0 539.0,113.3 539.0,101.2 539.3,98.5 539.3,110.0 539.6,112.1 539.6,98.8 540.0,96.5 540.0,109.1 540.3,99.2 540.3,125.2 540.6,112.6 540.6,97.8 541.0,106.1 541.0,126.3 541.3,119.0 541.3,95.7 541.6,95.7 541.6,118.6 542.0,119.4 542.0,97.4 542.3,100.7 542.3,118.0 542.6,124.1 542.6,100.9 543.0,99.3 543.0,110.8 543.3,116.8 543.3,101.6 543.6,107.9 543.6,94.7 543.9,95.5 543.9,112.9 544.3,110.0 544.3,103.7 544.6,100.3 544.6,114.9 545.0,122.3 545.0,103.7 545.3,100.5 545.3,107.9 545.6,108.1 545.6,122.5 546.0,140.4 546.0,99.7 546.3,101.0 546.3,138.0 546.6,126.2 546.6,96.6 547.0,102.0 547.0,118.7 547.3,107.4 547.3,98.3 547.6,101.9 547.6,110.8 548.0,104.7 548.0,91.3 548.3,97.9 548.3,118.4 548.6,122.9 548.6,96.9 548.9,95.4 548.9,102.2 549.3,98.1 549.3,122.6 549.6,121.4 549.6,96.5 550.0,96.5 550.0,110.8 550.3,117.4 550.3,99.0 550.6,101.2 550.6,118.9 551.0,121.7 551.0,114.0 551.3,124.3 551.3,97.7 551.6,94.1 551.6,140.4 552.0,123.6 552.0,90.4 552.3,96.4 552.3,102.5 552.6,109.1 552.6,90.7 552.9,95.0 552.9,114.2 553.3,102.1 553.3,97.4 553.6,93.2 553.6,103.1 553.9,103.3 553.9,93.7 554.3,89.9 554.3,110.8 554.6,120.2 554.6,96.2 555.0,87.4 555.0,107.4 555.3,98.4 555.3,86.2 555.6,85.6 555.6,104.3 556.0,111.0 556.0,78.4 556.3,81.5 556.3,105.8 556.6,108.8 556.6,91.9 557.0,95.0 557.0,79.8 557.3,78.3 557.3,88.6 557.6,93.8 557.6,75.0 557.9,74.7 557.9,81.6 558.3,77.9 558.3,93.8 558.6,100.7 558.6,82.0 558.9,80.2 558.9,88.8 559.3,84.8 559.3,106.3 559.6,99.8 559.6,89.3 560.0,89.9 560.0,116.8 560.3,105.1 560.3,94.8 560.6,90.5 560.6,106.3 561.0,91.0 561.0,138.2 561.3,126.7 561.3,97.5 561.6,93.5 561.6,105.3 561.9,95.3 561.9,116.4 562.3,108.3 562.3,98.6 562.6,94.7 562.6,128.4 562.9,123.3 562.9,101.3 563.3,106.0 563.3,120.7 563.6,111.5 563.6,100.4 564.0,106.9 564.0,116.8 564.3,122.1 564.3,108.3 564.6,108.5 564.6,126.6 565.0,129.3 565.0,111.3 565.3,109.4 565.3,118.7 565.6,126.7 565.6,102.5 566.0,119.5 566.0,150.8 566.3,140.9 566.3,110.0 566.6,117.5 566.6,143.1 566.9,126.5 566.9,108.1 567.3,104.0 567.3,124.6 567.6,129.4 567.6,108.1 567.9,114.4 567.9,125.5 568.3,118.6 568.3,113.1 568.6,111.0 568.6,135.7 569.0,122.5 569.0,113.5 569.3,112.8 569.3,127.4 569.6,115.5 569.6,142.8 570.0,122.6 570.0,108.7 570.3,122.9 570.3,132.0 570.6,131.9 570.6,114.6 571.0,123.0 571.0,136.7 571.3,128.9 571.3,114.8 571.6,118.1 571.6,130.2 571.9,127.8 571.9,115.9 572.3,116.8 572.3,135.7 572.6,139.2 572.6,123.3 572.9,117.3 572.9,131.7 573.3,128.9 573.3,116.7 573.6,118.8 573.6,133.3 574.0,125.9 574.0,158.7 574.3,147.7 574.3,125.8 574.6,123.6 574.6,115.3 575.0,118.3 575.0,132.9 575.3,130.3 575.3,122.7 575.6,117.4 575.6,143.8 575.9,152.9 575.9,120.7 576.3,118.1 576.3,150.7 576.6,138.6 576.6,120.4 576.9,133.1 576.9,142.4 577.3,129.7 577.3,155.8 577.6,143.1 577.6,125.4 577.9,124.6 577.9,147.9 578.3,137.9 578.3,123.0 578.6,123.9 578.6,146.4 579.0,150.0 579.0,131.2 579.3,128.0 579.3,148.3 579.6,140.4 579.6,124.3 580.0,129.0 580.0,174.2 580.3,138.6 580.3,135.9 580.6,129.3 580.6,150.0 580.9,155.6 580.9,131.9 581.3,134.4 581.3,152.6 581.6,157.0 581.6,124.6 581.9,133.1 581.9,152.3 582.3,162.3 582.3,140.0 582.6,134.7 582.6,153.5 583.0,153.5 583.0,132.8 583.3,132.4 583.3,153.1 583.6,147.0 583.6,127.6 584.0,134.5 584.0,140.4 584.3,133.4 584.3,150.2 584.6,152.9 584.6,139.6 584.9,133.4 584.9,150.6 585.3,158.4 585.3,141.8 585.6,147.0 585.6,136.1 585.9,127.0 585.9,153.7 586.3,172.7 586.3,133.1 586.6,136.7 586.6,170.2 586.9,142.9 586.9,131.3 587.3,136.1 587.3,157.0 587.6,147.3 587.6,134.7 588.0,136.6 588.0,155.9 588.3,140.9 588.3,137.9 588.6,136.2 588.6,165.9 589.0,158.1 589.0,134.7 589.3,133.0 589.3,159.6 589.6,154.0 589.6,139.8 589.9,135.0 589.9,158.1 590.3,150.7 590.3,136.9 590.6,133.2 590.6,155.3 590.9,150.6 590.9,137.6 591.3,136.2 591.3,145.9 591.6,144.2 591.6,165.8 591.9,157.5 591.9,142.2 592.3,134.5 592.3,159.3 592.6,165.6 592.6,142.4 593.0,131.7 593.0,163.9 593.3,161.6 593.3,150.4 593.6,145.4 593.6,187.3 593.9,161.2 593.9,141.0 594.3,136.0 594.3,172.0 594.6,155.7 594.6,137.2 594.9,137.7 594.9,154.6 595.3,145.2 595.3,167.8 595.6,156.3 595.6,142.4 595.9,153.9 595.9,163.8 596.3,161.5 596.3,141.8 596.6,142.7 596.6,156.0 596.9,152.7 596.9,145.9 597.3,146.9 597.3,155.3 597.6,150.8 597.6,142.8 598.0,139.0 598.0,160.6 598.3,163.4 598.3,136.0 598.6,142.4 598.6,169.6 598.9,159.0 598.9,146.0 599.3,140.2 599.3,156.2 599.6,146.2 599.6,178.0 599.9,160.0 599.9,145.2 600.3,143.3 600.3,162.2 600.6,160.7 600.6,144.9 600.9,146.4 600.9,152.3 601.3,153.7 601.3,144.7 601.6,147.0 601.6,156.9 601.9,143.2 601.9,173.0 602.3,162.9 602.3,151.4 602.6,151.2 602.6,159.1 602.9,159.6 602.9,141.9 603.3,150.4 603.3,169.7 603.6,161.5 603.6,152.1 603.9,144.6 603.9,175.2 604.3,157.5 604.3,145.9 604.6,150.6 604.6,186.2 604.9,157.4 604.9,144.0 605.3,146.0 605.3,157.5 605.6,158.4 605.6,142.4 605.9,152.4 605.9,175.3 606.3,157.8 606.3,147.2 606.6,147.4 606.6,162.9 606.9,167.4 606.9,149.6 607.3,148.1 607.3,168.5 607.6,180.6 607.6,155.3 607.9,149.8 607.9,182.2 608.3,158.9 608.3,145.5 608.6,148.1 608.6,163.5 608.9,163.8 608.9,150.9 609.3,148.2 609.3,179.9 609.6,179.7 609.6,150.8 609.9,153.3 609.9,165.5 610.3,165.0 610.3,176.0 610.6,164.7 610.6,150.7 610.9,145.5 610.9,178.7 611.3,190.7 611.3,146.7 611.6,149.6 611.6,166.9 611.9,179.7 611.9,148.8 612.3,151.0 612.3,168.0 612.6,167.0 612.6,160.9 612.9,149.2 612.9,173.6 613.3,164.7 613.3,153.7 613.6,148.3 613.6,177.4 613.9,178.0 613.9,152.4 614.3,148.9 614.3,173.9 614.6,162.2 614.6,159.0 614.9,157.4 614.9,167.2 615.3,163.7 615.3,153.6 615.6,150.7 615.6,169.9 615.9,165.4 615.9,154.6 616.2,152.9 616.2,178.5 616.6,172.6 616.6,155.8 616.9,158.8 616.9,176.2 617.3,169.5 617.3,149.5 617.6,148.8 617.6,173.7 617.9,171.1 617.9,157.2 618.3,161.1 618.3,151.9 618.6,153.5 618.6,174.2 618.9,168.0 618.9,156.7 619.3,153.9 619.3,163.5 619.6,169.8 619.6,153.5 619.9,151.5 619.9,174.2 620.3,168.4 620.3,158.8 620.6,160.8 620.6,174.8 620.9,171.7 620.9,158.5 621.2,160.2 621.2,166.9 621.6,174.6 621.6,153.4 621.9,161.6 621.9,167.8 622.3,171.4 622.3,156.7 622.6,163.3 622.6,178.9 622.9,178.7 622.9,153.6 623.3,160.4 623.3,173.4 623.6,178.4 623.6,153.9 623.9,156.6 623.9,167.8 624.3,154.5 624.3,192.3 624.6,175.8 624.6,157.4 624.9,156.8 624.9,167.5 625.2,173.2 625.2,159.4 625.6,164.7 625.6,150.9 625.9,156.0 625.9,210.8 626.2,170.9 626.2,152.9 626.6,160.0 626.6,183.1 626.9,173.5 626.9,156.0 627.3,157.0 627.3,173.3 627.6,179.3 627.6,158.1 627.9,154.9 627.9,181.3 628.3,194.5 628.3,157.7 628.6,161.9 628.6,169.6 628.9,160.2 628.9,181.3 629.3,169.9 629.3,157.3 629.6,164.3 629.6,174.6 629.9,182.1 629.9,160.5 630.2,159.6 630.2,172.0 630.6,176.5 630.6,162.2 630.9,156.1 630.9,175.1 631.3,172.1 631.3,156.2 631.6,169.6 631.6,184.8 631.9,167.7 631.9,158.0 632.3,158.6 632.3,167.2 632.6,155.9 632.6,182.0 632.9,177.0 632.9,164.7 633.3,166.2 633.3,179.7 633.6,168.3 633.6,161.6 633.9,159.3 633.9,170.0 634.3,174.3 634.3,165.2 634.6,161.7 634.6,176.5 634.9,186.8 634.9,157.9 635.2,154.9 635.2,189.9 635.6,180.7 635.6,166.1 635.9,162.8 635.9,190.2 636.3,188.4 636.3,154.8 636.6,152.7 636.6,187.6 636.9,177.1 636.9,159.9 637.3,160.3 637.3,183.6 637.6,200.5 637.6,158.4 637.9,162.3 637.9,185.6 638.3,181.7 638.3,165.0 638.6,160.1 638.6,170.8 638.9,168.1 638.9,174.0 639.2,179.9 639.2,164.4 639.6,160.5 639.6,173.8 639.9,173.8 639.9,162.7 640.2,162.5 640.2,177.7 640.6,175.7 640.6,164.2 640.9,163.4 640.9,177.9 641.3,177.4 641.3,169.2 641.6,179.3 641.6,157.2 641.9,162.7 641.9,183.9 642.3,185.2 642.3,172.2 642.6,179.7 642.6,160.5 642.9,170.5 642.9,183.5 643.3,187.5 643.3,174.1 643.6,162.7 643.6,203.4 643.9,164.5 643.9,161.2 644.2,159.3 644.2,174.3 644.6,167.3 644.6,186.3 644.9,188.1 644.9,163.6 645.3,161.7 645.3,184.3 645.6,174.3 645.6,165.6 645.9,163.5 645.9,178.5 646.3,167.6 646.3,190.3 646.6,181.3 646.6,162.7 646.9,165.6 646.9,174.4 647.3,176.4 647.3,169.9 647.6,163.2 647.6,183.1 647.9,176.2 647.9,164.7 648.2,161.3 648.2,180.9 648.6,172.4 648.6,166.2 648.9,168.4 648.9,181.4 649.2,170.9 649.2,202.2 649.6,173.7 649.6,166.2 649.9,166.2 649.9,186.4 650.3,177.2 650.3,162.5 650.6,170.4 650.6,188.3 650.9,174.8 650.9,164.4 651.3,171.9 651.3,181.9 651.6,167.7 651.6,198.3 651.9,183.7 651.9,163.9 652.3,164.8 652.3,178.3 652.6,182.7 652.6,168.3 652.9,162.8 652.9,193.5 653.2,181.1 653.2,173.4 653.6,178.4 653.6,160.6 653.9,172.3 653.9,183.5 654.2,186.2 654.2,168.3 654.6,162.2 654.6,211.4 654.9,185.2 654.9,161.9 655.3,172.6 655.3,189.3 655.6,177.1 655.6,168.7 655.9,168.8 655.9,189.8 656.3,180.9 656.3,165.6 656.6,165.6 656.6,186.9 656.9,185.5 656.9,169.9 657.2,164.0 657.2,178.1 657.6,171.0 657.6,186.6 657.9,193.0 657.9,174.3 658.2,169.9 658.2,182.5 658.6,177.9 658.6,165.5 658.9,166.9 658.9,183.7 659.2,183.2 659.2,174.2 659.6,166.9 659.6,186.5 659.9,192.5 659.9,163.6 660.3,164.3 660.3,190.1 660.6,173.9 660.6,163.4 660.9,162.6 660.9,180.8 661.3,179.8 661.3,167.6 661.6,172.0 661.6,186.8 661.9,200.1 661.9,168.4 662.2,172.0 662.2,186.1 662.6,190.0 662.6,168.1 662.9,169.8 662.9,182.5 663.2,186.6 663.2,169.6 663.6,167.9 663.6,184.5 663.9,177.6 663.9,168.3 664.2,167.8 664.2,214.6 664.6,176.0 664.6,167.3 664.9,181.6 664.9,198.9 665.3,185.1 665.3,166.1 665.6,165.9 665.6,185.5 665.9,192.9 665.9,170.5 666.3,171.9 666.3,182.5 666.6,199.0 666.6,164.9 666.9,170.8 666.9,189.6 667.2,187.6 667.2,169.1 667.6,166.9 667.6,177.7 667.9,184.7 667.9,169.2 668.2,182.0 668.2,187.7 668.6,183.9 668.6,168.4 668.9,171.7 668.9,186.7 669.2,175.5 669.2,199.8 669.6,190.5 669.6,169.8 669.9,177.1 669.9,197.3 670.3,192.7 670.3,174.5 670.6,173.0 670.6,183.5 670.9,174.1 670.9,198.2 671.2,186.9 671.2,175.3 671.6,172.7 671.6,187.6 671.9,180.2 671.9,170.3 672.2,171.5 672.2,185.2 672.6,182.0 672.6,169.9 672.9,176.9 672.9,190.4 673.2,184.4 673.2,174.8 673.6,173.9 673.6,204.6 673.9,195.3 673.9,184.4 674.2,174.6 674.2,197.9 674.6,194.0 674.6,177.5 674.9,178.5 674.9,186.6 675.3,176.7 675.3,205.0 675.6,196.8 675.6,176.7 675.9,182.2 675.9,201.0 676.2,210.7 676.2,181.7 676.6,182.2 676.6,207.2 676.9,199.0 676.9,183.1 677.2,190.7 677.2,213.3 677.6,198.1 677.6,175.8 677.9,180.6 677.9,209.0 678.2,200.2 678.2,181.2 678.6,184.4 678.6,190.9 678.9,192.9 678.9,176.2 679.3,176.5 679.3,177.3 679.6,177.6 679.6,178.6 679.9,178.9 679.9,179.7 680.2,180.0 680.2,181.0 680.6,181.2 680.6,181.7 680.9,181.9 680.9,182.6 681.2,182.8 681.2,183.3 681.6,183.5 681.6,184.2 681.9,184.4 681.9,184.9 682.2,185.1 682.2,185.8 682.6,185.9 682.6,186.5 682.9,186.6 682.9,186.9 683.2,187.0 683.2,187.2 683.6,187.3 683.6,187.7 683.9,187.7 683.9,188.1 684.3,188.2 684.3,188.4 684.6,188.5 684.6,188.8 684.9,188.9 684.9,189.2 685.2,189.3 685.2,189.6 685.6,189.7 685.6,189.9 685.9,190.0 685.9,190.2 686.2,190.3 686.6,190.4 686.6,190.6 686.9,190.8 687.2,190.9 687.2,191.1 687.6,191.2 687.9,191.3 687.9,191.5 688.2,191.6 688.6,191.7 688.6,191.9 688.9,192.0 688.9,192.2 689.2,192.3 689.6,192.5 689.9,192.6 690.2,192.7 690.6,192.8 690.9,192.9 691.2,193.0 691.6,193.1 691.9,193.2 692.2,193.3 692.6,193.4 692.9,193.5 693.3,193.6" stroke="#000" stroke-width="1.25"/>
<path d="M448.7,291.5 448.7,281.5 449.2,278.7 449.2,273.3 449.7,270.4 449.7,264.6 450.3,263.0 450.3,260.3 450.8,258.9 450.8,256.1 451.3,254.8 451.3,252.1 451.7,250.8 451.7,248.5 452.2,247.8 452.2,246.3 452.7,245.6 452.7,244.3 453.3,243.5 453.3,242.1 453.8,241.4 453.8,240.0 454.2,239.3 454.2,237.9 454.7,237.2 454.7,235.9 M475.7,210.3 475.7,195.2 476.2,193.8 476.2,204.1 476.7,202.1 476.7,192.2 477.2,187.8 477.2,203.0 477.7,199.6 477.7,189.1 478.2,185.6 478.2,198.2 478.7,195.0 478.7,183.6 479.2,183.1 479.2,194.2 479.7,193.7 479.7,178.4 480.2,182.4 480.2,194.5 480.7,187.6 480.7,176.1 481.2,178.0 481.2,188.2 481.7,184.5 481.7,174.4 482.2,171.5 482.2,181.7 482.7,181.0 482.7,171.1 483.2,166.8 483.2,176.5 483.7,175.2 483.7,166.7 484.2,167.5 484.2,178.3 484.7,174.1 484.7,165.0 485.2,167.0 485.2,174.3 485.7,175.6 485.7,165.8 486.2,163.9 486.2,174.2 486.7,170.4 486.7,162.3 487.2,158.1 487.2,169.3 487.7,173.1 487.7,161.2 488.2,158.0 488.2,168.1 488.7,169.5 488.7,161.4 489.2,157.1 489.2,167.8 489.7,168.6 489.7,158.1 490.2,156.7 490.2,165.6 490.7,168.1 490.7,159.9 491.2,164.5 491.2,154.6 491.7,155.7 491.7,165.2 492.2,166.2 492.2,153.6 492.7,149.5 492.7,159.5 493.2,162.1 493.2,146.8 493.7,150.3 493.7,163.4 494.2,158.3 494.2,149.4 494.7,152.8 494.7,159.0 495.2,161.6 495.2,154.1 495.7,151.0 495.7,163.7 496.2,159.8 496.2,151.4 496.7,151.0 496.7,158.4 497.2,160.4 497.2,152.1 497.7,152.3 497.7,160.2 498.2,163.9 498.2,154.6 498.7,155.7 498.7,163.9 499.2,164.3 499.2,155.9 499.7,157.7 499.7,165.3 500.2,169.0 500.2,156.2 500.7,156.6 500.7,166.4 501.2,170.4 501.2,156.8 501.7,162.3 501.7,170.6 502.2,173.2 502.2,161.1 502.7,162.2 502.7,170.5 503.2,172.5 503.2,162.9 503.7,161.7 503.7,172.6 504.2,170.8 504.2,161.5 504.7,162.7 504.7,170.9 505.2,167.6 505.2,162.9 505.7,158.3 505.7,172.9 506.2,167.0 506.2,158.0 506.7,156.7 506.7,165.4 507.2,165.1 507.2,152.5 507.7,153.2 507.7,165.3 508.2,163.9 508.2,153.5 508.7,151.5 508.7,158.0 509.2,162.7 509.2,153.0 509.7,145.9 509.7,160.4 510.2,158.8 510.2,147.9 510.7,146.1 510.7,157.2 511.2,154.1 511.2,145.2 511.7,143.9 511.7,154.0 512.2,157.8 512.2,144.4 512.7,143.2 512.7,153.5 513.2,151.0 513.2,145.0 513.7,142.7 513.7,153.0 514.2,147.0 514.2,139.1 514.7,137.5 514.7,146.6 515.2,144.6 515.2,136.2 515.7,132.6 515.7,142.3 516.2,144.1 516.2,136.0 516.7,132.4 516.7,143.9 517.2,143.2 517.2,134.1 517.7,132.6 517.7,137.5 518.2,141.7 518.2,127.5 518.7,128.4 518.7,135.0 519.2,134.2 519.2,121.3 519.7,123.5 519.7,131.7 520.2,129.9 520.2,120.7 520.7,119.0 520.7,127.7 521.2,126.0 521.2,117.2 521.7,118.7 521.7,128.1 522.2,123.9 522.2,115.4 522.7,113.0 522.7,121.9 523.2,120.7 523.2,112.0 523.7,108.4 523.7,118.0 524.2,115.7 524.2,107.0 524.7,107.2 524.7,113.6 525.2,113.0 525.2,102.6 525.7,98.8 525.7,111.8 526.2,108.6 526.2,101.4 526.7,98.3 526.7,109.2 527.2,104.8 527.2,96.3 527.7,98.1 527.7,110.4 528.2,103.7 528.2,96.0 528.7,99.6 528.7,92.2 529.2,90.2 529.2,99.8 529.7,98.3 529.7,88.8 530.2,83.5 530.2,96.3 530.7,93.6 530.7,80.8 531.2,78.0 531.2,92.7 531.7,87.7 531.7,76.0 532.2,78.7 532.2,90.4 532.7,90.1 532.7,83.4 533.2,83.7 533.2,93.8 533.7,94.6 533.7,88.1 534.2,90.0 534.2,97.1 534.7,93.7 534.7,103.9 535.2,108.2 535.2,95.5 535.7,100.3 535.7,112.5 536.2,110.7 536.2,101.5 536.7,111.4 536.7,120.3 537.2,121.6 537.2,110.8 537.7,119.5 537.7,129.7 538.2,124.3 538.2,141.3 538.7,136.7 538.7,146.4 539.2,149.7 539.2,140.5 539.7,139.9 539.7,150.7 540.2,150.6 540.2,141.2 540.7,143.3 540.7,155.0 541.2,156.9 541.2,145.2 541.7,146.5 541.7,154.5 542.2,159.9 542.2,146.7 542.7,143.9 542.7,151.3 543.2,149.3 543.2,141.2 543.7,142.4 543.7,134.7 544.2,137.0 544.2,145.0 544.7,144.5 544.7,134.4 545.2,134.2 545.2,140.2 545.7,135.6 545.7,146.1 546.2,139.5 546.2,130.4 546.7,129.7 546.7,139.3 547.2,140.3 547.2,128.1 547.7,132.6 547.7,141.3 548.2,139.3 548.2,127.9 548.7,132.3 548.7,139.9 549.2,142.2 549.2,131.8 549.7,131.4 549.7,145.2 550.2,144.2 550.2,134.1 550.7,132.4 550.7,145.3 551.2,148.3 551.2,138.1 551.7,135.4 551.7,148.5 552.2,145.1 552.2,134.8 552.7,137.4 552.7,150.0 553.2,149.3 553.2,139.5 553.7,144.0 553.7,151.7 554.2,154.3 554.2,146.7 554.7,145.2 554.7,158.1 555.2,158.5 555.2,151.8 555.7,154.4 555.7,163.2 556.2,159.3 556.2,168.7 556.7,171.2 556.7,157.8 557.2,154.3 557.2,161.5 557.7,160.2 557.7,150.2 558.2,153.2 558.2,163.8 558.7,167.3 558.7,155.8 559.2,159.7 559.2,173.3 559.7,173.2 559.7,164.5 560.2,162.1 560.2,168.9 560.7,167.6 560.7,160.3 561.2,157.0 561.2,168.6 561.7,163.6 561.7,153.8 562.2,156.0 562.2,161.7 562.7,164.0 562.7,153.3 563.2,157.6 563.2,170.7 563.7,162.7 563.7,155.7 564.2,158.7 564.2,166.5 564.7,170.5 564.7,159.2 565.2,154.0 565.2,166.6 565.7,167.7 565.7,153.5 566.2,158.3 566.2,170.2 566.7,169.7 566.7,160.8 567.2,155.6 567.2,166.9 567.7,170.2 567.7,158.3 568.2,159.2 568.2,165.0 568.7,167.9 568.7,158.6 569.2,159.0 569.2,170.8 569.7,170.0 569.7,161.8 570.2,156.3 570.2,173.2 570.7,170.6 570.7,162.4 571.2,160.0 571.2,173.7 571.7,173.2 571.7,163.9 572.2,164.6 572.2,173.7 572.7,176.1 572.7,166.5 573.2,165.9 573.2,173.7 573.7,177.0 573.7,164.2 574.2,168.9 574.2,179.2 574.7,174.9 574.7,166.3 575.2,171.6 575.2,178.1 575.7,182.5 575.7,167.6 576.2,169.5 576.2,180.9 576.7,181.2 576.7,171.5 577.2,174.9 577.2,183.7 577.7,187.7 577.7,174.9 578.2,174.5 578.2,182.5 578.7,190.1 578.7,174.7 579.2,175.9 579.2,185.5 579.7,192.4 579.7,174.2 580.2,179.9 580.2,186.6 580.7,180.5 580.7,192.9 581.2,190.0 581.2,180.9 581.7,178.1 581.7,188.9 582.2,190.3 582.2,183.4 582.7,182.6 582.7,192.4 583.2,192.4 583.2,184.9 583.7,181.7 583.7,190.8 584.2,192.1 584.2,183.4 584.7,183.2 584.7,198.8 585.2,193.9 585.2,185.4 585.7,184.8 585.7,196.5 586.2,194.0 586.2,183.3 586.7,186.8 586.7,196.8 587.2,199.6 587.2,188.9 587.7,187.0 587.7,199.7 588.2,199.7 588.2,191.0 588.7,189.1 588.7,204.2 589.2,201.0 589.2,189.3 589.7,192.9 589.7,202.9 590.2,201.6 590.2,191.1 590.7,190.4 590.7,200.6 591.2,201.9 591.2,193.1 591.7,193.9 591.7,207.5 592.2,199.6 592.2,189.7 592.7,191.1 592.7,202.8 593.2,196.8 593.2,211.7 593.7,207.2 593.7,197.3 594.2,193.6 594.2,206.4 594.7,208.0 594.7,195.8 595.2,196.1 595.2,208.2 595.7,208.5 595.7,199.2 596.2,199.4 596.2,210.6 596.7,207.1 596.7,201.1 597.2,200.7 597.2,207.2 597.7,205.0 597.7,198.5 598.2,197.1 598.2,207.4 598.7,211.2 598.7,202.0 599.2,197.7 599.2,212.7 599.7,212.4 599.7,203.8 600.2,203.2 600.2,211.2 600.7,210.6 600.7,200.3 601.2,201.9 601.2,209.3 601.7,212.2 601.7,203.4 602.2,204.3 602.2,214.7 602.7,213.1 602.7,207.6 603.2,205.1 603.2,214.3 603.7,216.2 603.7,204.3 604.2,205.2 604.2,212.4 604.7,217.1 604.7,205.9 605.2,204.7 605.2,213.7 605.7,213.6 605.7,204.4 606.2,203.6 606.2,214.1 606.7,214.1 606.7,206.3 607.2,206.6 607.2,216.0 607.7,219.2 607.7,207.2 608.2,206.8 608.2,213.9 608.7,217.3 608.7,206.1 609.2,207.0 609.2,217.1 609.7,218.4 609.7,206.6 610.2,207.8 610.2,215.1 610.7,214.8 610.7,207.3 611.2,209.1 611.2,217.8 611.7,217.2 611.7,207.6 612.2,207.6 612.2,216.6 612.7,217.1 612.7,208.7 613.2,209.6 613.2,219.6 613.7,218.0 613.7,208.4 614.2,208.2 614.2,217.0 614.7,215.6 614.7,209.6 615.2,207.6 615.2,215.2 615.7,215.1 615.7,208.0 616.2,209.9 616.2,217.4 616.7,217.2 616.7,210.2 617.2,209.5 617.2,217.7 617.7,216.3 617.7,207.4 618.2,208.1 618.2,216.1 618.7,215.8 618.7,209.4 619.2,211.0 619.2,215.5 619.7,217.1 619.7,208.3 620.2,208.2 620.2,215.0 620.7,216.2 620.7,209.4 621.2,209.3 621.2,215.9 621.7,215.9 621.7,211.2 622.2,210.8 622.2,216.0 622.7,216.1 622.7,211.5 623.2,210.9 623.2,217.1 623.7,216.0 623.7,209.1 624.2,209.7 624.2,216.0 624.7,216.0 624.7,210.0 625.2,210.1 625.2,215.9 625.7,216.2 625.7,211.1 626.2,209.9 626.2,215.7 626.7,215.1 626.7,209.7 627.2,210.2 627.2,215.7 627.7,215.5 627.7,210.4 628.2,210.8 628.2,215.7 628.7,215.5 628.7,210.9 629.2,211.2 629.2,215.5 629.7,215.6 629.7,211.7 630.2,211.2 630.2,214.9 630.7,215.5 630.7,210.3 631.2,211.2 631.2,215.5 631.7,216.0 631.7,212.2 632.2,210.3 632.2,215.2 632.7,215.7 632.7,210.3 633.2,212.1 633.2,215.5 633.7,214.5 633.7,210.8 634.2,211.1 634.2,215.5 634.7,214.6 634.7,210.6 635.2,210.1 635.2,214.8 635.7,214.7 635.7,210.5 636.2,211.6 636.2,215.2 636.7,214.6 636.7,211.1 637.2,210.6 637.2,215.1 637.7,214.6 637.7,210.7 638.2,211.1 638.2,214.6 638.7,214.5 638.7,211.4 639.2,210.9 639.2,214.3 639.7,214.3 639.7,211.0 640.2,211.8 640.2,214.6 640.7,214.2 640.7,211.3 641.2,212.3 641.2,214.5 641.7,214.0 641.7,210.6 642.2,212.0 642.2,214.4 642.7,214.3 642.7,212.4 643.2,212.5 643.2,214.3 643.7,214.4 643.7,211.6 644.2,211.7 644.2,213.9 644.7,214.0 644.7,211.9 645.2,211.6 645.2,214.5 645.7,214.3 645.7,211.8 646.2,211.6 646.2,213.8 646.7,214.2 646.7,212.3 647.2,212.1 647.2,214.4 647.7,214.4 647.7,211.0 648.2,211.8 648.2,213.5 648.7,214.2 648.7,211.5 649.2,211.9 649.2,214.2 649.7,214.2 649.7,212.0 650.2,212.2 650.2,214.2 650.7,214.6 650.7,211.9 651.2,211.4 651.2,214.0 651.7,214.3 651.7,212.1 652.2,212.1 652.2,214.1 652.7,213.7 652.7,212.4 653.2,211.8 653.2,213.8 653.7,213.9 653.7,211.6 654.2,212.5 654.2,214.1 654.7,214.2 654.7,212.1 655.2,212.3 655.2,214.4 655.7,214.1 655.7,212.2 656.2,212.7 656.2,214.1 656.7,214.2 656.7,212.7 657.2,211.9 657.2,214.1 657.7,214.0 657.7,212.5 658.2,212.6 658.2,214.1 658.7,214.2 658.7,212.1 659.2,212.3 659.2,213.8 659.7,214.0 659.7,212.4 660.2,212.0 660.2,213.5 660.7,213.8 660.7,212.4 661.2,212.2 661.2,214.2 661.7,213.9 661.7,212.4 662.2,212.4 662.2,214.1 662.7,213.9 662.7,212.7 663.2,212.2 663.2,214.1 663.7,214.1 663.7,212.1 664.2,212.5 664.2,213.9 664.7,213.7 664.7,212.4 665.2,212.6 665.2,213.9 665.7,213.8 665.7,212.3 666.2,212.7 666.2,213.8 666.7,213.9 666.7,212.3 667.2,212.9 667.2,214.2 667.7,214.0 667.7,213.0 668.2,212.7 668.2,213.9 668.7,213.8 668.7,212.6 669.2,213.0 669.2,213.8 669.7,213.9 669.7,212.7 670.2,212.7 670.2,214.0 670.7,213.8 670.7,212.8 671.2,212.9 671.2,214.0 671.7,214.0 671.7,213.0 672.2,212.8 672.2,213.5 672.7,213.9 672.7,212.8" stroke="#ff0000" stroke-width="0.80"/>
<path d="M448.7,296.0 448.7,286.3 449.0,285.5 449.0,278.6 449.3,278.2 449.3,273.3 449.7,272.8 449.7,267.5 450.0,267.1 450.0,262.9 450.3,262.7 450.3,260.3 450.7,260.1 450.7,257.5 451.0,257.3 451.0,254.9 451.3,254.7 451.3,252.1 451.7,251.9 451.7,249.3 452.0,249.1 452.0,247.8 452.3,247.7 452.3,246.3 452.7,246.2 452.7,245.0 453.0,244.9 453.0,243.5 453.3,243.4 453.3,242.1 453.7,242.0 453.7,240.7 454.0,240.6 454.0,239.3 454.3,239.2 454.3,237.9 454.7,237.8 454.7,236.5 455.0,236.4 455.0,235.6 455.3,235.6 455.3,235.1 455.7,235.1 455.7,234.5 456.0,234.5 456.0,234.0 456.3,234.0 456.3,233.5 456.7,233.4 456.7,232.9 457.0,232.9 457.0,232.4 457.3,232.3 457.3,231.8 457.7,231.8 457.7,231.3 458.0,231.3 458.0,230.7 458.3,230.7 458.3,230.2 458.7,230.1 458.7,229.7 459.0,229.6 459.0,229.1 459.3,229.1 459.3,228.7 459.7,228.7 459.7,228.4 460.0,228.4 460.0,228.1 460.3,228.1 460.3,227.8 460.7,227.7 460.7,227.4 461.0,227.4 461.0,227.1 461.3,227.1 461.3,226.8 461.7,226.8 461.7,226.4 462.0,226.4 462.0,226.1 462.3,226.1 462.3,225.8 462.7,225.8 462.7,225.5 463.0,225.5 463.0,225.1 463.3,225.1 463.3,224.8 463.7,224.8 463.7,224.5 464.0,224.5 464.0,224.2 464.3,224.2 464.3,224.0 464.7,223.9 464.7,223.7 465.0,223.7 465.0,223.4 465.3,223.4 465.3,223.1 465.7,223.1 465.7,222.9 466.0,222.8 466.0,222.6 466.3,222.6 466.3,222.3 466.7,222.3 466.7,222.0 467.0,222.0 467.0,221.8 467.3,221.8 467.3,221.5 467.7,221.5 467.7,221.2 468.0,221.2 468.0,221.0 468.3,220.9 468.3,220.7 468.7,220.7 468.7,220.4 469.0,220.4 469.0,220.1 469.3,220.1 469.3,219.9 469.7,219.8 469.7,219.6 470.0,219.6 470.0,219.3 470.3,219.3 470.3,219.1 470.7,219.1 470.7,218.9 471.0,218.9 471.0,218.6 471.3,218.6 471.3,218.4 471.7,218.4 471.7,218.2 472.0,218.1 472.0,217.9 472.3,217.9 472.3,217.7 472.7,217.7 472.7,217.5 473.0,217.4 473.0,217.2 473.3,217.2 473.3,217.0 473.7,217.0 473.7,216.8 474.0,216.7 474.0,216.5 474.3,216.5 474.3,216.3 474.7,216.3 474.7,216.1 475.0,216.0 475.0,215.8 475.3,215.8 475.3,215.6 475.6,215.6 475.6,199.1 476.0,193.8 476.0,210.3 476.3,218.2 476.3,197.5 476.7,192.2 476.7,227.4 477.0,212.7 477.0,196.3 477.3,187.8 477.3,216.2 477.7,207.4 477.7,191.0 478.0,186.0 478.0,199.6 478.3,209.0 478.3,185.6 478.7,186.8 478.7,198.3 479.0,206.4 479.0,183.1 479.3,183.1 479.3,208.0 479.7,198.4 479.7,180.1 480.0,178.4 480.0,221.9 480.3,202.4 480.3,182.9 480.6,176.4 480.6,200.6 481.0,189.7 481.0,176.1 481.3,178.1 481.3,196.9 481.7,214.9 481.7,177.8 482.0,174.4 482.0,200.1 482.3,186.7 482.3,171.5 482.7,171.1 482.7,195.4 483.0,187.4 483.0,175.0 483.3,166.8 483.3,187.1 483.7,182.3 483.7,166.7 484.0,168.6 484.0,178.3 484.3,167.5 484.3,192.0 484.7,197.5 484.7,165.0 485.0,165.3 485.0,192.2 485.3,186.4 485.3,167.0 485.7,165.8 485.7,191.1 486.0,185.1 486.0,163.9 486.3,164.1 486.3,182.2 486.6,175.4 486.6,162.3 487.0,163.0 487.0,191.8 487.3,169.9 487.3,158.1 487.7,165.1 487.7,179.6 488.0,177.8 488.0,161.2 488.3,158.0 488.3,178.6 488.7,177.1 488.7,161.8 489.0,158.9 489.0,183.7 489.3,177.8 489.3,157.1 489.6,158.1 489.6,199.6 490.0,179.3 490.0,160.9 490.3,156.7 490.3,176.8 490.7,171.5 490.7,159.9 491.0,155.3 491.0,171.6 491.3,177.0 491.3,154.6 491.6,155.7 491.6,170.8 492.0,167.9 492.0,155.8 492.3,153.6 492.3,170.0 492.6,173.6 492.6,149.5 493.0,152.5 493.0,163.8 493.3,177.5 493.3,146.8 493.7,150.3 493.7,173.2 494.0,165.6 494.0,149.4 494.3,154.0 494.3,165.5 494.6,177.1 494.6,152.8 495.0,153.0 495.0,168.4 495.3,164.6 495.3,154.1 495.6,151.0 495.6,166.7 496.0,176.1 496.0,151.4 496.3,151.7 496.3,167.3 496.6,167.4 496.6,151.0 497.0,151.1 497.0,164.6 497.3,174.8 497.3,152.1 497.6,152.3 497.6,165.2 498.0,168.2 498.0,155.1 498.3,154.6 498.3,168.9 498.6,171.1 498.6,158.1 499.0,155.7 499.0,171.4 499.3,173.2 499.3,155.9 499.7,158.8 499.7,169.9 500.0,178.8 500.0,157.7 500.3,156.2 500.3,175.6 500.6,171.1 500.6,156.6 501.0,156.8 501.0,176.4 501.3,177.1 501.3,162.0 501.6,162.3 501.6,184.6 502.0,180.1 502.0,161.1 502.3,164.4 502.3,196.6 502.6,180.6 502.6,162.4 503.0,162.2 503.0,176.8 503.3,178.6 503.3,163.6 503.6,161.7 503.6,179.1 504.0,180.4 504.0,163.4 504.3,161.5 504.3,186.9 504.6,185.2 504.6,162.7 505.0,162.9 505.0,178.4 505.3,175.2 505.3,162.9 505.6,158.3 505.6,184.6 506.0,182.3 506.0,159.6 506.3,158.0 506.3,175.9 506.6,173.0 506.6,156.7 507.0,159.5 507.0,173.6 507.3,152.5 507.3,199.4 507.6,168.1 507.6,153.2 508.0,154.4 508.0,169.8 508.3,171.5 508.3,153.5 508.6,151.5 508.6,160.2 509.0,167.2 509.0,153.1 509.3,153.0 509.3,195.1 509.6,168.1 509.6,145.9 510.0,149.4 510.0,169.9 510.3,172.4 510.3,147.9 510.6,152.7 510.6,162.1 511.0,158.3 511.0,145.7 511.3,145.2 511.3,156.2 511.6,162.6 511.6,143.9 512.0,148.6 512.0,163.4 512.3,162.7 512.3,144.4 512.6,143.2 512.6,161.9 513.0,160.9 513.0,145.7 513.3,145.0 513.3,152.6 513.6,142.7 513.6,167.0 514.0,163.7 514.0,139.1 514.3,139.3 514.3,155.4 514.6,152.3 514.6,137.5 515.0,138.5 515.0,157.1 515.3,160.0 515.3,136.2 515.6,135.1 515.6,162.7 516.0,147.5 516.0,132.6 516.3,136.0 516.3,160.1 516.6,157.8 516.6,132.4 517.0,135.0 517.0,152.5 517.3,147.2 517.3,134.1 517.6,133.4 517.6,148.2 518.0,152.7 518.0,132.5 518.3,127.5 518.3,147.9 518.6,144.1 518.6,128.4 519.0,128.8 519.0,145.6 519.3,137.3 519.3,121.3 519.6,124.8 519.6,143.9 520.0,133.9 520.0,122.7 520.3,120.7 520.3,134.4 520.6,132.2 520.6,119.0 521.0,117.5 521.0,143.5 521.3,128.4 521.3,117.2 521.6,118.9 521.6,133.8 522.0,130.2 522.0,116.5 522.3,115.4 522.3,132.3 522.6,131.7 522.6,113.2 523.0,112.0 523.0,129.1 523.3,136.4 523.3,114.8 523.6,108.4 523.6,130.8 524.0,127.6 524.0,109.0 524.3,107.0 524.3,119.7 524.6,119.8 524.6,107.2 525.0,106.4 525.0,137.3 525.3,122.6 525.3,102.6 525.6,104.1 525.6,124.6 526.0,115.7 526.0,98.8 526.3,101.4 526.3,115.4 526.6,116.8 526.6,98.3 527.0,97.5 527.0,113.8 527.3,117.9 527.3,96.3 527.6,98.1 527.6,112.1 528.0,115.2 528.0,96.0 528.3,97.1 528.3,109.4 528.6,105.5 528.6,92.2 529.0,90.2 529.0,119.4 529.3,118.9 529.3,90.5 529.6,88.9 529.6,112.3 530.0,111.3 530.0,88.8 530.3,83.5 530.3,108.4 530.6,106.7 530.6,80.8 531.0,83.0 531.0,143.2 531.3,94.2 531.3,78.0 531.6,76.0 531.6,98.1 532.0,99.2 532.0,78.7 532.3,81.9 532.3,129.1 532.6,93.0 532.6,83.4 533.0,83.7 533.0,96.7 533.3,87.7 533.3,109.8 533.6,100.7 533.6,88.1 534.0,88.7 534.0,109.3 534.3,110.1 534.3,90.6 534.6,94.8 534.6,110.7 535.0,117.6 535.0,93.7 535.3,97.7 535.3,123.7 535.6,114.1 535.6,100.3 536.0,101.4 536.0,140.9 536.3,119.6 536.3,104.3 536.6,111.4 536.6,125.3 537.0,128.8 537.0,112.0 537.3,110.8 537.3,127.0 537.6,119.5 537.6,142.1 538.0,140.8 538.0,123.1 538.3,130.0 538.3,153.2 538.6,169.1 538.6,136.7 539.0,136.7 539.0,156.1 539.3,165.4 539.3,140.5 539.6,139.9 539.6,166.5 540.0,157.1 540.0,140.6 540.3,143.3 540.3,167.3 540.6,155.5 540.6,143.3 541.0,149.3 541.0,165.9 541.3,161.6 541.3,145.2 541.6,146.5 541.6,162.2 542.0,165.7 542.0,149.0 542.3,146.7 542.3,170.2 542.6,163.4 542.6,144.5 543.0,141.9 543.0,153.4 543.3,141.2 543.3,166.8 543.6,144.7 543.6,134.7 544.0,135.4 544.0,156.3 544.3,152.5 544.3,137.0 544.6,136.1 544.6,153.7 545.0,150.5 545.0,134.4 545.3,134.2 545.3,150.7 545.6,151.7 545.6,135.6 546.0,133.6 546.0,161.6 546.3,168.3 546.3,130.4 546.6,129.7 546.6,151.4 547.0,146.3 547.0,130.9 547.3,128.1 547.3,151.3 547.6,155.0 547.6,132.6 548.0,127.9 548.0,145.8 548.3,149.7 548.3,132.5 548.6,132.3 548.6,153.1 549.0,155.2 549.0,131.8 549.3,133.3 549.3,150.6 549.6,154.9 549.6,131.9 550.0,131.4 550.0,149.6 550.3,161.4 550.3,136.4 550.6,132.4 550.6,150.5 551.0,156.6 551.0,138.4 551.3,138.1 551.3,156.1 551.6,170.6 551.6,135.4 552.0,135.5 552.0,157.7 552.3,158.4 552.3,134.8 552.6,137.4 552.6,152.8 553.0,157.3 553.0,139.5 553.3,145.4 553.3,167.0 553.6,157.6 553.6,144.0 554.0,146.5 554.0,160.6 554.3,164.6 554.3,146.7 554.6,145.2 554.6,169.7 555.0,163.4 555.0,151.8 555.3,153.2 555.3,161.5 555.6,154.4 555.6,174.3 556.0,179.4 556.0,154.4 556.3,159.3 556.3,187.2 556.6,179.3 556.6,157.8 557.0,154.3 557.0,174.4 557.3,178.2 557.3,154.8 557.6,150.2 557.6,165.5 558.0,174.3 558.0,152.6 558.3,153.3 558.3,166.6 558.6,155.8 558.6,177.4 558.9,175.6 558.9,159.7 559.3,162.2 559.3,180.0 559.6,193.4 559.6,164.5 560.0,162.1 560.0,184.2 560.3,174.5 560.3,163.3 560.6,160.3 560.6,176.4 561.0,191.3 561.0,157.0 561.3,159.5 561.3,181.0 561.6,176.5 561.6,155.6 561.9,153.8 561.9,181.2 562.3,165.1 562.3,156.0 562.6,153.3 562.6,177.1 563.0,177.6 563.0,155.1 563.3,157.6 563.3,174.7 563.6,174.2 563.6,155.7 564.0,155.8 564.0,168.8 564.3,158.7 564.3,191.5 564.6,174.0 564.6,159.2 564.9,161.7 564.9,182.1 565.3,169.3 565.3,154.0 565.6,153.5 565.6,172.0 566.0,164.0 566.0,188.3 566.3,181.1 566.3,158.3 566.6,160.8 566.6,182.5 567.0,185.2 567.0,158.4 567.3,155.6 567.3,175.4 567.6,186.3 567.6,158.3 567.9,159.4 567.9,173.5 568.3,178.7 568.3,159.2 568.6,158.6 568.6,179.1 569.0,180.0 569.0,159.8 569.3,159.0 569.3,182.7 569.6,182.3 569.6,162.2 569.9,156.3 569.9,173.2 570.3,180.8 570.3,163.2 570.6,162.4 570.6,179.4 571.0,178.7 571.0,166.9 571.3,160.0 571.3,194.7 571.6,189.9 571.6,163.9 572.0,164.7 572.0,182.5 572.3,182.1 572.3,164.6 572.6,166.5 572.6,187.7 572.9,177.5 572.9,165.9 573.3,166.3 573.3,192.5 573.6,183.2 573.6,164.2 574.0,168.6 574.0,195.5 574.3,188.3 574.3,168.9 574.6,166.3 574.6,182.7 574.9,187.9 574.9,168.6 575.3,171.6 575.3,193.5 575.6,186.6 575.6,167.6 575.9,171.2 575.9,193.2 576.3,192.0 576.3,169.5 576.6,171.5 576.6,187.2 577.0,188.8 577.0,176.0 577.3,174.9 577.3,196.4 577.6,193.9 577.6,175.6 577.9,174.9 577.9,192.8 578.3,190.1 578.3,174.5 578.6,174.7 578.6,195.1 578.9,179.9 578.9,230.7 579.3,192.7 579.3,175.9 579.6,174.2 579.6,203.5 580.0,214.0 580.0,180.0 580.3,179.9 580.3,200.0 580.6,213.5 580.6,180.5 580.9,181.3 580.9,198.8 581.3,204.1 581.3,180.9 581.6,178.1 581.6,200.2 581.9,201.2 581.9,183.4 582.3,185.5 582.3,204.3 582.6,204.4 582.6,183.7 583.0,182.6 583.0,199.0 583.3,199.1 583.3,184.9 583.6,181.7 583.6,195.2 583.9,186.1 583.9,206.1 584.3,202.8 584.3,183.4 584.6,183.2 584.6,208.5 584.9,212.0 584.9,186.8 585.3,185.4 585.3,204.1 585.6,199.2 585.6,184.8 585.9,183.3 585.9,204.4 586.3,214.7 586.3,185.4 586.6,189.0 586.6,212.8 586.9,207.9 586.9,186.8 587.3,190.2 587.3,216.7 587.6,203.7 587.6,187.0 587.9,189.4 587.9,207.4 588.3,206.9 588.3,191.5 588.6,191.2 588.6,211.7 588.9,208.3 588.9,189.1 589.3,189.3 589.3,208.0 589.6,212.0 589.6,194.5 589.9,191.1 589.9,207.5 590.3,210.3 590.3,192.7 590.6,190.4 590.6,211.1 590.9,206.5 590.9,193.3 591.3,193.1 591.3,205.2 591.6,213.7 591.6,196.1 591.9,193.9 591.9,219.3 592.3,209.4 592.3,189.7 592.6,197.8 592.6,213.9 592.9,212.4 592.9,191.1 593.3,204.1 593.3,229.4 593.6,231.8 593.6,200.7 593.9,197.3 593.9,218.0 594.3,220.7 594.3,193.6 594.6,195.8 594.6,217.1 594.9,223.2 594.9,196.1 595.3,201.0 595.3,217.6 595.6,212.6 595.6,199.2 595.9,202.2 595.9,220.1 596.3,212.0 596.3,199.4 596.6,201.1 596.6,218.9 596.9,213.4 596.9,201.7 597.3,200.7 597.3,218.0 597.6,220.0 597.6,198.5 597.9,199.2 597.9,214.4 598.3,227.3 598.3,197.1 598.6,202.0 598.6,218.3 598.9,219.7 598.9,202.7 599.3,197.7 599.3,216.5 599.6,225.7 599.6,203.8 599.9,203.2 599.9,214.5 600.3,225.2 600.3,203.3 600.6,200.3 600.6,215.6 600.9,222.0 600.9,203.7 601.3,201.9 601.3,213.1 601.6,216.0 601.6,203.4 601.9,204.3 601.9,223.2 602.3,218.7 602.3,206.7 602.6,208.3 602.6,222.3 602.9,219.5 602.9,205.1 603.3,207.7 603.3,223.2 603.6,220.3 603.6,204.3 603.9,205.2 603.9,223.6 604.3,220.8 604.3,206.1 604.6,208.9 604.6,222.6 604.9,222.9 604.9,205.9 605.3,204.7 605.3,221.2 605.6,219.4 605.6,204.4 605.9,203.6 605.9,222.0 606.3,223.4 606.3,207.4 606.6,206.3 606.6,214.6 606.9,220.1 606.9,207.3 607.3,206.6 607.3,220.8 607.6,219.7 607.6,207.2 607.9,207.5 607.9,224.3 608.3,218.7 608.3,206.8 608.6,206.1 608.6,223.6 608.9,221.2 608.9,207.8 609.3,207.0 609.3,221.2 609.6,223.4 609.6,206.6 609.9,207.8 609.9,219.5 610.3,220.8 610.3,212.3 610.6,207.3 610.6,218.1 610.9,222.7 610.9,207.9 611.3,209.1 611.3,222.0 611.6,218.3 611.6,209.5 611.9,207.6 611.9,222.1 612.3,218.7 612.3,207.6 612.6,208.7 612.6,220.8 612.9,221.7 612.9,212.3 613.3,209.6 613.3,221.0 613.6,219.0 613.6,208.4 613.9,211.1 613.9,221.2 614.3,218.4 614.3,208.2 614.6,209.6 614.6,220.8 614.9,219.7 614.9,209.4 615.3,207.6 615.3,220.6 615.6,218.8 615.6,208.0 615.9,209.1 615.9,219.3 616.3,219.6 616.3,209.9 616.6,210.2 616.6,219.7 616.9,219.3 616.9,212.6 617.3,209.5 617.3,219.4 617.6,219.1 617.6,207.4 617.9,208.1 617.9,219.1 618.3,217.5 618.3,208.2 618.6,209.4 618.6,218.7 618.9,218.6 618.9,209.6 619.3,211.0 619.3,218.4 619.6,217.9 619.6,208.3 619.9,208.2 619.9,217.7 620.3,216.6 620.3,209.6 620.6,209.4 620.6,217.5 620.9,217.7 620.9,211.2 621.3,209.3 621.3,217.9 621.6,217.6 621.6,211.2 621.9,211.8 621.9,217.6 622.3,217.7 622.3,210.8 622.6,211.5 622.6,217.0 622.9,217.5 622.9,210.9 623.3,211.4 623.3,217.7 623.6,217.2 623.6,210.7 623.9,209.1 623.9,217.6 624.3,217.6 624.3,209.7 624.6,210.0 624.6,217.5 624.9,217.5 624.9,210.1 625.3,210.7 625.3,216.8 625.6,217.4 625.6,211.1 625.9,211.3 625.9,217.3 626.3,217.3 626.3,209.9 626.6,211.3 626.6,217.2 626.9,217.3 626.9,209.7 627.3,210.2 627.3,217.2 627.6,217.2 627.6,210.4 627.9,210.6 627.9,216.4 628.3,217.1 628.3,210.8 628.6,211.6 628.6,217.0 628.9,216.6 628.9,210.9 629.3,211.2 629.3,216.8 629.6,216.7 629.6,211.7 629.9,212.2 629.9,216.2 630.3,216.3 630.3,211.2 630.6,210.3 630.6,216.7 630.9,216.4 630.9,211.2 631.3,211.2 631.3,216.7 631.6,216.5 631.6,212.6 631.9,212.1 631.9,216.5 632.3,216.5 632.3,210.3 632.6,210.3 632.6,216.3 632.9,216.3 632.9,212.1 633.3,212.5 633.3,216.1 633.6,216.1 633.6,210.8 633.9,211.4 633.9,216.3 634.3,216.3 634.3,211.1 634.6,211.1 634.6,216.3 634.9,215.9 634.9,210.1 635.3,211.0 635.3,216.0 635.6,215.6 635.6,210.5 635.9,211.6 635.9,216.2 636.3,215.9 636.3,211.7 636.6,211.9 636.6,215.7 636.9,215.5 636.9,210.8 637.3,210.6 637.3,215.7 637.6,215.7 637.6,210.7 637.9,211.5 637.9,215.9 638.3,215.7 638.3,211.1 638.6,211.4 638.6,215.6 638.9,215.5 638.9,212.0 639.3,210.9 639.3,215.6 639.6,215.5 639.6,211.0 639.9,211.3 639.9,215.5 640.3,215.5 640.3,211.8 640.6,211.3 640.6,215.4 640.9,215.5 640.9,211.8 641.3,212.3 641.3,215.0 641.6,215.5 641.6,210.6 641.9,212.2 641.9,215.4 642.2,215.5 642.2,212.0 642.6,212.7 642.6,215.3 642.9,215.1 642.9,212.4 643.3,212.5 643.3,214.9 643.6,215.4 643.6,212.2 643.9,211.6 643.9,215.4 644.3,215.5 644.3,211.7 644.6,211.9 644.6,215.2 644.9,215.0 644.9,211.6 645.3,211.8 645.3,215.3 645.6,214.9 645.6,211.8 645.9,211.6 645.9,215.1 646.3,215.1 646.3,212.0 646.6,212.3 646.6,215.2 646.9,215.2 646.9,212.1 647.3,212.6 647.3,215.0 647.6,215.1 647.6,211.0 647.9,212.0 647.9,215.4 648.2,214.8 648.2,211.8 648.6,211.5 648.6,215.2 648.9,214.3 648.9,211.9 649.3,212.2 649.3,214.6 649.6,215.2 649.6,212.3 649.9,212.0 649.9,214.9 650.3,214.4 650.3,212.2 650.6,212.1 650.6,214.7 650.9,215.1 650.9,211.4 651.2,212.2 651.2,214.8 651.6,214.9 651.6,212.2 651.9,212.1 651.9,214.8 652.3,215.1 652.3,212.1 652.6,212.4 652.6,214.6 652.9,214.7 652.9,211.8 653.2,212.5 653.2,214.7 653.6,214.8 653.6,211.6 653.9,212.5 653.9,214.6 654.2,214.7 654.2,212.6 654.6,212.5 654.6,215.1 654.9,214.8 654.9,212.1 655.3,212.7 655.3,214.6 655.6,214.7 655.6,212.7 655.9,212.2 655.9,214.6 656.2,214.9 656.2,212.7 656.6,212.7 656.6,214.7 656.9,214.7 656.9,211.9 657.2,212.0 657.2,214.6 657.6,214.8 657.6,212.5 657.9,212.6 657.9,214.7 658.2,214.7 658.2,212.9 658.6,212.1 658.6,214.7 658.9,214.5 658.9,212.3 659.2,212.7 659.2,214.5 659.6,214.6 659.6,212.4 659.9,212.1 659.9,214.3 660.2,214.6 660.2,212.0 660.6,212.4 660.6,214.6 660.9,214.7 660.9,212.2 661.3,212.2 661.3,214.5 661.6,214.6 661.6,212.4 661.9,212.4 661.9,214.4 662.2,214.8 662.2,212.6 662.6,212.8 662.6,214.7 662.9,214.3 662.9,212.2 663.2,212.5 663.2,214.6 663.6,214.5 663.6,212.4 663.9,212.1 663.9,214.6 664.2,214.4 664.2,212.5 664.6,212.4 664.6,214.6 664.9,214.2 664.9,212.8 665.2,212.6 665.2,214.8 665.6,214.4 665.6,212.3 665.9,212.8 665.9,214.5 666.3,214.6 666.3,212.7 666.6,213.1 666.6,214.7 666.9,214.3 666.9,212.3 667.2,212.9 667.2,214.6 667.6,214.5 667.6,213.0 667.9,212.7 667.9,214.6 668.2,214.4 668.2,212.9 668.6,212.6 668.6,214.3 668.9,214.3 668.9,212.6 669.2,213.2 669.2,214.5 669.6,214.3 669.6,212.7 669.9,212.7 669.9,214.4 670.2,214.3 670.2,213.0 670.6,213.1 670.6,214.3 670.9,214.0 670.9,212.8 671.2,213.1 671.2,214.3 671.6,214.4 671.6,213.3 671.9,212.8 671.9,214.3 672.2,214.1 672.2,212.9 672.6,212.8 672.6,214.2 672.9,214.1 672.9,212.9 673.2,213.2 673.2,214.2 673.6,214.2 673.6,213.1 673.9,213.2 673.9,214.1 674.2,214.1 674.2,213.3 674.6,213.1 674.6,214.0 674.9,214.0 674.9,213.1 675.2,213.3 675.2,214.0 675.6,213.9 675.6,213.2 675.9,213.2 675.9,214.0 676.2,214.0 676.2,213.3 676.6,213.3 676.6,213.9 676.9,214.0 676.9,213.2 677.2,213.4 677.2,214.0 677.6,213.9 677.6,213.2 677.9,213.2 677.9,213.9 678.2,214.0 678.2,213.2 678.6,213.2 678.6,214.0 678.9,214.0 678.9,213.3 679.2,213.6 679.6,213.6 679.9,213.6 680.2,213.6 680.6,213.6 680.9,213.6 681.2,213.6 681.6,213.6 681.9,213.6 682.2,213.6 682.6,213.6 682.9,213.6 683.2,213.6 683.6,213.6 683.9,213.6 684.2,213.6 684.6,213.6 684.9,213.6 685.2,213.6 685.6,213.6 685.9,213.6 686.2,213.6 686.6,213.6 686.9,213.6 687.2,213.6 687.6,213.6 687.9,213.6 688.2,213.6 688.6,213.6 688.9,213.6 689.2,213.6 689.6,213.6 689.9,213.6 690.2,213.6 690.6,213.6 690.9,213.6 691.2,213.6 691.6,213.6 691.9,213.6 692.2,213.6 692.6,213.6 692.9,213.6 693.2,213.6" stroke="#ff0000" stroke-width="0.38"/>
<path d="M448.7,285.0 448.7,269.5 449.2,266.7 449.2,261.3 449.7,258.4 449.7,252.6 450.3,251.0 450.3,248.5 450.8,247.2 450.8,244.6 451.3,243.4 451.3,240.9 451.7,239.6 451.7,237.5 452.2,236.8 452.2,235.4 452.7,234.8 452.7,233.4 453.3,232.7 453.3,231.3 453.8,230.7 453.8,229.3 454.2,228.7 454.2,227.3 454.7,226.6 454.7,225.4 M475.7,208.7 475.7,199.4 476.2,198.0 476.2,208.3 476.7,206.3 476.7,196.5 477.2,192.1 477.2,207.3 477.7,204.0 477.7,193.4 478.2,190.0 478.2,202.6 478.7,199.4 478.7,188.0 479.2,187.5 479.2,198.6 479.7,198.2 479.7,182.9 480.2,186.9 480.2,199.0 480.7,192.2 480.7,180.7 481.2,182.6 481.2,192.8 481.7,189.1 481.7,179.1 482.2,176.2 482.2,186.4 482.7,185.7 482.7,175.8 483.2,171.6 483.2,181.3 483.7,180.0 483.7,171.5 484.2,172.4 484.2,183.2 484.7,179.0 484.7,169.9 485.2,172.0 485.2,179.2 485.7,180.6 485.7,170.8 486.2,169.0 486.2,179.3 486.7,175.5 486.7,167.4 487.2,163.3 487.2,174.4 487.7,178.3 487.7,166.4 488.2,163.3 488.2,173.3 488.7,174.8 488.7,166.7 489.2,162.5 489.2,173.1 489.7,174.1 489.7,163.5 490.2,162.2 490.2,171.1 490.7,173.6 490.7,165.4 491.2,170.1 491.2,160.2 491.7,161.4 491.7,170.9 492.2,172.0 492.2,159.4 492.7,155.3 492.7,165.3 493.2,168.0 493.2,152.7 493.7,156.2 493.7,169.4 494.2,164.3 494.2,155.4 494.7,158.9 494.7,165.1 495.2,167.8 495.2,160.3 495.7,157.2 495.7,169.9 496.2,166.1 496.2,157.7 496.7,157.3 496.7,164.8 497.2,166.9 497.2,158.6 497.7,158.9 497.7,166.7 498.2,170.6 498.2,161.3 498.7,162.5 498.7,170.7 499.2,171.1 499.2,162.8 499.7,164.6 499.7,172.3 500.2,176.1 500.2,163.3 500.7,163.7 500.7,173.5 501.2,177.7 501.2,164.0 501.7,169.6 501.7,177.9 502.2,180.7 502.2,168.5 502.7,169.8 502.7,178.1 503.2,180.1 503.2,170.5 503.7,169.5 503.7,180.5 504.2,178.7 504.2,169.5 504.7,170.7 504.7,179.0 505.2,175.7 505.2,171.2 505.7,166.5 505.7,181.3 506.2,175.5 506.2,166.6 506.7,165.3 506.7,174.0 507.2,173.8 507.2,161.3 507.7,162.1 507.7,174.2 508.2,173.0 508.2,162.6 508.7,160.7 508.7,167.2 509.2,162.4 509.2,172.2 509.7,170.0 509.7,155.6 510.2,157.7 510.2,168.7 510.7,167.2 510.7,156.2 511.2,155.5 511.2,164.3 511.7,164.6 511.7,154.3 512.2,155.0 512.2,168.5 512.7,164.5 512.7,154.0 513.2,156.2 513.2,162.1 513.7,164.5 513.7,154.0 514.2,150.7 514.2,158.6 514.7,158.5 514.7,149.4 515.2,148.5 515.2,156.7 515.7,154.9 515.7,145.2 516.2,149.0 516.2,157.0 516.7,157.2 516.7,145.5 517.2,147.7 517.2,156.9 517.7,151.5 517.7,146.7 518.2,142.1 518.2,156.0 518.7,149.8 518.7,143.2 519.2,149.6 519.2,136.6 519.7,139.3 519.7,147.6 520.2,146.3 520.2,137.0 520.7,135.8 520.7,144.5 521.2,143.2 521.2,134.6 521.7,136.8 521.7,146.0 522.2,142.7 522.2,134.1 522.7,132.7 522.7,141.3 523.2,141.1 523.2,132.2 523.7,129.4 523.7,138.9 524.2,137.8 524.2,129.8 524.7,130.0 524.7,136.7 525.2,137.2 525.2,127.7 525.7,125.3 525.7,137.7 526.2,135.4 526.2,129.4 526.7,127.3 526.7,138.7 527.2,135.8 527.2,127.3 527.7,130.9 527.7,144.3 528.2,140.1 528.2,131.5 528.7,129.9 528.7,139.4 529.2,143.6 529.2,132.4 529.7,136.6 529.7,147.2 530.2,148.0 530.2,134.1 530.7,131.3 530.7,143.5 531.2,141.0 531.2,126.3 531.7,122.2 531.7,133.8 532.2,134.7 532.2,124.4 532.7,126.7 532.7,133.2 533.2,134.4 533.2,125.4 533.7,121.0 533.7,131.9 534.2,124.4 534.2,117.1 534.7,109.7 534.7,124.6 535.2,120.4 535.2,106.0 535.7,102.6 535.7,116.1 536.2,108.6 536.2,100.7 536.7,101.4 536.7,111.6 537.2,104.4 537.2,95.6 537.7,95.3 537.7,107.4 538.2,104.8 538.2,94.4 538.7,95.6 538.7,106.1 539.2,108.2 539.2,97.8 539.7,95.5 539.7,107.2 540.2,104.1 540.2,95.6 540.7,95.8 540.7,107.2 541.2,107.6 541.2,96.1 541.7,96.2 541.7,104.0 542.2,97.4 542.2,111.8 542.7,108.0 542.7,98.3 543.2,100.2 543.2,109.1 543.7,104.0 543.7,97.6 544.2,102.6 544.2,110.2 544.7,112.1 544.7,103.2 545.2,105.2 545.2,110.7 545.7,107.4 545.7,117.8 546.2,112.7 546.2,103.9 546.7,104.6 546.7,114.5 547.2,116.1 547.2,104.2 547.7,109.7 547.7,118.7 548.2,117.8 548.2,106.0 548.7,111.7 548.7,119.2 549.2,122.4 549.2,111.8 549.7,112.5 549.7,126.0 550.2,125.7 550.2,115.5 550.7,114.5 550.7,127.4 551.2,131.0 551.2,121.2 551.7,118.7 551.7,132.2 552.2,129.2 552.2,119.0 552.7,121.9 552.7,134.6 553.2,134.1 553.2,124.4 553.7,129.5 553.7,137.1 554.2,140.1 554.2,132.7 554.7,131.4 554.7,144.5 555.2,145.2 555.2,138.4 555.7,141.2 555.7,150.1 556.2,146.6 556.2,156.1 556.7,158.7 556.7,145.5 557.2,142.1 557.2,149.6 557.7,148.4 557.7,138.5 558.2,141.6 558.2,152.4 558.7,156.1 558.7,144.5 559.2,148.6 559.2,162.4 559.7,162.4 559.7,153.8 560.2,151.5 560.2,158.5 560.7,157.2 560.7,149.9 561.2,146.8 561.2,158.5 561.7,153.7 561.7,144.0 562.2,146.4 562.2,152.0 562.7,154.6 562.7,143.7 563.2,148.4 563.2,161.4 563.7,153.6 563.7,146.5 564.2,149.7 564.2,157.4 564.7,161.7 564.7,150.3 565.2,145.3 565.2,158.0 565.7,159.2 565.7,145.0 566.2,149.9 566.2,161.8 566.7,161.4 566.7,152.6 567.2,147.5 567.2,158.8 567.7,162.3 567.7,150.3 568.2,151.4 568.2,157.1 568.7,160.1 568.7,150.8 569.2,151.4 569.2,163.3 569.7,162.5 569.7,154.4 570.2,148.9 570.2,165.7 570.7,163.3 570.7,155.1 571.2,152.9 571.2,166.4 571.7,166.2 571.7,156.9 572.2,157.5 572.2,166.7 572.7,169.1 572.7,159.5 573.2,159.0 573.2,167.1 573.7,170.1 573.7,157.4 574.2,162.3 574.2,172.5 574.7,168.4 574.7,159.7 575.2,165.0 575.2,172.0 575.7,175.7 575.7,161.4 576.2,163.1 576.2,174.2 576.7,175.6 576.7,165.5 577.2,168.9 577.2,178.0 577.7,181.0 577.7,169.3 578.2,168.0 578.2,176.0 578.7,168.4 578.7,184.4 579.2,178.4 579.2,170.3 579.7,168.0 579.7,185.7 580.2,180.9 580.2,173.9 580.7,174.4 580.7,186.4 581.2,184.7 581.2,175.1 581.7,171.8 581.7,183.0 582.2,184.2 582.2,177.2 582.7,176.4 582.7,185.7 583.2,187.9 583.2,179.6 583.7,176.4 583.7,185.5 584.2,186.1 584.2,176.7 584.7,177.3 584.7,193.8 585.2,187.9 585.2,178.5 585.7,178.9 585.7,188.7 586.2,188.1 586.2,178.1 586.7,180.0 586.7,187.5 587.2,192.7 587.2,182.4 587.7,182.0 587.7,192.6 588.2,193.9 588.2,183.0 588.7,184.1 588.7,193.3 589.2,194.2 589.2,181.8 589.7,185.7 589.7,193.4 590.2,191.2 590.2,183.2 590.7,182.5 590.7,191.7 591.2,190.4 591.2,185.7 591.7,184.1 591.7,194.3 592.2,190.8 592.2,182.2 592.7,183.9 592.7,192.6 593.2,193.8 593.2,188.8 593.7,186.7 593.7,194.2 594.2,192.6 594.2,183.4 594.7,185.2 594.7,192.1 595.2,192.2 595.2,185.4 595.7,187.8 595.7,193.2 596.2,193.1 596.2,186.3 596.7,187.5 596.7,192.8 597.2,192.1 597.2,187.4 597.7,186.1 597.7,192.6 598.2,193.2 598.2,186.1 598.7,188.0 598.7,193.6 599.2,193.5 599.2,186.0 599.7,188.1 599.7,193.9 600.2,193.2 600.2,187.9 600.7,187.2 600.7,194.1 601.2,193.0 601.2,187.0 601.7,188.8 601.7,192.3 602.2,193.9 602.2,189.0 602.7,189.7 602.7,193.8 603.2,193.7 603.2,189.7 603.7,188.2 603.7,192.8 604.2,193.0 604.2,188.6 604.7,189.1 604.7,192.9 605.2,192.4 605.2,188.3 605.7,188.3 605.7,193.2 606.2,192.1 606.2,187.5 606.7,188.7 606.7,192.1 607.2,192.7 607.2,188.6 607.7,189.8 607.7,193.0 608.2,192.8 608.2,188.6 608.7,188.5 608.7,192.1 609.2,191.7 609.2,188.8 609.7,188.4 609.7,191.7 610.2,191.8 610.2,189.1 610.7,188.9 610.7,192.7 611.2,192.3 611.2,189.4 611.7,188.9 611.7,192.8 612.2,192.4 612.2,189.2 612.7,189.2 612.7,192.6 613.2,192.6 613.2,189.5 613.7,189.8 613.7,192.0 614.2,192.6 614.2,189.5 614.7,189.7 614.7,192.3 615.2,191.9 615.2,189.1 615.7,189.1 615.7,191.7 616.2,192.2 616.2,190.0 616.7,189.9 616.7,192.5 617.2,192.5 617.2,190.1 617.7,189.1 617.7,191.7 618.2,192.1 618.2,189.4 618.7,189.9 618.7,191.9 619.2,192.0 619.2,190.3 619.7,189.8 619.7,192.4 620.2,191.9 620.2,189.6 620.7,190.0 620.7,192.0 621.2,192.2 621.2,190.1 621.7,190.6 621.7,192.2 622.2,192.1 622.2,190.6 622.7,190.7 622.7,192.1 623.2,192.0 623.2,190.4 623.7,190.0 623.7,192.0 624.2,191.9 624.2,190.2 624.7,190.3 624.7,192.0 625.2,191.7 625.2,190.4 625.7,190.5 625.7,192.1 626.2,191.8 626.2,190.4 626.7,190.2 626.7,191.8 627.2,192.2 627.2,190.4 627.7,190.5 627.7,191.9 628.2,191.9 628.2,190.5 628.7,190.6 628.7,191.9 629.2,191.8 629.2,190.7 629.7,190.8 629.7,191.7 630.2,191.7 630.2,190.7 630.7,190.6 630.7,191.8 631.2,192.0 631.2,190.8 631.7,191.0 631.7,191.9 632.2,192.1 632.2,190.7 632.7,190.6 632.7,192.0 633.2,192.0 633.2,191.0 633.7,190.7 633.7,191.6 634.2,192.0 634.2,190.8 634.7,190.8 634.7,191.8 635.2,191.8 635.2,190.6 635.7,190.7 635.7,191.7 636.2,191.8 636.2,190.9 636.7,190.8 636.7,191.8 637.2,191.8 637.2,190.8 637.7,190.8 637.7,191.7 M639.2,191.7 639.2,190.9 639.7,190.9 639.7,191.8 M641.7,191.8 641.7,190.8" stroke="#00ff00" stroke-width="0.80"/>
<path d="M448.7,292.0 448.7,276.7 449.0,275.6 449.0,266.6 449.3,266.2 449.3,261.3 449.7,260.8 449.7,255.5 450.0,255.1 450.0,251.0 450.3,250.8 450.3,248.5 450.7,248.4 450.7,245.9 451.0,245.7 451.0,243.5 451.3,243.3 451.3,240.9 451.7,240.7 451.7,238.3 452.0,238.1 452.0,236.8 452.3,236.7 452.3,235.4 452.7,235.3 452.7,234.1 453.0,234.0 453.0,232.7 453.3,232.6 453.3,231.3 453.7,231.2 453.7,230.0 454.0,229.9 454.0,228.6 454.3,228.5 454.3,227.3 454.7,227.2 454.7,225.9 455.0,225.8 455.0,225.0 455.3,225.0 455.3,224.4 455.7,224.4 455.7,223.7 456.0,223.7 456.0,223.1 456.3,223.0 456.3,222.4 456.7,222.4 456.7,221.7 457.0,221.7 457.0,221.1 457.3,221.1 457.3,220.4 457.7,220.4 457.7,219.8 458.0,219.7 458.0,219.1 458.3,219.1 458.3,218.4 458.7,218.4 458.7,217.8 459.0,217.8 459.0,217.1 459.3,217.1 459.3,216.7 459.7,216.6 459.7,216.2 460.0,216.2 460.0,215.8 460.3,215.7 460.3,215.4 460.7,215.3 460.7,214.9 461.0,214.9 461.0,214.5 461.3,214.5 461.3,214.0 461.7,214.0 461.7,213.6 462.0,213.6 462.0,213.2 462.3,213.1 462.3,212.7 462.7,212.7 462.7,212.3 463.0,212.3 463.0,211.9 463.3,211.8 463.3,211.4 463.7,211.4 463.7,211.0 464.0,211.0 464.0,210.7 464.3,210.7 464.3,210.5 464.7,210.4 464.7,210.2 465.0,210.2 465.0,209.9 465.3,209.9 465.3,209.6 465.7,209.6 465.7,209.4 466.0,209.3 466.0,209.1 466.3,209.1 466.3,208.8 466.7,208.8 466.7,208.5 467.0,208.5 467.0,208.3 467.3,208.3 467.3,208.0 467.7,208.0 467.7,207.7 468.0,207.7 468.0,207.5 468.3,207.4 468.3,207.2 468.7,207.2 468.7,206.9 469.0,206.9 469.0,206.6 469.3,206.6 469.3,206.4 469.7,206.3 469.7,206.1 470.0,206.1 470.0,205.9 470.3,205.8 470.3,205.7 470.7,205.7 470.7,205.5 471.0,205.4 471.0,205.2 471.3,205.2 471.3,205.0 471.7,205.0 471.7,204.8 472.0,204.8 472.0,204.6 472.3,204.6 472.3,204.4 472.7,204.4 472.7,204.2 473.0,204.2 473.0,204.0 473.3,204.0 473.3,203.8 473.7,203.8 473.7,203.6 474.0,203.6 474.0,203.4 474.3,203.4 474.3,203.2 474.7,203.2 474.7,203.0 475.0,203.0 475.0,202.8 475.3,202.8 475.3,202.6 475.6,202.5 475.6,215.2 476.0,214.5 476.0,198.0 476.3,201.7 476.3,222.4 476.7,231.6 476.7,196.5 477.0,200.6 477.0,216.9 477.3,220.4 477.3,192.1 477.7,195.3 477.7,211.7 478.0,203.9 478.0,190.3 478.3,190.0 478.3,213.4 478.7,202.6 478.7,191.2 479.0,187.5 479.0,210.8 479.3,212.4 479.3,187.5 479.7,184.6 479.7,202.8 480.0,182.9 480.0,226.3 480.3,206.9 480.3,187.4 480.6,180.9 480.6,205.2 481.0,194.2 481.0,180.7 481.3,182.7 481.3,201.5 481.7,219.5 481.7,182.4 482.0,179.1 482.0,204.8 482.3,191.4 482.3,176.2 482.7,175.8 482.7,200.1 483.0,192.2 483.0,179.7 483.3,171.6 483.3,191.9 483.7,187.1 483.7,171.5 484.0,173.4 484.0,183.2 484.3,172.4 484.3,196.8 484.7,202.4 484.7,169.9 485.0,170.2 485.0,197.1 485.3,191.4 485.3,172.0 485.7,170.8 485.7,196.2 486.0,190.2 486.0,169.0 486.3,169.1 486.3,187.3 486.6,180.5 486.6,167.4 487.0,168.1 487.0,197.0 487.3,175.1 487.3,163.3 487.7,170.2 487.7,184.9 488.0,183.1 488.0,166.4 488.3,163.3 488.3,183.9 488.7,182.4 488.7,167.1 489.0,164.3 489.0,189.1 489.3,183.2 489.3,162.5 489.6,163.5 489.6,205.0 490.0,184.8 490.0,166.4 490.3,162.2 490.3,182.4 490.7,177.1 490.7,165.4 491.0,160.9 491.0,177.2 491.3,182.6 491.3,160.2 491.6,161.4 491.6,176.4 492.0,173.6 492.0,161.5 492.3,159.4 492.3,175.7 492.6,179.4 492.6,155.3 493.0,158.3 493.0,169.7 493.3,183.4 493.3,152.7 493.7,156.2 493.7,179.1 494.0,171.6 494.0,155.4 494.3,160.0 494.3,171.6 494.6,183.2 494.6,158.9 495.0,159.1 495.0,174.6 495.3,170.8 495.3,160.3 495.6,157.2 495.6,173.0 496.0,182.4 496.0,157.7 496.3,158.1 496.3,173.7 496.6,173.8 496.6,157.3 497.0,157.5 497.0,171.0 497.3,181.4 497.3,158.6 497.6,158.9 497.6,171.8 498.0,174.9 498.0,161.8 498.3,161.3 498.3,175.6 498.6,177.8 498.6,164.8 499.0,162.5 499.0,178.2 499.3,180.1 499.3,162.8 499.7,165.7 499.7,176.8 500.0,185.8 500.0,164.6 500.3,163.3 500.3,182.7 500.6,178.3 500.6,163.7 501.0,164.0 501.0,183.7 501.3,184.4 501.3,169.3 501.6,169.6 501.6,192.0 502.0,187.5 502.0,168.5 502.3,171.9 502.3,204.1 502.6,188.2 502.6,170.0 503.0,169.8 503.0,184.5 503.3,186.3 503.3,171.3 503.6,169.5 503.6,186.9 504.0,188.3 504.0,171.3 504.3,169.5 504.3,194.8 504.6,193.3 504.6,170.7 505.0,171.0 505.0,186.5 505.3,183.5 505.3,171.2 505.6,166.5 505.6,192.9 506.0,190.7 506.0,168.0 506.3,166.6 506.3,184.5 506.6,181.7 506.6,165.3 507.0,168.2 507.0,182.3 507.3,161.3 507.3,208.2 507.6,177.0 507.6,162.1 508.0,163.5 508.0,178.9 508.3,180.6 508.3,162.6 508.6,160.7 508.6,169.4 509.0,162.4 509.0,176.6 509.3,162.4 509.3,204.6 509.6,177.8 509.6,155.6 510.0,159.1 510.0,179.6 510.3,182.3 510.3,157.7 510.6,162.6 510.6,172.1 511.0,168.4 511.0,155.8 511.3,155.5 511.3,166.5 511.6,173.1 511.6,154.3 512.0,159.1 512.0,174.0 512.3,173.4 512.3,155.0 512.6,154.0 512.6,172.8 513.0,171.8 513.0,156.7 513.3,156.2 513.3,163.7 513.6,154.0 513.6,178.3 514.0,175.2 514.0,150.7 514.3,151.0 514.3,167.2 514.6,164.3 514.6,149.4 515.0,150.6 515.0,169.1 515.3,172.3 515.3,148.5 515.6,147.7 515.6,175.2 516.0,160.3 516.0,145.2 516.3,149.0 516.3,172.9 516.6,170.9 516.6,145.5 517.0,148.5 517.0,165.9 517.3,160.9 517.3,147.7 517.6,147.2 517.6,162.2 518.0,166.8 518.0,146.7 518.3,142.1 518.3,162.3 518.6,158.9 518.6,143.2 519.0,143.9 519.0,160.5 519.3,152.8 519.3,136.6 519.6,140.6 519.6,159.6 520.0,150.0 520.0,138.8 520.3,137.0 520.3,150.9 520.6,148.9 520.6,135.8 521.0,134.7 521.0,160.7 521.3,145.9 521.3,134.6 521.6,136.8 521.6,151.9 522.0,148.6 522.0,135.2 522.3,134.1 522.3,151.3 522.6,151.0 522.6,132.8 523.0,132.2 523.0,149.2 523.3,156.9 523.3,135.5 523.6,129.4 523.6,152.0 524.0,149.4 524.0,130.6 524.3,129.8 524.3,142.1 524.6,142.7 524.6,130.0 525.0,130.5 525.0,161.0 525.3,147.3 525.3,127.7 525.6,130.1 525.6,150.3 526.0,142.7 526.0,125.3 526.3,129.4 526.3,142.8 526.6,145.0 526.6,127.3 527.0,127.8 527.0,143.2 527.3,149.6 527.3,127.3 527.6,130.9 527.6,145.1 528.0,149.7 528.0,131.5 528.3,133.2 528.3,146.6 528.6,144.5 528.6,129.9 529.0,132.4 529.0,161.2 529.3,162.6 529.3,133.8 529.6,136.6 529.6,158.7 530.0,161.0 530.0,139.1 530.3,134.1 530.3,159.5 530.6,156.9 530.6,131.3 531.0,132.1 531.0,192.0 531.3,142.3 531.3,126.3 531.6,122.2 531.6,145.1 532.0,144.9 532.0,124.4 532.3,127.0 532.3,173.6 532.6,136.4 532.6,126.7 533.0,125.4 533.0,139.4 533.3,128.6 533.3,150.9 533.6,140.2 533.6,123.2 534.0,119.6 534.0,142.5 534.3,137.3 534.3,117.1 534.6,115.6 534.6,128.7 535.0,131.9 535.0,108.7 535.3,106.0 535.3,132.7 535.6,121.4 535.6,104.5 536.0,100.7 536.0,143.5 536.3,116.8 536.3,103.1 536.6,102.8 536.6,117.8 537.0,116.5 537.0,99.9 537.3,95.6 537.3,107.1 537.6,117.1 537.6,96.4 538.0,94.4 538.0,115.4 538.3,116.9 538.3,98.2 538.6,98.9 538.6,128.8 539.0,114.4 539.0,95.6 539.3,97.8 539.3,123.4 539.6,122.5 539.6,95.6 540.0,95.5 540.0,112.1 540.3,121.1 540.3,96.8 540.6,95.8 540.6,107.6 541.0,100.4 541.0,117.0 541.3,112.0 541.3,96.1 541.6,96.2 541.6,111.8 542.0,114.1 542.0,97.4 542.3,98.4 542.3,119.2 542.6,116.2 542.6,98.3 543.0,100.2 543.0,110.9 543.3,102.2 543.3,126.5 543.6,107.3 543.6,97.6 544.0,99.3 544.0,119.9 544.3,118.7 544.3,102.6 544.6,103.4 544.6,122.2 545.0,120.1 545.0,103.2 545.3,105.2 545.3,120.7 545.6,123.9 545.6,107.4 546.0,106.8 546.0,134.1 546.3,142.0 546.3,103.9 546.6,104.6 546.6,126.5 547.0,121.7 547.0,106.4 547.3,104.2 547.3,128.2 547.6,132.0 547.6,109.7 548.0,106.0 548.0,124.0 548.3,128.4 548.3,111.1 548.6,111.7 548.6,132.1 549.0,135.0 549.0,111.8 549.3,113.6 549.3,130.8 549.6,135.6 549.6,112.7 550.0,112.5 550.0,130.8 550.3,143.1 550.3,118.2 550.6,114.5 550.6,132.6 551.0,139.4 551.0,120.9 551.3,121.2 551.3,139.2 551.6,154.1 551.6,118.7 552.0,119.5 552.0,141.5 552.3,142.6 552.3,119.0 552.6,121.9 552.6,137.4 553.0,142.1 553.0,124.4 553.3,130.6 553.3,152.0 553.6,143.1 553.6,129.5 554.0,132.1 554.0,146.2 554.3,150.6 554.3,132.7 554.6,131.4 554.6,155.9 555.0,149.8 555.0,138.4 555.3,140.0 555.3,148.2 555.6,141.2 555.6,161.2 556.0,166.7 556.0,141.5 556.3,146.6 556.3,174.6 556.6,166.9 556.6,145.5 557.0,142.1 557.0,162.2 557.3,166.2 557.3,142.7 557.6,138.5 557.6,153.7 558.0,162.7 558.0,141.0 558.3,141.8 558.3,155.0 558.6,144.5 558.6,166.1 558.9,164.6 558.9,148.6 559.3,151.3 559.3,169.2 559.6,182.5 559.6,153.8 560.0,151.5 560.0,173.5 560.3,164.1 560.3,152.8 560.6,149.9 560.6,166.1 561.0,181.1 561.0,146.8 561.3,149.4 561.3,170.9 561.6,166.5 561.6,145.7 561.9,144.0 561.9,171.3 562.3,155.4 562.3,146.4 562.6,143.7 562.6,167.5 563.0,168.2 563.0,145.6 563.3,148.4 563.3,165.4 563.6,165.0 563.6,146.5 564.0,146.7 564.0,159.7 564.3,149.7 564.3,182.5 564.6,165.1 564.6,150.3 564.9,153.0 564.9,173.3 565.3,160.7 565.3,145.3 565.6,145.0 565.6,163.4 566.0,155.5 566.0,179.8 566.3,172.7 566.3,149.9 566.6,152.6 566.6,174.1 567.0,176.9 567.0,150.3 567.3,147.5 567.3,167.3 567.6,178.2 567.6,150.3 567.9,151.5 567.9,165.6 568.3,171.0 568.3,151.4 568.6,150.8 568.6,171.3 569.0,172.4 569.0,152.1 569.3,151.4 569.3,175.2 569.6,174.7 569.6,154.7 569.9,148.9 569.9,165.7 570.3,173.4 570.3,155.8 570.6,155.1 570.6,172.2 571.0,171.6 571.0,159.6 571.3,152.9 571.3,187.3 571.6,183.1 571.6,156.9 572.0,157.7 572.0,175.6 572.3,175.3 572.3,157.5 572.6,159.5 572.6,180.5 572.9,170.9 572.9,159.0 573.3,159.5 573.3,185.8 573.6,176.3 573.6,157.4 574.0,161.8 574.0,188.0 574.3,181.1 574.3,162.3 574.6,159.7 574.6,176.6 574.9,180.7 574.9,162.0 575.3,165.0 575.3,186.0 575.6,180.2 575.6,161.4 575.9,164.6 575.9,187.8 576.3,186.7 576.3,163.1 576.6,165.5 576.6,181.7 577.0,181.5 577.0,169.8 577.3,168.9 577.3,191.7 577.6,188.0 577.6,169.4 577.9,169.3 577.9,187.8 578.3,184.9 578.3,168.0 578.6,168.4 578.6,187.2 578.9,174.0 578.9,203.0 579.3,187.5 579.3,170.3 579.6,168.0 579.6,197.4 580.0,200.3 580.0,175.0 580.3,173.9 580.3,193.9 580.6,198.0 580.6,174.4 580.9,175.1 580.9,193.0 581.3,196.1 581.3,175.7 581.6,171.8 581.6,190.3 581.9,196.9 581.9,177.2 582.3,178.6 582.3,194.4 582.6,194.7 582.6,177.0 583.0,176.4 583.0,193.9 583.3,194.9 583.3,180.4 583.6,176.4 583.6,190.8 583.9,194.5 583.9,181.8 584.3,176.7 584.3,196.9 584.6,198.6 584.6,177.3 584.9,179.9 584.9,198.5 585.3,197.1 585.3,178.5 585.6,178.9 585.6,192.7 585.9,196.4 585.9,178.1 586.3,181.5 586.3,197.8 586.6,196.0 586.6,181.6 586.9,180.0 586.9,194.5 587.3,198.9 587.3,182.4 587.6,182.0 587.6,193.9 587.9,198.9 587.9,183.0 588.3,183.5 588.3,197.3 588.6,197.5 588.6,184.1 588.9,184.4 588.9,198.6 589.3,197.9 589.3,181.8 589.6,185.7 589.6,195.9 589.9,198.3 589.9,183.2 590.3,185.2 590.3,198.0 590.6,193.6 590.6,182.5 590.9,185.3 590.9,195.2 591.3,196.2 591.3,185.7 591.6,187.1 591.6,197.5 591.9,197.1 591.9,184.1 592.3,182.2 592.3,194.0 592.6,196.2 592.6,187.1 592.9,183.9 592.9,196.7 593.3,196.6 593.3,191.4 593.6,188.0 593.6,195.1 593.9,195.8 593.9,186.7 594.3,183.4 594.3,195.7 594.6,195.5 594.6,185.2 594.9,185.4 594.9,195.5 595.3,195.8 595.3,187.3 595.6,187.8 595.6,194.3 595.9,195.8 595.9,189.0 596.3,186.3 596.3,195.1 596.6,194.6 596.6,187.5 596.9,187.4 596.9,195.2 597.3,195.5 597.3,187.8 597.6,186.1 597.6,195.2 597.9,195.5 597.9,186.6 598.3,186.1 598.3,195.3 598.6,195.3 598.6,188.0 598.9,188.0 598.9,195.1 599.3,195.0 599.3,186.0 599.6,188.1 599.6,195.1 599.9,194.4 599.9,188.0 600.3,187.9 600.3,194.5 600.6,195.0 600.6,187.2 600.9,189.7 600.9,194.5 601.3,194.7 601.3,187.0 601.6,188.8 601.6,194.3 601.9,194.8 601.9,189.7 602.3,189.0 602.3,194.7 602.6,194.6 602.6,190.1 602.9,189.7 602.9,194.6 603.3,194.4 603.3,189.7 603.6,188.2 603.6,194.5 603.9,194.1 603.9,188.3 604.3,188.6 604.3,194.3 604.6,194.3 604.6,189.5 604.9,189.1 604.9,193.5 605.3,194.2 605.3,188.3 605.6,188.3 605.6,193.9 605.9,193.9 605.9,187.5 606.3,189.1 606.3,193.5 606.6,193.7 606.6,188.7 606.9,188.8 606.9,194.0 607.3,193.9 607.3,188.6 607.6,189.8 607.6,193.7 607.9,193.6 607.9,188.9 608.3,188.6 608.3,193.2 608.6,193.4 608.6,188.5 608.9,189.1 608.9,193.1 609.3,193.3 609.3,188.8 609.6,188.4 609.6,192.8 609.9,193.2 609.9,189.1 610.3,190.1 610.3,192.5 610.6,193.5 610.6,188.9 610.9,189.3 610.9,193.5 611.3,193.4 611.3,189.4 611.6,189.5 611.6,193.4 611.9,193.3 611.9,188.9 612.3,189.2 612.3,193.2 612.6,193.2 612.6,189.2 612.9,190.5 612.9,193.5 613.3,193.2 613.3,189.5 613.6,189.8 613.6,193.4 613.9,193.3 613.9,190.8 614.3,189.5 614.3,193.2 614.6,193.1 614.6,189.7 614.9,189.7 614.9,193.4 615.3,193.1 615.3,189.1 615.6,189.1 615.6,192.9 615.9,193.1 615.9,189.8 616.3,190.0 616.3,192.9 616.6,192.9 616.6,189.9 616.9,190.8 616.9,193.1 617.3,193.1 617.3,190.1 617.6,189.1 617.6,192.7 617.9,192.5 617.9,189.4 618.3,189.5 618.3,193.1 618.6,192.9 618.6,190.0 618.9,189.9 618.9,193.0 619.3,192.9 619.3,190.3 619.6,189.8 619.6,192.8 619.9,193.0 619.9,189.6 620.3,190.1 620.3,192.5 620.6,192.5 620.6,190.0 620.9,190.5 620.9,192.7 621.3,192.6 621.3,190.1 621.6,190.6 621.6,192.8 621.9,192.6 621.9,190.6 622.3,190.6 622.3,192.7 622.6,192.9 622.6,190.7 622.9,190.4 622.9,192.4 623.3,192.6 623.3,190.5 623.6,190.4 623.6,192.7 623.9,192.4 623.9,190.0 624.3,190.2 624.3,192.4 624.6,192.6 624.6,190.4 624.9,190.3 624.9,192.4 625.3,192.6 625.3,190.4 625.6,190.5 625.6,192.4 625.9,192.6 625.9,190.6 626.3,190.4 626.3,192.4 626.6,192.2 626.6,190.6 626.9,190.2 626.9,192.6 627.3,192.2 627.3,190.4 627.6,190.5 627.6,192.5 627.9,192.0 627.9,190.7 628.3,190.5 628.3,192.3 628.6,192.4 628.6,190.7 628.9,190.6 628.9,192.3 629.3,192.5 629.3,190.7 629.6,190.8 629.6,192.0 629.9,192.4 629.9,191.0 630.3,190.7 630.3,192.2 630.6,192.3 630.6,190.6 630.9,190.7 630.9,192.3 631.3,192.2 631.3,190.8 631.6,191.1 631.6,192.1 631.9,192.4 631.9,190.9 632.3,190.7 632.3,192.3 632.6,192.4 632.6,190.6 632.9,191.0 632.9,192.4 633.3,192.1 633.3,191.1 633.6,190.7 633.6,192.0 633.9,192.4 633.9,190.8 634.3,190.8 634.3,192.2 634.6,192.2 634.6,190.8 634.9,190.6 634.9,192.2 635.3,192.4 635.3,191.0 635.6,190.7 635.6,192.1 635.9,192.2 635.9,190.9 636.3,191.0 636.3,192.4 636.6,192.5 636.6,191.0 636.9,190.8 636.9,191.9 637.3,192.1 637.3,190.9 637.6,190.8 637.6,192.1 637.9,192.2 637.9,191.0 638.3,190.9 638.3,192.1 638.6,192.1 638.6,191.0 638.9,191.1 638.9,192.0 639.3,192.1 639.3,190.9 639.6,190.9 639.6,192.1 639.9,192.2 639.9,191.1 640.3,191.1 640.3,192.1 640.6,192.0 640.6,191.0 640.9,191.2 640.9,192.1 641.3,191.9 641.3,191.2 641.6,190.8 641.6,192.1 641.9,192.1 641.9,191.2 642.2,191.1 642.2,192.1 642.6,192.1 642.6,191.3 642.9,191.2 642.9,191.9 643.3,191.9 643.3,191.2 643.6,191.2 643.6,192.1 643.9,192.1 643.9,191.1 644.3,191.1 644.3,192.1 644.6,192.1 644.6,191.1 644.9,191.1 644.9,192.0 645.3,192.1 645.3,191.1 645.6,191.1 645.6,191.9 645.9,191.9 645.9,191.1 646.3,191.2 646.3,192.0 646.6,192.0 646.6,191.3 646.9,191.2 646.9,192.0 647.3,191.9 647.3,191.3 647.6,190.9 647.6,192.0 647.9,192.1 647.9,191.2 648.2,191.1 648.2,191.8 648.6,192.0 648.6,191.0 648.9,191.1 648.9,191.7 649.3,191.8 649.3,191.2 649.6,191.2 649.6,192.0 649.9,191.9 649.9,191.2 650.3,191.2 650.3,191.8 650.6,191.8 650.6,191.2 650.9,191.0 650.9,192.0 651.2,191.9 651.2,191.2 651.6,191.2 651.6,191.9 651.9,191.9 651.9,191.2 652.3,191.2 652.3,192.0 652.6,191.8 652.6,191.2 652.9,191.1 652.9,191.9 653.2,191.9 653.2,191.3 653.6,191.1 653.6,191.9 653.9,191.8 653.9,191.3 654.2,191.3 654.2,191.8 654.6,192.0 654.6,191.3 654.9,191.2 654.9,191.9 655.3,191.8 655.3,191.3 655.6,191.3 655.6,191.8 655.9,191.8 655.9,191.2 656.2,191.3 656.2,191.9 656.6,191.9 656.6,191.4 656.9,191.2 656.9,191.9 657.2,191.8 657.2,191.2 657.6,191.3 657.6,191.9 657.9,191.8 657.9,191.3 658.2,191.4 658.2,191.8 658.6,191.8 658.6,191.2 658.9,191.2 658.9,191.8 659.2,191.8 659.2,191.3 659.6,191.3 659.6,191.8 659.9,191.7 659.9,191.2 660.2,191.2 660.2,191.8 660.6,191.8 660.6,191.3 660.9,191.2 660.9,191.8 661.3,191.8 661.3,191.2 661.6,191.3 661.6,191.8 661.9,191.8 661.9,191.3 662.2,191.3 662.2,191.9 662.6,191.8 662.6,191.4 662.9,191.2 662.9,191.7 663.2,191.8 663.2,191.3 663.6,191.3 663.6,191.8 663.9,191.8 663.9,191.2 664.2,191.3 664.2,191.7 664.6,191.8 664.6,191.3 664.9,191.3 664.9,191.7 665.2,191.8 665.2,191.3 665.6,191.2 665.6,191.7 665.9,191.8 665.9,191.4 666.3,191.3 666.3,191.8 666.6,191.8 666.6,191.4 666.9,191.2 666.9,191.7 667.2,191.8 667.2,191.4 667.6,191.4 667.6,191.8 667.9,191.8 667.9,191.3 668.2,191.4 668.2,191.7 668.6,191.7 668.6,191.3 668.9,191.3 668.9,191.7 669.2,191.7 669.2,191.4 669.6,191.3 669.6,191.7 669.9,191.7 669.9,191.3 670.2,191.4 670.2,191.7 670.6,191.7 670.6,191.4 670.9,191.4 670.9,191.6 671.2,191.7 671.2,191.4 671.6,191.5 671.6,191.7 671.9,191.7 671.9,191.3 672.2,191.4 672.2,191.6 672.6,191.7 672.6,191.3 672.9,191.4 672.9,191.6 673.2,191.7 673.2,191.4 673.6,191.4 673.6,191.7 673.9,191.6 673.9,191.4 674.2,191.5 674.2,191.6 674.6,191.6 674.6,191.4 674.9,191.4 674.9,191.6 675.2,191.5 675.6,191.6 675.6,191.4 675.9,191.4 675.9,191.6 676.2,191.6 676.2,191.4 676.6,191.5 676.9,191.6 676.9,191.4 677.2,191.5 677.6,191.6 677.6,191.4 677.9,191.4 677.9,191.6 678.2,191.6 678.2,191.4 678.6,191.4 678.6,191.6 678.9,191.6 678.9,191.4 679.2,191.5 679.6,191.5 679.9,191.5 680.2,191.5 680.6,191.5 680.9,191.5 681.2,191.5 681.6,191.5 681.9,191.5 682.2,191.5 682.6,191.5 682.9,191.5 683.2,191.5 683.6,191.5 683.9,191.5 684.2,191.5 684.6,191.5 684.9,191.5 685.2,191.5 685.6,191.5 685.9,191.5 686.2,191.5 686.6,191.5 686.9,191.5 687.2,191.5 687.6,191.5 687.9,191.5 688.2,191.5 688.6,191.5 688.9,191.5 689.2,191.5 689.6,191.5 689.9,191.5 690.2,191.5 690.6,191.5 690.9,191.5 691.2,191.5 691.6,191.5 691.9,191.5 692.2,191.5 692.6,191.5 692.9,191.5 693.2,191.5" stroke="#00ff00" stroke-width="0.38"/>
<path d="M448.7,283.2 448.7,282.0 449.2,281.4 449.2,280.3 449.7,279.8 449.7,278.8 450.3,278.3 450.3,277.3 450.8,276.8 450.8,275.7 451.3,275.2 451.3,274.2 M475.7,221.5 475.7,206.4 476.2,205.0 476.2,215.3 476.7,213.4 476.7,203.6 477.2,199.3 477.2,214.4 477.7,211.2 477.7,200.6 478.2,197.3 478.2,209.9 478.7,206.7 478.7,195.3 479.2,194.8 479.2,206.0 479.7,205.6 479.7,190.4 480.2,194.3 480.2,206.5 480.7,199.7 480.7,188.2 481.2,190.1 481.2,200.4 481.7,196.7 481.7,186.7 482.2,183.9 482.2,194.2 482.7,193.5 482.7,183.6 483.2,179.4 483.2,189.1 483.7,187.9 483.7,179.4 484.2,180.3 484.2,191.1 484.7,187.0 484.7,177.9 485.2,180.0 485.2,187.3 485.7,188.7 485.7,178.9 486.2,177.2 486.2,187.5 486.7,183.8 486.7,175.6 487.2,171.6 487.2,182.8 487.7,186.7 487.7,174.9 488.2,171.8 488.2,181.8 488.7,183.3 488.7,175.2 489.2,171.2 489.2,181.7 489.7,182.8 489.7,172.2 490.2,171.0 490.2,179.9 490.7,182.4 490.7,174.3 491.2,179.0 491.2,169.1 491.7,170.4 491.7,180.0 492.2,181.1 492.2,168.6 492.7,164.5 492.7,174.6 493.2,177.4 493.2,162.2 493.7,165.7 493.7,179.0 494.2,174.0 494.2,165.0 494.7,168.7 494.7,174.9 495.2,177.8 495.2,170.3 495.7,167.3 495.7,180.0 496.2,176.3 496.2,167.9 496.7,167.6 496.7,175.2 497.2,177.5 497.2,169.1 497.7,169.5 497.7,177.4 498.2,181.4 498.2,172.1 498.7,173.4 498.7,181.7 499.2,182.1 499.2,173.9 499.7,176.0 499.7,183.6 500.2,187.5 500.2,174.7 500.7,175.3 500.7,185.1 501.2,189.4 501.2,175.7 501.7,181.5 501.7,189.8 502.2,192.8 502.2,180.5 502.7,182.1 502.7,190.4 503.2,192.5 503.2,182.9 503.7,182.0 503.7,193.2 504.2,191.4 504.2,182.4 504.7,183.6 504.7,191.9 505.2,188.8 505.2,184.4 505.7,179.8 505.7,194.6 506.2,188.9 506.2,180.2 506.7,179.0 506.7,187.7 507.2,187.6 507.2,175.3 507.7,176.2 507.7,188.3 508.2,187.2 508.2,177.0 508.7,175.2 508.7,181.6 509.2,177.2 509.2,187.0 509.7,184.9 509.7,170.5 510.2,172.8 510.2,183.9 510.7,182.5 510.7,171.6 511.2,171.2 511.2,180.0 511.7,180.5 511.7,170.1 512.2,171.1 512.2,184.7 512.7,180.9 512.7,170.2 513.2,172.8 513.2,178.6 513.7,181.1 513.7,170.5 514.2,167.4 514.2,175.4 514.7,175.4 514.7,166.4 515.2,165.7 515.2,173.8 515.7,172.3 515.7,162.5 516.2,166.5 516.2,174.4 516.7,175.0 516.7,163.2 517.2,165.6 517.2,174.9 517.7,169.6 517.7,164.9 518.2,160.5 518.2,174.3 518.7,168.4 518.7,161.7 519.2,155.5 519.2,168.4 519.7,166.7 519.7,158.4 520.2,156.4 520.2,165.7 520.7,164.1 520.7,155.4 521.2,154.6 521.2,163.3 521.7,166.1 521.7,156.9 522.2,154.6 522.2,163.3 522.7,162.2 522.7,153.7 523.2,153.4 523.2,162.4 523.7,160.4 523.7,150.9 524.2,152.0 524.2,159.8 524.7,159.1 524.7,152.2 525.2,150.8 525.2,160.1 525.7,161.0 525.7,148.9 526.2,153.4 526.2,159.0 526.7,163.1 526.7,151.6 527.2,152.2 527.2,160.6 527.7,156.3 527.7,169.9 528.2,166.3 528.2,157.5 528.7,156.4 528.7,166.7 529.2,171.3 529.2,159.9 529.7,165.0 529.7,175.7 530.2,176.9 530.2,163.9 530.7,161.1 530.7,173.7 531.2,172.3 531.2,157.6 531.7,154.9 531.7,166.5 532.2,168.7 532.2,157.4 532.7,161.5 532.7,168.1 533.2,171.0 533.2,161.2 533.7,159.4 533.7,169.8 534.2,164.0 534.2,156.8 534.7,151.8 534.7,165.3 535.2,163.4 535.2,150.5 535.7,149.8 535.7,162.7 536.2,156.7 536.2,148.6 536.7,153.7 536.7,163.2 537.2,160.6 537.2,150.3 537.7,155.5 537.7,166.3 538.2,172.8 538.2,157.7 538.7,165.1 538.7,175.9 539.2,177.6 539.2,166.8 539.7,163.4 539.7,175.7 540.2,171.2 540.2,163.3 540.7,162.5 540.7,173.7 541.2,173.6 541.2,161.9 541.7,161.0 541.7,169.1 542.2,171.8 542.2,157.6 542.7,160.4 542.7,152.6 543.2,156.6 543.2,147.2 543.7,147.7 543.7,139.4 544.2,139.5 544.2,147.8 544.7,145.2 544.7,134.1 545.2,131.5 545.2,138.3 545.7,142.3 545.7,131.6 546.2,133.7 546.2,123.3 546.7,121.0 546.7,131.0 547.2,129.9 547.2,117.2 547.7,119.6 547.7,127.3 548.2,122.7 548.2,112.8 548.7,114.0 548.7,121.9 549.2,121.1 549.2,111.5 549.7,107.5 549.7,122.2 550.2,118.6 550.2,108.9 550.7,104.6 550.7,117.1 551.2,117.6 551.2,105.4 551.7,101.6 551.7,113.6 552.2,106.5 552.2,95.2 552.7,97.1 552.7,108.8 553.2,105.9 553.2,95.2 553.7,94.8 553.7,102.0 554.2,101.1 554.2,91.9 554.7,88.8 554.7,98.2 555.2,94.3 555.2,85.5 555.7,80.5 555.7,92.0 556.2,91.3 556.2,82.1 556.7,80.0 556.7,93.8 557.2,83.2 557.2,76.2 557.7,71.3 557.7,81.3 558.2,84.2 558.2,73.8 558.7,75.9 558.7,87.2 559.2,92.7 559.2,79.5 559.7,85.7 559.7,95.2 560.2,98.0 560.2,88.5 560.7,90.9 560.7,101.1 561.2,105.9 561.2,92.8 561.7,95.6 561.7,104.0 562.2,105.2 562.2,100.0 562.7,98.8 562.7,110.3 563.2,106.8 563.2,119.0 563.7,113.7 563.7,106.0 564.2,111.3 564.2,118.9 564.7,113.4 564.7,124.8 565.2,123.1 565.2,109.7 565.7,110.7 565.7,125.3 566.2,129.3 566.2,117.3 566.7,120.9 566.7,130.0 567.2,128.1 567.2,116.8 567.7,120.5 567.7,132.7 568.2,128.0 568.2,122.5 568.7,122.8 568.7,131.8 569.2,136.1 569.2,124.3 569.7,128.1 569.7,136.1 570.2,139.8 570.2,122.9 570.7,130.0 570.7,138.3 571.2,141.9 571.2,128.5 571.7,132.8 571.7,142.5 572.2,143.5 572.2,134.3 572.7,136.7 572.7,146.4 573.2,144.9 573.2,136.7 573.7,135.7 573.7,148.6 574.2,151.3 574.2,141.1 574.7,138.8 574.7,147.7 575.2,144.9 575.2,151.4 575.7,156.2 575.7,141.1 576.2,143.6 576.2,155.3 576.7,156.0 576.7,146.1 577.2,150.1 577.2,158.7 577.7,163.1 577.7,150.5 578.2,150.5 578.2,158.3 578.7,150.8 578.7,166.5 579.2,162.4 579.2,152.5 579.7,151.3 579.7,169.4 580.2,164.1 580.2,157.3 580.7,158.1 580.7,170.7 581.2,168.1 581.2,158.9 581.7,156.5 581.7,167.3 582.2,169.0 582.2,162.1 582.7,161.8 582.7,171.3 583.2,171.7 583.2,164.2 583.7,161.3 583.7,170.4 584.2,172.1 584.2,163.4 584.7,163.3 584.7,179.0 585.2,174.2 585.2,166.0 585.7,165.5 585.7,177.2 586.2,175.0 586.2,164.1 586.7,168.1 586.7,178.0 587.2,181.2 587.2,170.1 587.7,168.6 587.7,181.4 588.2,181.6 588.2,173.0 588.7,171.3 588.7,186.5 589.2,183.2 589.2,171.7 589.7,175.5 589.7,185.7 590.2,184.5 590.2,173.9 590.7,173.4 590.7,183.5 591.2,185.1 591.2,176.1 591.7,177.5 591.7,191.1 592.2,183.2 592.2,173.3 592.7,174.7 592.7,186.6 593.2,180.5 593.2,195.6 593.7,190.7 593.7,181.6 594.2,178.2 594.2,190.2 594.7,192.3 594.7,180.2 595.2,180.8 595.2,192.5 595.7,194.0 595.7,183.5 596.2,184.9 596.2,195.5 596.7,192.5 596.7,185.9 597.2,185.3 597.2,192.9 597.7,190.5 597.7,184.3 598.2,182.2 598.2,193.7 598.7,196.7 598.7,187.4 599.2,183.9 599.2,199.6 599.7,198.3 599.7,189.3 600.2,189.2 600.2,197.2 600.7,197.3 600.7,187.0 601.2,189.1 601.2,197.3 601.7,199.6 601.7,190.6 602.2,191.1 602.2,202.8 602.7,201.1 602.7,194.4 603.2,190.9 603.2,202.9 603.7,204.1 603.7,192.2 604.2,193.0 604.2,200.7 604.7,204.6 604.7,193.3 605.2,193.5 605.2,202.4 605.7,203.1 605.7,192.7 606.2,192.8 606.2,203.9 606.7,202.7 606.7,195.9 607.2,196.7 607.2,206.5 607.7,209.7 607.7,196.3 608.2,195.7 608.2,203.8 608.7,206.6 608.7,196.1 609.2,197.3 609.2,208.2 609.7,213.7 609.7,197.4 610.2,198.5 610.2,210.1 610.7,205.5 610.7,196.9 611.2,198.5 611.2,211.5 611.7,208.0 611.7,198.6 612.2,199.0 612.2,209.6 612.7,208.9 612.7,201.0 613.2,202.6 613.2,215.3 613.7,212.3 613.7,199.8 614.2,200.3 614.2,212.3 614.7,208.4 614.7,202.4 615.2,200.4 615.2,209.1 615.7,210.3 615.7,201.2 616.2,203.4 616.2,214.1 616.7,213.3 616.7,204.4 617.2,202.2 617.2,214.6 617.7,215.7 617.7,201.0 618.2,202.2 618.2,212.4 618.7,212.9 618.7,204.1 619.2,207.5 619.2,212.3 619.7,213.3 619.7,202.8 620.2,203.3 620.2,211.2 620.7,217.2 620.7,205.1 621.2,204.7 621.2,213.3 621.7,214.4 621.7,207.9 622.2,207.1 622.2,216.0 622.7,216.1 622.7,207.5 623.2,206.7 623.2,220.1 623.7,216.1 623.7,205.1 624.2,206.1 624.2,217.1 624.7,212.8 624.7,206.1 625.2,205.9 625.2,216.6 625.7,215.2 625.7,207.7 626.2,206.3 626.2,216.8 626.7,217.0 626.7,206.5 627.2,207.4 627.2,214.7 627.7,216.5 627.7,207.3 628.2,208.7 628.2,215.9 628.7,215.1 628.7,208.8 629.2,207.4 629.2,215.4 629.7,217.1 629.7,210.6 630.2,209.6 630.2,215.9 630.7,216.2 630.7,207.3 631.2,209.5 631.2,217.8 631.7,219.3 631.7,211.8 632.2,215.1 632.2,207.4 632.7,208.3 632.7,218.5 633.2,217.6 633.2,210.4 633.7,209.5 633.7,215.9 634.2,216.9 634.2,210.3 634.7,208.7 634.7,215.7 635.2,217.0 635.2,208.2 635.7,209.3 635.7,216.4 636.2,218.2 636.2,210.0 636.7,210.7 636.7,216.6 637.2,218.7 637.2,208.9 637.7,209.8 637.7,217.7 638.2,218.0 638.2,210.7 638.7,211.1 638.7,217.9 639.2,217.1 639.2,210.5 639.7,210.6 639.7,216.7 640.2,218.0 640.2,212.7 640.7,211.4 640.7,217.1 641.2,217.8 641.2,213.8 641.7,216.5 641.7,210.2 642.2,213.1 642.2,217.9 642.7,217.7 642.7,214.0 643.2,214.0 643.2,218.0 643.7,218.1 643.7,212.1 644.2,212.2 644.2,216.3 644.7,216.7 644.7,212.9 645.2,212.2 645.2,217.5 645.7,217.6 645.7,212.6 646.2,212.2 646.2,217.0 646.7,217.2 646.7,213.4 647.2,213.2 647.2,217.6 647.7,217.3 647.7,210.9 648.2,212.6 648.2,215.6 648.7,217.3 648.7,211.9 649.2,212.9 649.2,217.2 649.7,217.5 649.7,213.0 650.2,213.4 650.2,216.8 650.7,217.9 650.7,212.7 651.2,211.8 651.2,217.0 651.7,217.5 651.7,213.1 652.2,213.1 652.2,217.2 652.7,216.7 652.7,213.9 653.2,212.7 653.2,216.7 653.7,216.5 653.7,212.3 654.2,214.1 654.2,216.9 654.7,217.5 654.7,213.4 655.2,213.8 655.2,217.6 655.7,217.3 655.7,213.6 656.2,214.4 656.2,217.1 656.7,217.5 656.7,214.2 657.2,212.9 657.2,217.3 657.7,217.3 657.7,214.1 658.2,214.4 658.2,217.2 658.7,217.3 658.7,213.4 659.2,213.7 659.2,216.8 659.7,217.2 659.7,213.9 660.2,213.2 660.2,215.9 660.7,216.4 660.7,213.8 661.2,213.6 661.2,217.2 661.7,216.9 661.7,213.8 662.2,213.9 662.2,217.1 662.7,216.7 662.7,214.7 663.2,213.5 663.2,217.1 663.7,217.1 663.7,213.3 664.2,214.2 664.2,216.7 664.7,216.4 664.7,213.9 665.2,214.3 665.2,216.7 665.7,216.5 665.7,213.7 666.2,214.6 666.2,216.6 666.7,216.7 666.7,213.8 667.2,214.8 667.2,217.3 667.7,217.1 667.7,215.2 668.2,214.6 668.2,216.8 668.7,216.7 668.7,214.4 669.2,215.1 669.2,216.7 669.7,216.9 669.7,214.6 670.2,214.6 670.2,216.9 670.7,216.8 670.7,214.9 671.2,215.0 671.2,217.1 671.7,217.0 671.7,215.2 672.2,214.9 672.2,216.1 672.7,216.9 672.7,214.9 673.2,215.3 673.2,217.0 673.7,216.9 673.7,215.5 674.2,215.7 674.2,216.8 674.7,216.7 674.7,215.5 675.2,215.5 675.2,216.9 675.7,216.8 675.7,215.6 676.2,215.7 676.2,216.7 676.7,216.4 676.7,215.7 677.2,215.6 677.2,216.8 677.7,216.8 677.7,215.6 678.2,215.7 678.2,216.7 678.7,216.8 678.7,215.6" stroke="#0000ff" stroke-width="0.80"/>
<path d="M448.7,283.7 448.7,282.6 449.0,282.5 449.0,281.4 449.3,281.3 449.3,280.3 449.7,280.3 449.7,279.3 450.0,279.2 450.0,278.3 450.3,278.2 450.3,277.3 450.7,277.2 450.7,276.2 451.0,276.2 451.0,275.3 451.3,275.2 451.3,274.2 451.7,274.1 451.7,273.4 452.0,273.3 452.0,272.6 452.3,272.5 452.3,271.8 452.7,271.7 452.7,271.0 453.0,271.0 453.0,270.2 453.3,270.2 453.3,269.4 453.7,269.3 453.7,268.6 454.0,268.6 454.0,267.8 454.3,267.8 454.3,267.1 454.7,267.0 454.7,266.3 455.0,266.2 455.0,265.6 455.3,265.6 455.3,265.1 455.7,265.1 455.7,264.5 456.0,264.5 456.0,264.0 456.3,264.0 456.3,263.5 456.7,263.4 456.7,262.9 457.0,262.9 457.0,262.4 457.3,262.3 457.3,261.8 457.7,261.8 457.7,261.3 458.0,261.3 458.0,260.7 458.3,260.7 458.3,260.2 458.7,260.1 458.7,259.7 459.0,259.6 459.0,259.1 459.3,259.1 459.3,258.7 459.7,258.6 459.7,258.2 460.0,258.2 460.0,257.8 460.3,257.7 460.3,257.4 460.7,257.3 460.7,256.9 461.0,256.9 461.0,256.5 461.3,256.5 461.3,256.0 461.7,256.0 461.7,255.6 462.0,255.6 462.0,255.2 462.3,255.1 462.3,254.7 462.7,254.7 462.7,254.3 463.0,254.3 463.0,253.9 463.3,253.8 463.3,253.4 463.7,253.4 463.7,253.0 464.0,253.0 464.0,252.6 464.3,252.6 464.3,252.3 464.7,252.3 464.7,251.9 465.0,251.9 465.0,251.6 465.3,251.5 465.3,251.2 465.7,251.2 465.7,250.9 466.0,250.8 466.0,250.5 466.3,250.5 466.3,250.2 466.7,250.1 466.7,249.8 467.0,249.8 467.0,249.5 467.3,249.4 467.3,249.1 467.7,249.1 467.7,248.7 468.0,248.7 468.0,248.4 468.3,248.4 468.3,248.0 468.7,248.0 468.7,247.7 469.0,247.7 469.0,247.3 469.3,247.3 469.3,247.0 469.7,246.9 469.7,246.6 470.0,246.6 470.0,246.3 470.3,246.3 470.3,246.0 470.7,246.0 470.7,245.7 471.0,245.7 471.0,245.4 471.3,245.4 471.3,245.1 471.7,245.1 471.7,244.8 472.0,244.8 472.0,244.6 472.3,244.5 472.3,244.2 472.7,244.2 472.7,243.9 473.0,243.9 473.0,243.7 473.3,243.6 473.3,243.4 473.7,243.3 473.7,243.1 474.0,243.1 474.0,242.8 474.3,242.8 474.3,242.5 474.7,242.5 474.7,242.2 475.0,242.2 475.0,241.9 475.3,241.9 475.3,241.6 475.6,241.6 475.6,210.3 476.0,205.0 476.0,221.5 476.3,229.5 476.3,208.7 476.7,203.6 476.7,238.6 477.0,224.1 477.0,207.7 477.3,199.3 477.3,227.6 477.7,218.9 477.7,202.6 478.0,197.5 478.0,211.2 478.3,220.7 478.3,197.3 478.7,198.5 478.7,209.9 479.0,218.2 479.0,194.8 479.3,194.9 479.3,219.8 479.7,210.3 479.7,192.0 480.0,190.4 480.0,233.7 480.3,214.3 480.3,194.9 480.6,188.5 480.6,212.7 481.0,201.8 481.0,188.2 481.3,190.3 481.3,209.1 481.7,227.2 481.7,190.0 482.0,186.7 482.0,212.5 482.3,199.1 482.3,183.9 482.7,183.6 482.7,207.8 483.0,199.9 483.0,187.5 483.3,179.4 483.3,199.7 483.7,195.0 483.7,179.4 484.0,181.3 484.0,191.1 484.3,180.3 484.3,204.8 484.7,210.4 484.7,177.9 485.0,178.2 485.0,205.1 485.3,199.4 485.3,180.0 485.7,178.9 485.7,204.3 486.0,198.3 486.0,177.2 486.3,177.3 486.3,195.5 486.6,188.7 486.6,175.6 487.0,176.4 487.0,205.2 487.3,183.4 487.3,171.6 487.7,178.6 487.7,193.3 488.0,191.5 488.0,174.9 488.3,171.8 488.3,192.4 488.7,191.0 488.7,175.6 489.0,172.9 489.0,197.7 489.3,191.8 489.3,171.2 489.6,172.2 489.6,213.7 490.0,193.5 490.0,175.1 490.3,171.0 490.3,191.2 490.7,185.9 490.7,174.3 491.0,169.8 491.0,186.1 491.3,191.6 491.3,169.1 491.6,170.4 491.6,185.5 492.0,182.7 492.0,170.6 492.3,168.6 492.3,184.8 492.6,188.7 492.6,164.5 493.0,167.6 493.0,179.1 493.3,192.9 493.3,162.2 493.7,165.7 493.7,188.6 494.0,181.2 494.0,165.0 494.3,169.7 494.3,181.3 494.6,192.9 494.6,168.7 495.0,168.9 495.0,184.4 495.3,180.7 495.3,170.3 495.6,167.3 495.6,183.0 496.0,192.6 496.0,167.9 496.3,168.4 496.3,184.0 496.6,184.1 496.6,167.6 497.0,167.9 497.0,181.4 497.3,191.9 497.3,169.1 497.6,169.5 497.6,182.4 498.0,185.6 498.0,172.5 498.3,172.1 498.3,186.5 498.6,188.7 498.6,175.8 499.0,173.4 499.0,189.2 499.3,191.2 499.3,173.9 499.7,176.9 499.7,188.1 500.0,197.1 500.0,176.0 500.3,174.7 500.3,194.2 500.6,189.8 500.6,175.3 501.0,175.7 501.0,195.4 501.3,196.2 501.3,181.1 501.6,181.5 501.6,203.8 502.0,199.4 502.0,180.5 502.3,184.0 502.3,216.2 502.6,200.4 502.6,182.3 503.0,182.1 503.0,196.8 503.3,198.8 503.3,183.7 503.6,182.0 503.6,199.5 504.0,200.9 504.0,184.0 504.3,182.4 504.3,207.6 504.6,206.2 504.6,183.6 505.0,184.0 505.0,199.5 505.3,196.6 505.3,184.4 505.6,179.8 505.6,206.1 506.0,204.1 506.0,181.4 506.3,180.2 506.3,198.1 506.6,195.4 506.6,179.0 507.0,182.0 507.0,196.1 507.3,175.3 507.3,222.1 507.6,191.1 507.6,176.2 508.0,177.7 508.0,193.1 508.3,194.9 508.3,177.0 508.6,175.2 508.6,183.8 509.0,177.0 509.0,191.3 509.3,177.2 509.3,219.3 509.6,192.8 509.6,170.5 510.0,174.2 510.0,194.6 510.3,197.5 510.3,172.8 510.6,177.9 510.6,187.4 511.0,183.9 511.0,171.3 511.3,171.2 511.3,182.3 511.6,188.9 511.6,170.1 512.0,175.2 512.0,190.0 512.3,189.6 512.3,171.1 512.6,170.2 512.6,189.2 513.0,188.2 513.0,173.2 513.3,172.8 513.3,180.2 513.6,170.5 513.6,194.9 514.0,191.9 514.0,167.4 514.3,167.8 514.3,184.0 514.6,181.3 514.6,166.4 515.0,167.7 515.0,186.2 515.3,189.6 515.3,165.7 515.6,165.0 515.6,192.4 516.0,177.7 516.0,162.5 516.3,166.5 516.3,190.4 516.6,188.6 516.6,163.2 517.0,166.4 517.0,183.7 517.3,178.9 517.3,165.6 517.6,165.3 517.6,180.4 518.0,185.0 518.0,164.9 518.3,160.5 518.3,180.7 518.6,177.4 518.6,161.7 519.0,162.6 519.0,179.1 519.3,171.8 519.3,155.5 519.6,159.7 519.6,178.7 520.0,169.3 520.0,158.0 520.3,156.4 520.3,170.3 520.6,168.4 520.6,155.4 521.0,154.6 521.0,180.4 521.3,165.9 521.3,154.6 521.6,156.9 521.6,172.2 522.0,168.9 522.0,155.6 522.3,154.6 522.3,171.9 522.6,171.7 522.6,153.7 523.0,153.4 523.0,170.3 523.3,178.1 523.3,156.8 523.6,150.9 523.6,173.6 524.0,171.3 524.0,152.3 524.3,152.0 524.3,164.1 524.6,165.0 524.6,152.2 525.0,153.2 525.0,183.6 525.3,170.2 525.3,150.8 525.6,153.5 525.6,173.5 526.0,166.4 526.0,148.9 526.3,153.4 526.3,166.7 526.6,169.1 526.6,151.6 527.0,152.5 527.0,167.6 527.3,174.7 527.3,152.2 527.6,156.3 527.6,170.6 528.0,175.5 528.0,157.4 528.3,159.2 528.3,173.1 528.6,171.3 528.6,156.4 529.0,159.9 529.0,188.6 529.3,190.3 529.3,161.4 529.6,165.0 529.6,186.9 530.0,189.7 530.0,167.9 530.3,163.9 530.3,189.0 530.6,187.0 530.6,161.1 531.0,162.8 531.0,222.9 531.3,173.7 531.3,157.6 531.6,154.9 531.6,177.3 532.0,177.9 532.0,157.4 532.3,160.4 532.3,207.5 532.6,171.0 532.6,161.5 533.0,161.2 533.0,174.5 533.3,165.0 533.3,187.1 533.6,177.4 533.6,161.2 534.0,158.6 534.0,180.8 534.3,176.7 534.3,156.8 534.6,156.5 534.6,170.2 535.0,174.6 535.0,151.7 535.3,150.5 535.3,177.0 535.6,166.3 535.6,150.5 536.0,148.6 536.0,190.1 536.3,165.6 536.3,151.2 536.6,154.2 536.6,168.6 537.0,169.6 537.0,153.7 537.3,150.3 537.3,164.4 537.6,155.5 537.6,177.4 538.0,175.9 538.0,157.3 538.3,163.0 538.3,184.6 538.6,198.7 538.6,167.6 539.0,165.1 539.0,183.7 539.3,192.6 539.3,166.8 539.6,163.9 539.6,190.9 540.0,180.0 540.0,163.3 540.3,164.0 540.3,188.4 540.6,174.1 540.6,162.5 541.0,166.3 541.0,183.0 541.3,177.6 541.3,161.9 541.6,161.0 541.6,176.9 542.0,178.4 542.0,161.3 542.3,157.6 542.3,182.2 542.6,173.9 542.6,154.5 543.0,149.6 543.0,161.6 543.3,173.8 543.3,147.2 543.6,149.8 543.6,139.5 544.0,139.4 544.0,160.6 544.3,154.7 544.3,139.5 544.6,137.3 544.6,153.7 545.0,150.3 545.0,134.1 545.3,131.5 545.3,149.1 545.6,147.2 545.6,131.6 546.0,127.7 546.0,156.7 546.3,161.6 546.3,123.3 546.6,121.0 546.6,142.5 547.0,136.7 547.0,121.2 547.3,117.2 547.3,139.1 547.6,142.5 547.6,119.7 548.0,112.8 548.0,130.4 548.3,133.3 548.3,116.3 548.6,114.0 548.6,135.7 549.0,135.6 549.0,111.5 549.3,112.1 549.3,129.6 549.6,132.3 549.6,108.8 550.0,107.5 550.0,125.3 550.3,135.6 550.3,109.6 550.6,104.6 550.6,122.5 551.0,125.3 551.0,109.0 551.3,105.4 551.3,123.8 551.6,136.1 551.6,101.6 552.0,98.2 552.0,121.3 552.3,119.9 552.3,95.2 552.6,97.1 552.6,111.2 553.0,114.1 553.0,95.2 553.3,98.2 553.3,122.0 553.6,109.1 553.6,94.8 554.0,95.3 554.0,110.2 554.3,109.4 554.3,91.9 554.6,88.8 554.6,111.9 555.0,102.4 555.0,88.2 555.3,85.5 555.3,96.6 555.6,103.4 555.6,85.6 556.0,80.5 556.0,102.5 556.3,110.2 556.3,82.1 556.6,80.0 556.6,101.8 557.0,96.5 557.0,76.2 557.3,76.6 557.3,99.8 557.6,86.9 557.6,71.3 558.0,73.5 558.0,95.2 558.3,87.2 558.3,73.8 558.6,75.9 558.6,97.4 558.9,95.3 558.9,79.5 559.3,81.7 559.3,99.3 559.6,112.6 559.6,85.7 560.0,88.5 560.0,107.2 560.3,103.1 560.3,90.3 560.6,90.9 560.6,108.9 561.0,92.8 561.0,126.5 561.3,117.4 561.3,96.6 561.6,96.2 561.6,115.3 561.9,122.3 561.9,95.6 562.3,100.0 562.3,109.0 562.6,98.8 562.6,122.0 563.0,125.1 563.0,102.2 563.3,106.8 563.3,123.4 563.6,124.0 563.6,106.0 564.0,107.2 564.0,120.5 564.3,111.6 564.3,144.3 564.6,127.9 564.6,113.4 564.9,117.3 564.9,137.0 565.3,125.8 565.3,109.7 565.6,110.7 565.6,128.6 566.0,122.0 566.0,146.6 566.3,139.9 566.3,117.3 566.6,120.9 566.6,142.3 567.0,145.5 567.0,119.3 567.3,116.8 567.3,136.4 567.6,148.2 567.6,120.5 567.9,122.1 567.9,136.0 568.3,142.4 568.3,122.5 568.6,122.8 568.6,143.2 569.0,144.9 569.0,124.4 569.3,124.3 569.3,147.8 569.6,148.1 569.6,128.1 569.9,122.9 569.9,139.8 570.3,147.8 570.3,130.0 570.6,130.0 570.6,147.1 571.0,146.7 571.0,134.8 571.3,128.5 571.3,163.1 571.6,159.0 571.6,132.8 572.0,134.3 572.0,151.9 572.3,151.9 572.3,134.3 572.6,136.7 572.6,157.9 572.9,148.2 572.9,136.7 573.3,137.3 573.3,163.7 573.6,154.9 573.6,135.7 574.0,140.4 574.0,167.3 574.3,160.5 574.3,141.1 574.6,138.8 574.6,155.4 574.9,160.9 574.9,141.4 575.3,144.9 575.3,166.9 575.6,160.3 575.6,141.1 575.9,145.1 575.9,167.1 576.3,166.3 576.3,143.6 576.6,146.1 576.6,161.6 577.0,163.6 577.0,150.9 577.3,150.1 577.3,171.6 577.6,169.3 577.6,150.8 577.9,150.5 577.9,168.4 578.3,166.1 578.3,150.5 578.6,150.8 578.6,171.4 578.9,156.5 578.9,208.0 579.3,169.6 579.3,152.5 579.6,151.3 579.6,180.4 580.0,191.2 580.0,157.3 580.3,157.3 580.3,177.3 580.6,191.4 580.6,158.1 580.9,159.3 580.9,176.7 581.3,182.4 581.3,158.9 581.6,156.5 581.6,178.6 581.9,179.7 581.9,162.1 582.3,164.4 582.3,183.2 582.6,183.6 582.6,162.7 583.0,161.8 583.0,178.0 583.3,178.4 583.3,164.3 583.6,161.3 583.6,174.8 583.9,165.8 583.9,186.0 584.3,182.7 584.3,163.4 584.6,163.3 584.6,188.8 584.9,192.2 584.9,167.1 585.3,166.0 585.3,184.5 585.6,179.7 585.6,165.5 585.9,164.1 585.9,185.1 586.3,195.8 586.3,166.3 586.6,170.2 586.6,194.2 586.9,189.4 586.9,168.1 587.3,171.7 587.3,198.8 587.6,185.3 587.6,168.6 587.9,171.0 587.9,188.8 588.3,188.6 588.3,173.6 588.6,173.3 588.6,193.6 588.9,190.2 588.9,171.3 589.3,171.7 589.3,190.1 589.6,195.1 589.6,176.8 589.9,173.9 589.9,189.7 590.3,192.6 590.3,175.4 590.6,173.4 590.6,194.7 590.9,189.9 590.9,176.3 591.3,176.1 591.3,188.2 591.6,196.8 591.6,179.5 591.9,177.5 591.9,204.1 592.3,192.9 592.3,173.3 592.6,181.5 592.6,197.5 592.9,196.8 592.9,174.7 593.3,188.0 593.3,218.4 593.6,217.1 593.6,184.4 593.9,181.6 593.9,202.3 594.3,203.9 594.3,178.2 594.6,180.2 594.6,203.2 594.9,206.3 594.9,180.8 595.3,186.1 595.3,201.4 595.6,197.4 595.6,183.5 595.9,187.4 595.9,205.5 596.3,198.2 596.3,184.9 596.6,185.9 596.6,206.3 596.9,197.6 596.9,187.5 597.3,185.3 597.3,204.6 597.6,204.2 597.6,184.3 597.9,184.6 597.9,199.1 598.3,182.2 598.3,219.3 598.6,206.0 598.6,187.4 598.9,189.1 598.9,210.4 599.3,205.3 599.3,183.9 599.6,189.3 599.6,213.1 599.9,200.6 599.9,189.2 600.3,189.5 600.3,212.7 600.6,201.4 600.6,187.0 600.9,189.1 600.9,214.4 601.3,199.3 601.3,189.5 601.6,190.6 601.6,205.9 601.9,211.7 601.9,191.1 602.3,195.3 602.3,204.9 602.6,194.4 602.6,221.6 602.9,211.8 602.9,190.9 603.3,194.6 603.3,214.7 603.6,216.1 603.6,192.2 603.9,193.0 603.9,214.5 604.3,216.9 604.3,193.9 604.6,197.6 604.6,220.9 604.9,212.5 604.9,193.3 605.3,193.5 605.3,209.3 605.6,206.6 605.6,192.7 605.9,192.8 605.9,219.8 606.3,228.2 606.3,195.9 606.6,195.9 606.6,206.1 606.9,210.1 606.9,197.0 607.3,196.7 607.3,211.8 607.6,217.3 607.6,196.3 607.9,197.8 607.9,222.6 608.3,214.1 608.3,195.7 608.6,196.1 608.6,229.4 608.9,214.0 608.9,198.0 609.3,197.3 609.3,217.8 609.6,226.0 609.6,197.4 609.9,198.5 609.9,215.9 610.3,220.3 610.3,204.5 610.6,209.3 610.6,196.9 610.9,197.2 610.9,221.5 611.3,224.0 611.3,198.5 611.6,200.0 611.6,213.6 611.9,224.5 611.9,198.6 612.3,199.0 612.3,210.9 612.6,215.1 612.6,201.0 612.9,201.6 612.9,219.0 613.3,218.5 613.3,202.6 613.6,199.8 613.6,218.8 613.9,220.2 613.9,200.9 614.3,200.3 614.3,214.8 614.6,220.0 614.6,202.4 614.9,202.3 614.9,216.7 615.3,220.4 615.3,200.4 615.6,201.2 615.6,216.4 615.9,223.4 615.9,202.2 616.3,203.4 616.3,225.3 616.6,219.6 616.6,204.4 616.9,207.2 616.9,219.6 617.3,227.1 617.3,202.2 617.6,201.0 617.6,220.6 617.9,219.9 617.9,202.2 618.3,202.6 618.3,220.8 618.6,223.1 618.6,204.1 618.9,205.0 618.9,217.4 619.3,218.3 619.3,207.5 619.6,202.8 619.6,226.1 619.9,219.8 619.9,203.3 620.3,205.3 620.3,218.9 620.6,220.7 620.6,205.1 620.9,208.7 620.9,220.4 621.3,217.2 621.3,204.7 621.6,207.9 621.6,218.2 621.9,218.9 621.9,210.0 622.3,207.1 622.3,221.4 622.6,219.2 622.6,207.5 622.9,206.7 622.9,222.8 623.3,223.5 623.3,207.6 623.6,206.5 623.6,223.4 623.9,219.1 623.9,205.1 624.3,206.1 624.3,222.6 624.6,220.5 624.6,206.1 624.9,205.9 624.9,220.2 625.3,222.0 625.3,208.4 625.6,207.7 625.6,221.6 625.9,221.2 625.9,209.4 626.3,206.3 626.3,217.7 626.6,222.5 626.6,209.5 626.9,206.5 626.9,218.1 627.3,221.8 627.3,207.4 627.6,207.5 627.6,221.0 627.9,219.8 627.9,207.3 628.3,208.7 628.3,219.3 628.6,216.6 628.6,209.9 628.9,208.8 628.9,220.5 629.3,219.2 629.3,207.4 629.6,210.6 629.6,220.6 629.9,220.6 629.9,211.4 630.3,209.6 630.3,217.2 630.6,219.3 630.6,207.3 630.9,209.7 630.9,219.4 631.3,218.8 631.3,209.5 631.6,212.2 631.6,220.8 631.9,220.6 631.9,211.8 632.3,207.4 632.3,219.5 632.6,220.1 632.6,208.3 632.9,210.4 632.9,220.5 633.3,218.3 633.3,212.4 633.6,209.5 633.6,219.9 633.9,219.2 633.9,210.6 634.3,210.3 634.3,220.2 634.6,217.6 634.6,210.3 634.9,208.2 634.9,220.4 635.3,220.2 635.3,209.0 635.6,209.3 635.6,219.6 635.9,220.1 635.9,211.4 636.3,210.0 636.3,220.0 636.6,219.9 636.6,211.5 636.9,210.0 636.9,220.0 637.3,220.0 637.3,208.9 637.6,209.8 637.6,219.7 637.9,219.8 637.9,211.7 638.3,210.7 638.3,219.5 638.6,219.4 638.6,211.1 638.9,213.0 638.9,219.3 639.3,219.4 639.3,210.5 639.6,211.1 639.6,219.2 639.9,219.7 639.9,210.6 640.3,212.7 640.3,219.3 640.6,219.3 640.6,211.4 640.9,212.2 640.9,219.6 641.3,219.5 641.3,213.8 641.6,210.2 641.6,219.0 641.9,218.9 641.9,213.2 642.2,213.1 642.2,219.0 642.6,219.1 642.6,214.4 642.9,214.0 642.9,219.1 643.3,218.6 643.3,214.0 643.6,213.1 643.6,219.1 643.9,218.6 643.9,212.1 644.3,212.5 644.3,218.8 644.6,217.6 644.6,212.9 644.9,212.2 644.9,218.8 645.3,218.6 645.3,212.2 645.6,212.6 645.6,218.9 645.9,218.7 645.9,212.2 646.3,212.8 646.3,218.8 646.6,218.2 646.6,213.4 646.9,213.2 646.9,218.7 647.3,218.6 647.3,214.1 647.6,210.9 647.6,218.5 647.9,218.5 647.9,212.8 648.2,212.6 648.2,218.4 648.6,218.5 648.6,211.9 648.9,212.8 648.9,217.7 649.3,218.2 649.3,213.6 649.6,213.6 649.6,218.5 649.9,218.5 649.9,213.0 650.3,213.4 650.3,218.0 650.6,218.3 650.6,213.3 650.9,211.8 650.9,218.4 651.2,218.5 651.2,213.3 651.6,213.5 651.6,218.5 651.9,218.0 651.9,213.1 652.3,213.1 652.3,218.0 652.6,218.1 652.6,213.9 652.9,212.7 652.9,217.9 653.2,218.0 653.2,213.9 653.6,212.3 653.6,218.3 653.9,218.1 653.9,214.1 654.2,214.4 654.2,218.0 654.6,218.3 654.6,214.1 654.9,213.4 654.9,218.4 655.3,218.2 655.3,214.6 655.6,214.5 655.6,218.2 655.9,218.2 655.9,213.6 656.2,214.4 656.2,218.4 656.6,218.2 656.6,214.2 656.9,212.9 656.9,218.0 657.2,218.0 657.2,213.1 657.6,214.1 657.6,218.3 657.9,218.1 657.9,214.4 658.2,214.9 658.2,218.2 658.6,218.2 658.6,213.4 658.9,213.7 658.9,217.6 659.2,217.8 659.2,214.4 659.6,213.9 659.6,218.0 659.9,217.6 659.9,213.4 660.2,213.2 660.2,218.0 660.6,217.7 660.6,213.8 660.9,213.6 660.9,218.1 661.3,217.7 661.3,213.6 661.6,213.8 661.6,218.0 661.9,217.7 661.9,213.8 662.2,214.2 662.2,218.1 662.6,218.0 662.6,214.8 662.9,213.5 662.9,217.5 663.2,218.0 663.2,214.1 663.6,214.0 663.6,217.8 663.9,217.9 663.9,213.3 664.2,214.2 664.2,217.6 664.6,218.0 664.6,213.9 664.9,214.8 664.9,217.2 665.2,218.1 665.2,214.3 665.6,213.7 665.6,217.5 665.9,217.8 665.9,214.8 666.3,214.6 666.3,217.8 666.6,218.0 666.6,215.3 666.9,213.8 666.9,217.5 667.2,217.9 667.2,214.8 667.6,215.2 667.6,217.6 667.9,217.9 667.9,214.6 668.2,215.0 668.2,217.7 668.6,217.5 668.6,214.5 668.9,214.4 668.9,217.5 669.2,217.8 669.2,215.4 669.6,214.6 669.6,217.5 669.9,217.7 669.9,214.6 670.2,215.3 670.2,217.5 670.6,217.6 670.6,215.4 670.9,214.9 670.9,217.1 671.2,217.5 671.2,215.4 671.6,215.9 671.6,217.6 671.9,217.5 671.9,214.9 672.2,215.1 672.2,217.2 672.6,217.4 672.6,214.9 672.9,215.1 672.9,217.2 673.2,217.4 673.2,215.6 673.6,215.5 673.6,217.4 673.9,217.1 673.9,215.6 674.2,215.7 674.2,217.2 674.6,217.0 674.6,215.5 674.9,215.5 674.9,217.1 675.2,217.0 675.2,215.8 675.6,215.6 675.6,216.9 675.9,217.0 675.9,215.7 676.2,215.7 676.2,217.0 676.6,216.9 676.6,215.8 676.9,215.6 676.9,217.1 677.2,217.1 677.2,216.0 677.6,215.6 677.6,216.9 677.9,217.0 677.9,215.7 678.2,215.7 678.2,217.0 678.6,217.1 678.6,215.6 678.9,215.7 678.9,217.0 679.2,216.4 679.6,216.4 679.9,216.4 680.2,216.4 680.6,216.4 680.9,216.4 681.2,216.4 681.6,216.4 681.9,216.4 682.2,216.4 682.6,216.4 682.9,216.4 683.2,216.4 683.6,216.4 683.9,216.4 684.2,216.4 684.6,216.4 684.9,216.4 685.2,216.4 685.6,216.4 685.9,216.4 686.2,216.4 686.6,216.4 686.9,216.4 687.2,216.4 687.6,216.4 687.9,216.4 688.2,216.4 688.6,216.4 688.9,216.4 689.2,216.4 689.6,216.4 689.9,216.4 690.2,216.4 690.6,216.4 690.9,216.4 691.2,216.4 691.6,216.4 691.9,216.4 692.2,216.4 692.6,216.4 692.9,216.4 693.2,216.4" stroke="#0000ff" stroke-width="0.38"/>
</g>
<text x="448.50" y="316.8" text-anchor="middle" font-size="13.5" fill="#2b2b2b">0</text>
<text x="525.03" y="316.8" text-anchor="middle" font-size="13.5" fill="#2b2b2b">50</text>
<text x="601.56" y="316.8" text-anchor="middle" font-size="13.5" fill="#2b2b2b">100</text>
<text x="678.09" y="316.8" text-anchor="middle" font-size="13.5" fill="#2b2b2b">150</text>
<text x="444.90" y="300.80" text-anchor="end" font-size="11.0" fill="#2b2b2b">-4</text>
<text x="434.90" y="306.50" text-anchor="end" font-size="13.3" fill="#2b2b2b">10</text>
<text x="444.90" y="233.30" text-anchor="end" font-size="11.0" fill="#2b2b2b">-2</text>
<text x="434.90" y="239.00" text-anchor="end" font-size="13.3" fill="#2b2b2b">10</text>
<text x="444.90" y="165.80" text-anchor="end" font-size="11.0" fill="#2b2b2b">0</text>
<text x="438.80" y="171.50" text-anchor="end" font-size="13.3" fill="#2b2b2b">10</text>
<text x="444.90" y="98.30" text-anchor="end" font-size="11.0" fill="#2b2b2b">2</text>
<text x="438.80" y="104.00" text-anchor="end" font-size="13.3" fill="#2b2b2b">10</text>
<text x="444.90" y="30.80" text-anchor="end" font-size="11.0" fill="#2b2b2b">4</text>
<text x="438.80" y="36.50" text-anchor="end" font-size="13.3" fill="#2b2b2b">10</text>
<text x="570.95" y="335.5" text-anchor="middle" font-size="14.7" fill="#2b2b2b" textLength="100" lengthAdjust="spacingAndGlyphs">Frequency [Hz]</text>
<text transform="translate(414.40,164.50) rotate(-90)" text-anchor="middle" font-size="14.7" fill="#2b2b2b" textLength="63.5" lengthAdjust="spacingAndGlyphs">Amplitude</text>
<text x="570.95" y="23.6" text-anchor="middle" font-size="13.9" font-weight="bold" fill="#000" textLength="254.6" lengthAdjust="spacingAndGlyphs">Spectral decomposition Channel # 3</text>
</g>
<text class="cap" x="170.3" y="378.1" text-anchor="middle" font-size="20" fill="#000" textLength="23" lengthAdjust="spacingAndGlyphs">(<tspan font-weight="bold">a</tspan>)</text>
<text class="cap" x="562" y="378.1" text-anchor="middle" font-size="20" fill="#000" textLength="25.6" lengthAdjust="spacingAndGlyphs">(<tspan font-weight="bold">b</tspan>)</text>
</svg>
</body></html>
